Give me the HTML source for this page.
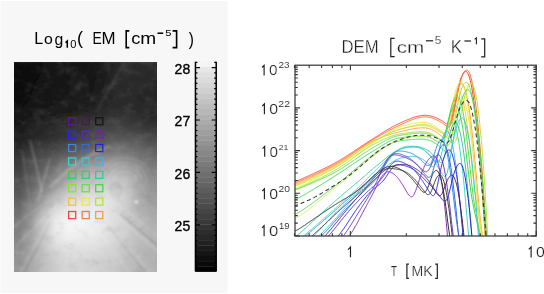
<!DOCTYPE html>
<html><head><meta charset="utf-8"><style>
html,body{margin:0;padding:0;background:#fff;}
body{width:544px;height:294px;overflow:hidden;position:relative;}
svg{position:absolute;left:0;top:0;will-change:transform;}
text{font-family:"Liberation Sans",sans-serif;}
</style></head><body>
<svg width="544" height="294" viewBox="0 0 544 294">
<defs>
<linearGradient id="r0"><stop offset="0.0417" stop-color="rgb(12,12,12)"/><stop offset="0.1250" stop-color="rgb(14,14,14)"/><stop offset="0.2083" stop-color="rgb(18,18,18)"/><stop offset="0.2917" stop-color="rgb(24,24,24)"/><stop offset="0.3750" stop-color="rgb(26,26,26)"/><stop offset="0.4583" stop-color="rgb(24,24,24)"/><stop offset="0.5417" stop-color="rgb(22,22,22)"/><stop offset="0.6250" stop-color="rgb(28,28,28)"/><stop offset="0.7083" stop-color="rgb(38,38,38)"/><stop offset="0.7917" stop-color="rgb(44,44,44)"/><stop offset="0.8750" stop-color="rgb(44,44,44)"/><stop offset="0.9583" stop-color="rgb(42,42,42)"/></linearGradient><linearGradient id="r1"><stop offset="0.0417" stop-color="rgb(12,12,12)"/><stop offset="0.1250" stop-color="rgb(14,14,14)"/><stop offset="0.2083" stop-color="rgb(18,18,18)"/><stop offset="0.2917" stop-color="rgb(24,24,24)"/><stop offset="0.3750" stop-color="rgb(26,26,26)"/><stop offset="0.4583" stop-color="rgb(24,24,24)"/><stop offset="0.5417" stop-color="rgb(22,22,22)"/><stop offset="0.6250" stop-color="rgb(28,28,28)"/><stop offset="0.7083" stop-color="rgb(38,38,38)"/><stop offset="0.7917" stop-color="rgb(44,44,44)"/><stop offset="0.8750" stop-color="rgb(44,44,44)"/><stop offset="0.9583" stop-color="rgb(42,42,42)"/></linearGradient><linearGradient id="r2"><stop offset="0.0417" stop-color="rgb(12,12,12)"/><stop offset="0.1250" stop-color="rgb(14,14,14)"/><stop offset="0.2083" stop-color="rgb(18,18,18)"/><stop offset="0.2917" stop-color="rgb(24,24,24)"/><stop offset="0.3750" stop-color="rgb(26,26,26)"/><stop offset="0.4583" stop-color="rgb(24,24,24)"/><stop offset="0.5417" stop-color="rgb(22,22,22)"/><stop offset="0.6250" stop-color="rgb(28,28,28)"/><stop offset="0.7083" stop-color="rgb(38,38,38)"/><stop offset="0.7917" stop-color="rgb(44,44,44)"/><stop offset="0.8750" stop-color="rgb(44,44,44)"/><stop offset="0.9583" stop-color="rgb(42,42,42)"/></linearGradient><linearGradient id="r3"><stop offset="0.0417" stop-color="rgb(12,12,12)"/><stop offset="0.1250" stop-color="rgb(14,14,14)"/><stop offset="0.2083" stop-color="rgb(18,18,18)"/><stop offset="0.2917" stop-color="rgb(24,24,24)"/><stop offset="0.3750" stop-color="rgb(26,26,26)"/><stop offset="0.4583" stop-color="rgb(24,24,24)"/><stop offset="0.5417" stop-color="rgb(22,22,22)"/><stop offset="0.6250" stop-color="rgb(28,28,28)"/><stop offset="0.7083" stop-color="rgb(38,38,38)"/><stop offset="0.7917" stop-color="rgb(44,44,44)"/><stop offset="0.8750" stop-color="rgb(44,44,44)"/><stop offset="0.9583" stop-color="rgb(42,42,42)"/></linearGradient><linearGradient id="r4"><stop offset="0.0417" stop-color="rgb(12,12,12)"/><stop offset="0.1250" stop-color="rgb(14,14,14)"/><stop offset="0.2083" stop-color="rgb(18,18,18)"/><stop offset="0.2917" stop-color="rgb(24,24,24)"/><stop offset="0.3750" stop-color="rgb(26,26,26)"/><stop offset="0.4583" stop-color="rgb(26,26,26)"/><stop offset="0.5417" stop-color="rgb(22,22,22)"/><stop offset="0.6250" stop-color="rgb(28,28,28)"/><stop offset="0.7083" stop-color="rgb(39,39,39)"/><stop offset="0.7917" stop-color="rgb(44,44,44)"/><stop offset="0.8750" stop-color="rgb(44,44,44)"/><stop offset="0.9583" stop-color="rgb(42,42,42)"/></linearGradient><linearGradient id="r5"><stop offset="0.0417" stop-color="rgb(12,12,12)"/><stop offset="0.1250" stop-color="rgb(15,15,15)"/><stop offset="0.2083" stop-color="rgb(19,19,19)"/><stop offset="0.2917" stop-color="rgb(24,24,24)"/><stop offset="0.3750" stop-color="rgb(25,25,25)"/><stop offset="0.4583" stop-color="rgb(29,29,29)"/><stop offset="0.5417" stop-color="rgb(23,23,23)"/><stop offset="0.6250" stop-color="rgb(29,29,29)"/><stop offset="0.7083" stop-color="rgb(41,41,41)"/><stop offset="0.7917" stop-color="rgb(44,44,44)"/><stop offset="0.8750" stop-color="rgb(43,43,43)"/><stop offset="0.9583" stop-color="rgb(41,41,41)"/></linearGradient><linearGradient id="r6"><stop offset="0.0417" stop-color="rgb(12,12,12)"/><stop offset="0.1250" stop-color="rgb(15,15,15)"/><stop offset="0.2083" stop-color="rgb(19,19,19)"/><stop offset="0.2917" stop-color="rgb(24,24,24)"/><stop offset="0.3750" stop-color="rgb(24,24,24)"/><stop offset="0.4583" stop-color="rgb(31,31,31)"/><stop offset="0.5417" stop-color="rgb(23,23,23)"/><stop offset="0.6250" stop-color="rgb(29,29,29)"/><stop offset="0.7083" stop-color="rgb(42,42,42)"/><stop offset="0.7917" stop-color="rgb(44,44,44)"/><stop offset="0.8750" stop-color="rgb(43,43,43)"/><stop offset="0.9583" stop-color="rgb(41,41,41)"/></linearGradient><linearGradient id="r7"><stop offset="0.0417" stop-color="rgb(12,12,12)"/><stop offset="0.1250" stop-color="rgb(16,16,16)"/><stop offset="0.2083" stop-color="rgb(20,20,20)"/><stop offset="0.2917" stop-color="rgb(24,24,24)"/><stop offset="0.3750" stop-color="rgb(24,24,24)"/><stop offset="0.4583" stop-color="rgb(33,33,33)"/><stop offset="0.5417" stop-color="rgb(24,24,24)"/><stop offset="0.6250" stop-color="rgb(30,30,30)"/><stop offset="0.7083" stop-color="rgb(44,44,44)"/><stop offset="0.7917" stop-color="rgb(44,44,44)"/><stop offset="0.8750" stop-color="rgb(42,42,42)"/><stop offset="0.9583" stop-color="rgb(40,40,40)"/></linearGradient><linearGradient id="r8"><stop offset="0.0417" stop-color="rgb(12,12,12)"/><stop offset="0.1250" stop-color="rgb(16,16,16)"/><stop offset="0.2083" stop-color="rgb(20,20,20)"/><stop offset="0.2917" stop-color="rgb(24,24,24)"/><stop offset="0.3750" stop-color="rgb(24,24,24)"/><stop offset="0.4583" stop-color="rgb(34,34,34)"/><stop offset="0.5417" stop-color="rgb(24,24,24)"/><stop offset="0.6250" stop-color="rgb(30,30,30)"/><stop offset="0.7083" stop-color="rgb(44,44,44)"/><stop offset="0.7917" stop-color="rgb(44,44,44)"/><stop offset="0.8750" stop-color="rgb(42,42,42)"/><stop offset="0.9583" stop-color="rgb(40,40,40)"/></linearGradient><linearGradient id="r9"><stop offset="0.0417" stop-color="rgb(12,12,12)"/><stop offset="0.1250" stop-color="rgb(17,17,17)"/><stop offset="0.2083" stop-color="rgb(21,21,21)"/><stop offset="0.2917" stop-color="rgb(24,24,24)"/><stop offset="0.3750" stop-color="rgb(24,24,24)"/><stop offset="0.4583" stop-color="rgb(33,33,33)"/><stop offset="0.5417" stop-color="rgb(24,24,24)"/><stop offset="0.6250" stop-color="rgb(31,31,31)"/><stop offset="0.7083" stop-color="rgb(44,44,44)"/><stop offset="0.7917" stop-color="rgb(43,43,43)"/><stop offset="0.8750" stop-color="rgb(41,41,41)"/><stop offset="0.9583" stop-color="rgb(40,40,40)"/></linearGradient><linearGradient id="r10"><stop offset="0.0417" stop-color="rgb(13,13,13)"/><stop offset="0.1250" stop-color="rgb(17,17,17)"/><stop offset="0.2083" stop-color="rgb(21,21,21)"/><stop offset="0.2917" stop-color="rgb(24,24,24)"/><stop offset="0.3750" stop-color="rgb(25,25,25)"/><stop offset="0.4583" stop-color="rgb(32,32,32)"/><stop offset="0.5417" stop-color="rgb(25,25,25)"/><stop offset="0.6250" stop-color="rgb(32,32,32)"/><stop offset="0.7083" stop-color="rgb(43,43,43)"/><stop offset="0.7917" stop-color="rgb(43,43,43)"/><stop offset="0.8750" stop-color="rgb(41,41,41)"/><stop offset="0.9583" stop-color="rgb(40,40,40)"/></linearGradient><linearGradient id="r11"><stop offset="0.0417" stop-color="rgb(13,13,13)"/><stop offset="0.1250" stop-color="rgb(17,17,17)"/><stop offset="0.2083" stop-color="rgb(21,21,21)"/><stop offset="0.2917" stop-color="rgb(24,24,24)"/><stop offset="0.3750" stop-color="rgb(25,25,25)"/><stop offset="0.4583" stop-color="rgb(31,31,31)"/><stop offset="0.5417" stop-color="rgb(25,25,25)"/><stop offset="0.6250" stop-color="rgb(33,33,33)"/><stop offset="0.7083" stop-color="rgb(42,42,42)"/><stop offset="0.7917" stop-color="rgb(42,42,42)"/><stop offset="0.8750" stop-color="rgb(40,40,40)"/><stop offset="0.9583" stop-color="rgb(40,40,40)"/></linearGradient><linearGradient id="r12"><stop offset="0.0417" stop-color="rgb(14,14,14)"/><stop offset="0.1250" stop-color="rgb(18,18,18)"/><stop offset="0.2083" stop-color="rgb(22,22,22)"/><stop offset="0.2917" stop-color="rgb(24,24,24)"/><stop offset="0.3750" stop-color="rgb(26,26,26)"/><stop offset="0.4583" stop-color="rgb(30,30,30)"/><stop offset="0.5417" stop-color="rgb(26,26,26)"/><stop offset="0.6250" stop-color="rgb(34,34,34)"/><stop offset="0.7083" stop-color="rgb(42,42,42)"/><stop offset="0.7917" stop-color="rgb(42,42,42)"/><stop offset="0.8750" stop-color="rgb(40,40,40)"/><stop offset="0.9583" stop-color="rgb(40,40,40)"/></linearGradient><linearGradient id="r13"><stop offset="0.0417" stop-color="rgb(15,15,15)"/><stop offset="0.1250" stop-color="rgb(18,18,18)"/><stop offset="0.2083" stop-color="rgb(22,22,22)"/><stop offset="0.2917" stop-color="rgb(24,24,24)"/><stop offset="0.3750" stop-color="rgb(26,26,26)"/><stop offset="0.4583" stop-color="rgb(30,30,30)"/><stop offset="0.5417" stop-color="rgb(27,27,27)"/><stop offset="0.6250" stop-color="rgb(35,35,35)"/><stop offset="0.7083" stop-color="rgb(42,42,42)"/><stop offset="0.7917" stop-color="rgb(42,42,42)"/><stop offset="0.8750" stop-color="rgb(40,40,40)"/><stop offset="0.9583" stop-color="rgb(40,40,40)"/></linearGradient><linearGradient id="r14"><stop offset="0.0417" stop-color="rgb(15,15,15)"/><stop offset="0.1250" stop-color="rgb(19,19,19)"/><stop offset="0.2083" stop-color="rgb(23,23,23)"/><stop offset="0.2917" stop-color="rgb(25,25,25)"/><stop offset="0.3750" stop-color="rgb(27,27,27)"/><stop offset="0.4583" stop-color="rgb(30,30,30)"/><stop offset="0.5417" stop-color="rgb(29,29,29)"/><stop offset="0.6250" stop-color="rgb(36,36,36)"/><stop offset="0.7083" stop-color="rgb(42,42,42)"/><stop offset="0.7917" stop-color="rgb(43,43,43)"/><stop offset="0.8750" stop-color="rgb(41,41,41)"/><stop offset="0.9583" stop-color="rgb(40,40,40)"/></linearGradient><linearGradient id="r15"><stop offset="0.0417" stop-color="rgb(16,16,16)"/><stop offset="0.1250" stop-color="rgb(20,20,20)"/><stop offset="0.2083" stop-color="rgb(24,24,24)"/><stop offset="0.2917" stop-color="rgb(26,26,26)"/><stop offset="0.3750" stop-color="rgb(27,27,27)"/><stop offset="0.4583" stop-color="rgb(31,31,31)"/><stop offset="0.5417" stop-color="rgb(31,31,31)"/><stop offset="0.6250" stop-color="rgb(38,38,38)"/><stop offset="0.7083" stop-color="rgb(43,43,43)"/><stop offset="0.7917" stop-color="rgb(43,43,43)"/><stop offset="0.8750" stop-color="rgb(42,42,42)"/><stop offset="0.9583" stop-color="rgb(41,41,41)"/></linearGradient><linearGradient id="r16"><stop offset="0.0417" stop-color="rgb(17,17,17)"/><stop offset="0.1250" stop-color="rgb(21,21,21)"/><stop offset="0.2083" stop-color="rgb(25,25,25)"/><stop offset="0.2917" stop-color="rgb(27,27,27)"/><stop offset="0.3750" stop-color="rgb(28,28,28)"/><stop offset="0.4583" stop-color="rgb(32,32,32)"/><stop offset="0.5417" stop-color="rgb(33,33,33)"/><stop offset="0.6250" stop-color="rgb(40,40,40)"/><stop offset="0.7083" stop-color="rgb(44,44,44)"/><stop offset="0.7917" stop-color="rgb(44,44,44)"/><stop offset="0.8750" stop-color="rgb(43,43,43)"/><stop offset="0.9583" stop-color="rgb(41,41,41)"/></linearGradient><linearGradient id="r17"><stop offset="0.0417" stop-color="rgb(18,18,18)"/><stop offset="0.1250" stop-color="rgb(22,22,22)"/><stop offset="0.2083" stop-color="rgb(26,26,26)"/><stop offset="0.2917" stop-color="rgb(28,28,28)"/><stop offset="0.3750" stop-color="rgb(30,30,30)"/><stop offset="0.4583" stop-color="rgb(34,34,34)"/><stop offset="0.5417" stop-color="rgb(37,37,37)"/><stop offset="0.6250" stop-color="rgb(43,43,43)"/><stop offset="0.7083" stop-color="rgb(46,46,46)"/><stop offset="0.7917" stop-color="rgb(46,46,46)"/><stop offset="0.8750" stop-color="rgb(44,44,44)"/><stop offset="0.9583" stop-color="rgb(42,42,42)"/></linearGradient><linearGradient id="r18"><stop offset="0.0417" stop-color="rgb(20,20,20)"/><stop offset="0.1250" stop-color="rgb(25,25,25)"/><stop offset="0.2083" stop-color="rgb(29,29,29)"/><stop offset="0.2917" stop-color="rgb(31,31,31)"/><stop offset="0.3750" stop-color="rgb(34,34,34)"/><stop offset="0.4583" stop-color="rgb(38,38,38)"/><stop offset="0.5417" stop-color="rgb(41,41,41)"/><stop offset="0.6250" stop-color="rgb(47,47,47)"/><stop offset="0.7083" stop-color="rgb(50,50,50)"/><stop offset="0.7917" stop-color="rgb(49,49,49)"/><stop offset="0.8750" stop-color="rgb(46,46,46)"/><stop offset="0.9583" stop-color="rgb(43,43,43)"/></linearGradient><linearGradient id="r19"><stop offset="0.0417" stop-color="rgb(22,22,22)"/><stop offset="0.1250" stop-color="rgb(27,27,27)"/><stop offset="0.2083" stop-color="rgb(31,31,31)"/><stop offset="0.2917" stop-color="rgb(34,34,34)"/><stop offset="0.3750" stop-color="rgb(38,38,38)"/><stop offset="0.4583" stop-color="rgb(43,43,43)"/><stop offset="0.5417" stop-color="rgb(47,47,47)"/><stop offset="0.6250" stop-color="rgb(51,51,51)"/><stop offset="0.7083" stop-color="rgb(54,54,54)"/><stop offset="0.7917" stop-color="rgb(52,52,52)"/><stop offset="0.8750" stop-color="rgb(48,48,48)"/><stop offset="0.9583" stop-color="rgb(44,44,44)"/></linearGradient><linearGradient id="r20"><stop offset="0.0417" stop-color="rgb(23,23,23)"/><stop offset="0.1250" stop-color="rgb(30,30,30)"/><stop offset="0.2083" stop-color="rgb(34,34,34)"/><stop offset="0.2917" stop-color="rgb(37,37,37)"/><stop offset="0.3750" stop-color="rgb(42,42,42)"/><stop offset="0.4583" stop-color="rgb(47,47,47)"/><stop offset="0.5417" stop-color="rgb(52,52,52)"/><stop offset="0.6250" stop-color="rgb(57,57,57)"/><stop offset="0.7083" stop-color="rgb(59,59,59)"/><stop offset="0.7917" stop-color="rgb(56,56,56)"/><stop offset="0.8750" stop-color="rgb(51,51,51)"/><stop offset="0.9583" stop-color="rgb(46,46,46)"/></linearGradient><linearGradient id="r21"><stop offset="0.0417" stop-color="rgb(25,25,25)"/><stop offset="0.1250" stop-color="rgb(33,33,33)"/><stop offset="0.2083" stop-color="rgb(37,37,37)"/><stop offset="0.2917" stop-color="rgb(41,41,41)"/><stop offset="0.3750" stop-color="rgb(46,46,46)"/><stop offset="0.4583" stop-color="rgb(52,52,52)"/><stop offset="0.5417" stop-color="rgb(58,58,58)"/><stop offset="0.6250" stop-color="rgb(62,62,62)"/><stop offset="0.7083" stop-color="rgb(64,64,64)"/><stop offset="0.7917" stop-color="rgb(60,60,60)"/><stop offset="0.8750" stop-color="rgb(54,54,54)"/><stop offset="0.9583" stop-color="rgb(48,48,48)"/></linearGradient><linearGradient id="r22"><stop offset="0.0417" stop-color="rgb(27,27,27)"/><stop offset="0.1250" stop-color="rgb(35,35,35)"/><stop offset="0.2083" stop-color="rgb(39,39,39)"/><stop offset="0.2917" stop-color="rgb(43,43,43)"/><stop offset="0.3750" stop-color="rgb(49,49,49)"/><stop offset="0.4583" stop-color="rgb(56,56,56)"/><stop offset="0.5417" stop-color="rgb(62,62,62)"/><stop offset="0.6250" stop-color="rgb(66,66,66)"/><stop offset="0.7083" stop-color="rgb(68,68,68)"/><stop offset="0.7917" stop-color="rgb(64,64,64)"/><stop offset="0.8750" stop-color="rgb(58,58,58)"/><stop offset="0.9583" stop-color="rgb(52,52,52)"/></linearGradient><linearGradient id="r23"><stop offset="0.0417" stop-color="rgb(28,28,28)"/><stop offset="0.1250" stop-color="rgb(36,36,36)"/><stop offset="0.2083" stop-color="rgb(40,40,40)"/><stop offset="0.2917" stop-color="rgb(45,45,45)"/><stop offset="0.3750" stop-color="rgb(52,52,52)"/><stop offset="0.4583" stop-color="rgb(58,58,58)"/><stop offset="0.5417" stop-color="rgb(65,65,65)"/><stop offset="0.6250" stop-color="rgb(70,70,70)"/><stop offset="0.7083" stop-color="rgb(73,73,73)"/><stop offset="0.7917" stop-color="rgb(69,69,69)"/><stop offset="0.8750" stop-color="rgb(64,64,64)"/><stop offset="0.9583" stop-color="rgb(57,57,57)"/></linearGradient><linearGradient id="r24"><stop offset="0.0417" stop-color="rgb(29,29,29)"/><stop offset="0.1250" stop-color="rgb(36,36,36)"/><stop offset="0.2083" stop-color="rgb(41,41,41)"/><stop offset="0.2917" stop-color="rgb(46,46,46)"/><stop offset="0.3750" stop-color="rgb(53,53,53)"/><stop offset="0.4583" stop-color="rgb(61,61,61)"/><stop offset="0.5417" stop-color="rgb(68,68,68)"/><stop offset="0.6250" stop-color="rgb(74,74,74)"/><stop offset="0.7083" stop-color="rgb(78,78,78)"/><stop offset="0.7917" stop-color="rgb(75,75,75)"/><stop offset="0.8750" stop-color="rgb(70,70,70)"/><stop offset="0.9583" stop-color="rgb(63,63,63)"/></linearGradient><linearGradient id="r25"><stop offset="0.0417" stop-color="rgb(30,30,30)"/><stop offset="0.1250" stop-color="rgb(37,37,37)"/><stop offset="0.2083" stop-color="rgb(43,43,43)"/><stop offset="0.2917" stop-color="rgb(48,48,48)"/><stop offset="0.3750" stop-color="rgb(56,56,56)"/><stop offset="0.4583" stop-color="rgb(63,63,63)"/><stop offset="0.5417" stop-color="rgb(71,71,71)"/><stop offset="0.6250" stop-color="rgb(78,78,78)"/><stop offset="0.7083" stop-color="rgb(83,83,83)"/><stop offset="0.7917" stop-color="rgb(81,81,81)"/><stop offset="0.8750" stop-color="rgb(77,77,77)"/><stop offset="0.9583" stop-color="rgb(69,69,69)"/></linearGradient><linearGradient id="r26"><stop offset="0.0417" stop-color="rgb(32,32,32)"/><stop offset="0.1250" stop-color="rgb(39,39,39)"/><stop offset="0.2083" stop-color="rgb(45,45,45)"/><stop offset="0.2917" stop-color="rgb(51,51,51)"/><stop offset="0.3750" stop-color="rgb(59,59,59)"/><stop offset="0.4583" stop-color="rgb(67,67,67)"/><stop offset="0.5417" stop-color="rgb(75,75,75)"/><stop offset="0.6250" stop-color="rgb(83,83,83)"/><stop offset="0.7083" stop-color="rgb(89,89,89)"/><stop offset="0.7917" stop-color="rgb(87,87,87)"/><stop offset="0.8750" stop-color="rgb(83,83,83)"/><stop offset="0.9583" stop-color="rgb(75,75,75)"/></linearGradient><linearGradient id="r27"><stop offset="0.0417" stop-color="rgb(35,35,35)"/><stop offset="0.1250" stop-color="rgb(43,43,43)"/><stop offset="0.2083" stop-color="rgb(50,50,50)"/><stop offset="0.2917" stop-color="rgb(56,56,56)"/><stop offset="0.3750" stop-color="rgb(64,64,64)"/><stop offset="0.4583" stop-color="rgb(72,72,72)"/><stop offset="0.5417" stop-color="rgb(81,81,81)"/><stop offset="0.6250" stop-color="rgb(90,90,90)"/><stop offset="0.7083" stop-color="rgb(96,96,96)"/><stop offset="0.7917" stop-color="rgb(94,94,94)"/><stop offset="0.8750" stop-color="rgb(89,89,89)"/><stop offset="0.9583" stop-color="rgb(80,80,80)"/></linearGradient><linearGradient id="r28"><stop offset="0.0417" stop-color="rgb(38,38,38)"/><stop offset="0.1250" stop-color="rgb(48,48,48)"/><stop offset="0.2083" stop-color="rgb(55,55,55)"/><stop offset="0.2917" stop-color="rgb(61,61,61)"/><stop offset="0.3750" stop-color="rgb(71,71,71)"/><stop offset="0.4583" stop-color="rgb(78,78,78)"/><stop offset="0.5417" stop-color="rgb(88,88,88)"/><stop offset="0.6250" stop-color="rgb(97,97,97)"/><stop offset="0.7083" stop-color="rgb(104,104,104)"/><stop offset="0.7917" stop-color="rgb(102,102,102)"/><stop offset="0.8750" stop-color="rgb(95,95,95)"/><stop offset="0.9583" stop-color="rgb(86,86,86)"/></linearGradient><linearGradient id="r29"><stop offset="0.0417" stop-color="rgb(43,43,43)"/><stop offset="0.1250" stop-color="rgb(54,54,54)"/><stop offset="0.2083" stop-color="rgb(61,61,61)"/><stop offset="0.2917" stop-color="rgb(68,68,68)"/><stop offset="0.3750" stop-color="rgb(78,78,78)"/><stop offset="0.4583" stop-color="rgb(85,85,85)"/><stop offset="0.5417" stop-color="rgb(96,96,96)"/><stop offset="0.6250" stop-color="rgb(106,106,106)"/><stop offset="0.7083" stop-color="rgb(112,112,112)"/><stop offset="0.7917" stop-color="rgb(110,110,110)"/><stop offset="0.8750" stop-color="rgb(101,101,101)"/><stop offset="0.9583" stop-color="rgb(91,91,91)"/></linearGradient><linearGradient id="r30"><stop offset="0.0417" stop-color="rgb(47,47,47)"/><stop offset="0.1250" stop-color="rgb(60,60,60)"/><stop offset="0.2083" stop-color="rgb(67,67,67)"/><stop offset="0.2917" stop-color="rgb(74,74,74)"/><stop offset="0.3750" stop-color="rgb(85,85,85)"/><stop offset="0.4583" stop-color="rgb(93,93,93)"/><stop offset="0.5417" stop-color="rgb(104,104,104)"/><stop offset="0.6250" stop-color="rgb(115,115,115)"/><stop offset="0.7083" stop-color="rgb(121,121,121)"/><stop offset="0.7917" stop-color="rgb(118,118,118)"/><stop offset="0.8750" stop-color="rgb(107,107,107)"/><stop offset="0.9583" stop-color="rgb(96,96,96)"/></linearGradient><linearGradient id="r31"><stop offset="0.0417" stop-color="rgb(51,51,51)"/><stop offset="0.1250" stop-color="rgb(65,65,65)"/><stop offset="0.2083" stop-color="rgb(73,73,73)"/><stop offset="0.2917" stop-color="rgb(81,81,81)"/><stop offset="0.3750" stop-color="rgb(93,93,93)"/><stop offset="0.4583" stop-color="rgb(101,101,101)"/><stop offset="0.5417" stop-color="rgb(114,114,114)"/><stop offset="0.6250" stop-color="rgb(123,123,123)"/><stop offset="0.7083" stop-color="rgb(129,129,129)"/><stop offset="0.7917" stop-color="rgb(125,125,125)"/><stop offset="0.8750" stop-color="rgb(113,113,113)"/><stop offset="0.9583" stop-color="rgb(101,101,101)"/></linearGradient><linearGradient id="r32"><stop offset="0.0417" stop-color="rgb(54,54,54)"/><stop offset="0.1250" stop-color="rgb(69,69,69)"/><stop offset="0.2083" stop-color="rgb(79,79,79)"/><stop offset="0.2917" stop-color="rgb(88,88,88)"/><stop offset="0.3750" stop-color="rgb(102,102,102)"/><stop offset="0.4583" stop-color="rgb(112,112,112)"/><stop offset="0.5417" stop-color="rgb(124,124,124)"/><stop offset="0.6250" stop-color="rgb(133,133,133)"/><stop offset="0.7083" stop-color="rgb(138,138,138)"/><stop offset="0.7917" stop-color="rgb(133,133,133)"/><stop offset="0.8750" stop-color="rgb(119,119,119)"/><stop offset="0.9583" stop-color="rgb(106,106,106)"/></linearGradient><linearGradient id="r33"><stop offset="0.0417" stop-color="rgb(57,57,57)"/><stop offset="0.1250" stop-color="rgb(74,74,74)"/><stop offset="0.2083" stop-color="rgb(84,84,84)"/><stop offset="0.2917" stop-color="rgb(96,96,96)"/><stop offset="0.3750" stop-color="rgb(111,111,111)"/><stop offset="0.4583" stop-color="rgb(123,123,123)"/><stop offset="0.5417" stop-color="rgb(135,135,135)"/><stop offset="0.6250" stop-color="rgb(143,143,143)"/><stop offset="0.7083" stop-color="rgb(147,147,147)"/><stop offset="0.7917" stop-color="rgb(140,140,140)"/><stop offset="0.8750" stop-color="rgb(125,125,125)"/><stop offset="0.9583" stop-color="rgb(111,111,111)"/></linearGradient><linearGradient id="r34"><stop offset="0.0417" stop-color="rgb(60,60,60)"/><stop offset="0.1250" stop-color="rgb(78,78,78)"/><stop offset="0.2083" stop-color="rgb(90,90,90)"/><stop offset="0.2917" stop-color="rgb(103,103,103)"/><stop offset="0.3750" stop-color="rgb(121,121,121)"/><stop offset="0.4583" stop-color="rgb(134,134,134)"/><stop offset="0.5417" stop-color="rgb(147,147,147)"/><stop offset="0.6250" stop-color="rgb(153,153,153)"/><stop offset="0.7083" stop-color="rgb(156,156,156)"/><stop offset="0.7917" stop-color="rgb(147,147,147)"/><stop offset="0.8750" stop-color="rgb(131,131,131)"/><stop offset="0.9583" stop-color="rgb(117,117,117)"/></linearGradient><linearGradient id="r35"><stop offset="0.0417" stop-color="rgb(63,63,63)"/><stop offset="0.1250" stop-color="rgb(82,82,82)"/><stop offset="0.2083" stop-color="rgb(95,95,95)"/><stop offset="0.2917" stop-color="rgb(110,110,110)"/><stop offset="0.3750" stop-color="rgb(130,130,130)"/><stop offset="0.4583" stop-color="rgb(145,145,145)"/><stop offset="0.5417" stop-color="rgb(157,157,157)"/><stop offset="0.6250" stop-color="rgb(162,162,162)"/><stop offset="0.7083" stop-color="rgb(164,164,164)"/><stop offset="0.7917" stop-color="rgb(154,154,154)"/><stop offset="0.8750" stop-color="rgb(137,137,137)"/><stop offset="0.9583" stop-color="rgb(122,122,122)"/></linearGradient><linearGradient id="r36"><stop offset="0.0417" stop-color="rgb(66,66,66)"/><stop offset="0.1250" stop-color="rgb(86,86,86)"/><stop offset="0.2083" stop-color="rgb(100,100,100)"/><stop offset="0.2917" stop-color="rgb(117,117,117)"/><stop offset="0.3750" stop-color="rgb(138,138,138)"/><stop offset="0.4583" stop-color="rgb(154,154,154)"/><stop offset="0.5417" stop-color="rgb(166,166,166)"/><stop offset="0.6250" stop-color="rgb(170,170,170)"/><stop offset="0.7083" stop-color="rgb(172,172,172)"/><stop offset="0.7917" stop-color="rgb(162,162,162)"/><stop offset="0.8750" stop-color="rgb(143,143,143)"/><stop offset="0.9583" stop-color="rgb(126,126,126)"/></linearGradient><linearGradient id="r37"><stop offset="0.0417" stop-color="rgb(68,68,68)"/><stop offset="0.1250" stop-color="rgb(89,89,89)"/><stop offset="0.2083" stop-color="rgb(105,105,105)"/><stop offset="0.2917" stop-color="rgb(124,124,124)"/><stop offset="0.3750" stop-color="rgb(146,146,146)"/><stop offset="0.4583" stop-color="rgb(163,163,163)"/><stop offset="0.5417" stop-color="rgb(173,173,173)"/><stop offset="0.6250" stop-color="rgb(177,177,177)"/><stop offset="0.7083" stop-color="rgb(179,179,179)"/><stop offset="0.7917" stop-color="rgb(169,169,169)"/><stop offset="0.8750" stop-color="rgb(148,148,148)"/><stop offset="0.9583" stop-color="rgb(130,130,130)"/></linearGradient><linearGradient id="r38"><stop offset="0.0417" stop-color="rgb(72,72,72)"/><stop offset="0.1250" stop-color="rgb(93,93,93)"/><stop offset="0.2083" stop-color="rgb(109,109,109)"/><stop offset="0.2917" stop-color="rgb(130,130,130)"/><stop offset="0.3750" stop-color="rgb(154,154,154)"/><stop offset="0.4583" stop-color="rgb(170,170,170)"/><stop offset="0.5417" stop-color="rgb(179,179,179)"/><stop offset="0.6250" stop-color="rgb(183,183,183)"/><stop offset="0.7083" stop-color="rgb(186,186,186)"/><stop offset="0.7917" stop-color="rgb(177,177,177)"/><stop offset="0.8750" stop-color="rgb(153,153,153)"/><stop offset="0.9583" stop-color="rgb(134,134,134)"/></linearGradient><linearGradient id="r39"><stop offset="0.0417" stop-color="rgb(74,74,74)"/><stop offset="0.1250" stop-color="rgb(96,96,96)"/><stop offset="0.2083" stop-color="rgb(113,113,113)"/><stop offset="0.2917" stop-color="rgb(136,136,136)"/><stop offset="0.3750" stop-color="rgb(161,161,161)"/><stop offset="0.4583" stop-color="rgb(177,177,177)"/><stop offset="0.5417" stop-color="rgb(185,185,185)"/><stop offset="0.6250" stop-color="rgb(188,188,188)"/><stop offset="0.7083" stop-color="rgb(193,193,193)"/><stop offset="0.7917" stop-color="rgb(184,184,184)"/><stop offset="0.8750" stop-color="rgb(157,157,157)"/><stop offset="0.9583" stop-color="rgb(138,138,138)"/></linearGradient><linearGradient id="r40"><stop offset="0.0417" stop-color="rgb(77,77,77)"/><stop offset="0.1250" stop-color="rgb(99,99,99)"/><stop offset="0.2083" stop-color="rgb(117,117,117)"/><stop offset="0.2917" stop-color="rgb(143,143,143)"/><stop offset="0.3750" stop-color="rgb(169,169,169)"/><stop offset="0.4583" stop-color="rgb(184,184,184)"/><stop offset="0.5417" stop-color="rgb(191,191,191)"/><stop offset="0.6250" stop-color="rgb(194,194,194)"/><stop offset="0.7083" stop-color="rgb(199,199,199)"/><stop offset="0.7917" stop-color="rgb(189,189,189)"/><stop offset="0.8750" stop-color="rgb(161,161,161)"/><stop offset="0.9583" stop-color="rgb(141,141,141)"/></linearGradient><linearGradient id="r41"><stop offset="0.0417" stop-color="rgb(80,80,80)"/><stop offset="0.1250" stop-color="rgb(103,103,103)"/><stop offset="0.2083" stop-color="rgb(122,122,122)"/><stop offset="0.2917" stop-color="rgb(150,150,150)"/><stop offset="0.3750" stop-color="rgb(176,176,176)"/><stop offset="0.4583" stop-color="rgb(191,191,191)"/><stop offset="0.5417" stop-color="rgb(197,197,197)"/><stop offset="0.6250" stop-color="rgb(200,200,200)"/><stop offset="0.7083" stop-color="rgb(205,205,205)"/><stop offset="0.7917" stop-color="rgb(193,193,193)"/><stop offset="0.8750" stop-color="rgb(165,165,165)"/><stop offset="0.9583" stop-color="rgb(145,145,145)"/></linearGradient><linearGradient id="r42"><stop offset="0.0417" stop-color="rgb(83,83,83)"/><stop offset="0.1250" stop-color="rgb(107,107,107)"/><stop offset="0.2083" stop-color="rgb(128,128,128)"/><stop offset="0.2917" stop-color="rgb(157,157,157)"/><stop offset="0.3750" stop-color="rgb(184,184,184)"/><stop offset="0.4583" stop-color="rgb(198,198,198)"/><stop offset="0.5417" stop-color="rgb(204,204,204)"/><stop offset="0.6250" stop-color="rgb(207,207,207)"/><stop offset="0.7083" stop-color="rgb(210,210,210)"/><stop offset="0.7917" stop-color="rgb(196,196,196)"/><stop offset="0.8750" stop-color="rgb(167,167,167)"/><stop offset="0.9583" stop-color="rgb(148,148,148)"/></linearGradient><linearGradient id="r43"><stop offset="0.0417" stop-color="rgb(86,86,86)"/><stop offset="0.1250" stop-color="rgb(111,111,111)"/><stop offset="0.2083" stop-color="rgb(134,134,134)"/><stop offset="0.2917" stop-color="rgb(164,164,164)"/><stop offset="0.3750" stop-color="rgb(192,192,192)"/><stop offset="0.4583" stop-color="rgb(204,204,204)"/><stop offset="0.5417" stop-color="rgb(210,210,210)"/><stop offset="0.6250" stop-color="rgb(213,213,213)"/><stop offset="0.7083" stop-color="rgb(216,216,216)"/><stop offset="0.7917" stop-color="rgb(198,198,198)"/><stop offset="0.8750" stop-color="rgb(169,169,169)"/><stop offset="0.9583" stop-color="rgb(150,150,150)"/></linearGradient><linearGradient id="r44"><stop offset="0.0417" stop-color="rgb(89,89,89)"/><stop offset="0.1250" stop-color="rgb(115,115,115)"/><stop offset="0.2083" stop-color="rgb(140,140,140)"/><stop offset="0.2917" stop-color="rgb(172,172,172)"/><stop offset="0.3750" stop-color="rgb(199,199,199)"/><stop offset="0.4583" stop-color="rgb(210,210,210)"/><stop offset="0.5417" stop-color="rgb(216,216,216)"/><stop offset="0.6250" stop-color="rgb(218,218,218)"/><stop offset="0.7083" stop-color="rgb(220,220,220)"/><stop offset="0.7917" stop-color="rgb(199,199,199)"/><stop offset="0.8750" stop-color="rgb(171,171,171)"/><stop offset="0.9583" stop-color="rgb(153,153,153)"/></linearGradient><linearGradient id="r45"><stop offset="0.0417" stop-color="rgb(93,93,93)"/><stop offset="0.1250" stop-color="rgb(119,119,119)"/><stop offset="0.2083" stop-color="rgb(147,147,147)"/><stop offset="0.2917" stop-color="rgb(179,179,179)"/><stop offset="0.3750" stop-color="rgb(206,206,206)"/><stop offset="0.4583" stop-color="rgb(216,216,216)"/><stop offset="0.5417" stop-color="rgb(221,221,221)"/><stop offset="0.6250" stop-color="rgb(223,223,223)"/><stop offset="0.7083" stop-color="rgb(222,222,222)"/><stop offset="0.7917" stop-color="rgb(200,200,200)"/><stop offset="0.8750" stop-color="rgb(172,172,172)"/><stop offset="0.9583" stop-color="rgb(155,155,155)"/></linearGradient><linearGradient id="r46"><stop offset="0.0417" stop-color="rgb(96,96,96)"/><stop offset="0.1250" stop-color="rgb(123,123,123)"/><stop offset="0.2083" stop-color="rgb(155,155,155)"/><stop offset="0.2917" stop-color="rgb(188,188,188)"/><stop offset="0.3750" stop-color="rgb(212,212,212)"/><stop offset="0.4583" stop-color="rgb(221,221,221)"/><stop offset="0.5417" stop-color="rgb(225,225,225)"/><stop offset="0.6250" stop-color="rgb(225,225,225)"/><stop offset="0.7083" stop-color="rgb(223,223,223)"/><stop offset="0.7917" stop-color="rgb(201,201,201)"/><stop offset="0.8750" stop-color="rgb(174,174,174)"/><stop offset="0.9583" stop-color="rgb(158,158,158)"/></linearGradient><linearGradient id="r47"><stop offset="0.0417" stop-color="rgb(100,100,100)"/><stop offset="0.1250" stop-color="rgb(128,128,128)"/><stop offset="0.2083" stop-color="rgb(163,163,163)"/><stop offset="0.2917" stop-color="rgb(197,197,197)"/><stop offset="0.3750" stop-color="rgb(218,218,218)"/><stop offset="0.4583" stop-color="rgb(226,226,226)"/><stop offset="0.5417" stop-color="rgb(228,228,228)"/><stop offset="0.6250" stop-color="rgb(227,227,227)"/><stop offset="0.7083" stop-color="rgb(223,223,223)"/><stop offset="0.7917" stop-color="rgb(200,200,200)"/><stop offset="0.8750" stop-color="rgb(175,175,175)"/><stop offset="0.9583" stop-color="rgb(160,160,160)"/></linearGradient><linearGradient id="r48"><stop offset="0.0417" stop-color="rgb(104,104,104)"/><stop offset="0.1250" stop-color="rgb(133,133,133)"/><stop offset="0.2083" stop-color="rgb(171,171,171)"/><stop offset="0.2917" stop-color="rgb(205,205,205)"/><stop offset="0.3750" stop-color="rgb(223,223,223)"/><stop offset="0.4583" stop-color="rgb(230,230,230)"/><stop offset="0.5417" stop-color="rgb(231,231,231)"/><stop offset="0.6250" stop-color="rgb(229,229,229)"/><stop offset="0.7083" stop-color="rgb(221,221,221)"/><stop offset="0.7917" stop-color="rgb(200,200,200)"/><stop offset="0.8750" stop-color="rgb(176,176,176)"/><stop offset="0.9583" stop-color="rgb(162,162,162)"/></linearGradient><linearGradient id="r49"><stop offset="0.0417" stop-color="rgb(108,108,108)"/><stop offset="0.1250" stop-color="rgb(138,138,138)"/><stop offset="0.2083" stop-color="rgb(179,179,179)"/><stop offset="0.2917" stop-color="rgb(213,213,213)"/><stop offset="0.3750" stop-color="rgb(228,228,228)"/><stop offset="0.4583" stop-color="rgb(233,233,233)"/><stop offset="0.5417" stop-color="rgb(234,234,234)"/><stop offset="0.6250" stop-color="rgb(229,229,229)"/><stop offset="0.7083" stop-color="rgb(220,220,220)"/><stop offset="0.7917" stop-color="rgb(200,200,200)"/><stop offset="0.8750" stop-color="rgb(177,177,177)"/><stop offset="0.9583" stop-color="rgb(164,164,164)"/></linearGradient><linearGradient id="r50"><stop offset="0.0417" stop-color="rgb(112,112,112)"/><stop offset="0.1250" stop-color="rgb(142,142,142)"/><stop offset="0.2083" stop-color="rgb(185,185,185)"/><stop offset="0.2917" stop-color="rgb(219,219,219)"/><stop offset="0.3750" stop-color="rgb(232,232,232)"/><stop offset="0.4583" stop-color="rgb(237,237,237)"/><stop offset="0.5417" stop-color="rgb(236,236,236)"/><stop offset="0.6250" stop-color="rgb(231,231,231)"/><stop offset="0.7083" stop-color="rgb(220,220,220)"/><stop offset="0.7917" stop-color="rgb(200,200,200)"/><stop offset="0.8750" stop-color="rgb(179,179,179)"/><stop offset="0.9583" stop-color="rgb(166,166,166)"/></linearGradient><linearGradient id="r51"><stop offset="0.0417" stop-color="rgb(115,115,115)"/><stop offset="0.1250" stop-color="rgb(146,146,146)"/><stop offset="0.2083" stop-color="rgb(190,190,190)"/><stop offset="0.2917" stop-color="rgb(224,224,224)"/><stop offset="0.3750" stop-color="rgb(236,236,236)"/><stop offset="0.4583" stop-color="rgb(240,240,240)"/><stop offset="0.5417" stop-color="rgb(238,238,238)"/><stop offset="0.6250" stop-color="rgb(231,231,231)"/><stop offset="0.7083" stop-color="rgb(220,220,220)"/><stop offset="0.7917" stop-color="rgb(201,201,201)"/><stop offset="0.8750" stop-color="rgb(181,181,181)"/><stop offset="0.9583" stop-color="rgb(168,168,168)"/></linearGradient><linearGradient id="r52"><stop offset="0.0417" stop-color="rgb(118,118,118)"/><stop offset="0.1250" stop-color="rgb(149,149,149)"/><stop offset="0.2083" stop-color="rgb(195,195,195)"/><stop offset="0.2917" stop-color="rgb(228,228,228)"/><stop offset="0.3750" stop-color="rgb(240,240,240)"/><stop offset="0.4583" stop-color="rgb(242,242,242)"/><stop offset="0.5417" stop-color="rgb(239,239,239)"/><stop offset="0.6250" stop-color="rgb(232,232,232)"/><stop offset="0.7083" stop-color="rgb(220,220,220)"/><stop offset="0.7917" stop-color="rgb(203,203,203)"/><stop offset="0.8750" stop-color="rgb(184,184,184)"/><stop offset="0.9583" stop-color="rgb(171,171,171)"/></linearGradient><linearGradient id="r53"><stop offset="0.0417" stop-color="rgb(121,121,121)"/><stop offset="0.1250" stop-color="rgb(153,153,153)"/><stop offset="0.2083" stop-color="rgb(199,199,199)"/><stop offset="0.2917" stop-color="rgb(232,232,232)"/><stop offset="0.3750" stop-color="rgb(243,243,243)"/><stop offset="0.4583" stop-color="rgb(244,244,244)"/><stop offset="0.5417" stop-color="rgb(240,240,240)"/><stop offset="0.6250" stop-color="rgb(232,232,232)"/><stop offset="0.7083" stop-color="rgb(220,220,220)"/><stop offset="0.7917" stop-color="rgb(204,204,204)"/><stop offset="0.8750" stop-color="rgb(186,186,186)"/><stop offset="0.9583" stop-color="rgb(173,173,173)"/></linearGradient><linearGradient id="r54"><stop offset="0.0417" stop-color="rgb(124,124,124)"/><stop offset="0.1250" stop-color="rgb(156,156,156)"/><stop offset="0.2083" stop-color="rgb(202,202,202)"/><stop offset="0.2917" stop-color="rgb(234,234,234)"/><stop offset="0.3750" stop-color="rgb(245,245,245)"/><stop offset="0.4583" stop-color="rgb(245,245,245)"/><stop offset="0.5417" stop-color="rgb(240,240,240)"/><stop offset="0.6250" stop-color="rgb(232,232,232)"/><stop offset="0.7083" stop-color="rgb(220,220,220)"/><stop offset="0.7917" stop-color="rgb(205,205,205)"/><stop offset="0.8750" stop-color="rgb(188,188,188)"/><stop offset="0.9583" stop-color="rgb(175,175,175)"/></linearGradient><linearGradient id="r55"><stop offset="0.0417" stop-color="rgb(126,126,126)"/><stop offset="0.1250" stop-color="rgb(158,158,158)"/><stop offset="0.2083" stop-color="rgb(203,203,203)"/><stop offset="0.2917" stop-color="rgb(234,234,234)"/><stop offset="0.3750" stop-color="rgb(245,245,245)"/><stop offset="0.4583" stop-color="rgb(244,244,244)"/><stop offset="0.5417" stop-color="rgb(239,239,239)"/><stop offset="0.6250" stop-color="rgb(231,231,231)"/><stop offset="0.7083" stop-color="rgb(220,220,220)"/><stop offset="0.7917" stop-color="rgb(205,205,205)"/><stop offset="0.8750" stop-color="rgb(189,189,189)"/><stop offset="0.9583" stop-color="rgb(176,176,176)"/></linearGradient><linearGradient id="r56"><stop offset="0.0417" stop-color="rgb(129,129,129)"/><stop offset="0.1250" stop-color="rgb(160,160,160)"/><stop offset="0.2083" stop-color="rgb(203,203,203)"/><stop offset="0.2917" stop-color="rgb(234,234,234)"/><stop offset="0.3750" stop-color="rgb(244,244,244)"/><stop offset="0.4583" stop-color="rgb(243,243,243)"/><stop offset="0.5417" stop-color="rgb(238,238,238)"/><stop offset="0.6250" stop-color="rgb(231,231,231)"/><stop offset="0.7083" stop-color="rgb(219,219,219)"/><stop offset="0.7917" stop-color="rgb(205,205,205)"/><stop offset="0.8750" stop-color="rgb(190,190,190)"/><stop offset="0.9583" stop-color="rgb(178,178,178)"/></linearGradient><linearGradient id="r57"><stop offset="0.0417" stop-color="rgb(132,132,132)"/><stop offset="0.1250" stop-color="rgb(162,162,162)"/><stop offset="0.2083" stop-color="rgb(202,202,202)"/><stop offset="0.2917" stop-color="rgb(232,232,232)"/><stop offset="0.3750" stop-color="rgb(242,242,242)"/><stop offset="0.4583" stop-color="rgb(240,240,240)"/><stop offset="0.5417" stop-color="rgb(236,236,236)"/><stop offset="0.6250" stop-color="rgb(229,229,229)"/><stop offset="0.7083" stop-color="rgb(218,218,218)"/><stop offset="0.7917" stop-color="rgb(204,204,204)"/><stop offset="0.8750" stop-color="rgb(190,190,190)"/><stop offset="0.9583" stop-color="rgb(179,179,179)"/></linearGradient><linearGradient id="r58"><stop offset="0.0417" stop-color="rgb(134,134,134)"/><stop offset="0.1250" stop-color="rgb(163,163,163)"/><stop offset="0.2083" stop-color="rgb(201,201,201)"/><stop offset="0.2917" stop-color="rgb(230,230,230)"/><stop offset="0.3750" stop-color="rgb(240,240,240)"/><stop offset="0.4583" stop-color="rgb(237,237,237)"/><stop offset="0.5417" stop-color="rgb(234,234,234)"/><stop offset="0.6250" stop-color="rgb(228,228,228)"/><stop offset="0.7083" stop-color="rgb(217,217,217)"/><stop offset="0.7917" stop-color="rgb(204,204,204)"/><stop offset="0.8750" stop-color="rgb(190,190,190)"/><stop offset="0.9583" stop-color="rgb(180,180,180)"/></linearGradient><linearGradient id="r59"><stop offset="0.0417" stop-color="rgb(136,136,136)"/><stop offset="0.1250" stop-color="rgb(164,164,164)"/><stop offset="0.2083" stop-color="rgb(200,200,200)"/><stop offset="0.2917" stop-color="rgb(228,228,228)"/><stop offset="0.3750" stop-color="rgb(238,238,238)"/><stop offset="0.4583" stop-color="rgb(235,235,235)"/><stop offset="0.5417" stop-color="rgb(232,232,232)"/><stop offset="0.6250" stop-color="rgb(226,226,226)"/><stop offset="0.7083" stop-color="rgb(216,216,216)"/><stop offset="0.7917" stop-color="rgb(203,203,203)"/><stop offset="0.8750" stop-color="rgb(190,190,190)"/><stop offset="0.9583" stop-color="rgb(180,180,180)"/></linearGradient><linearGradient id="r60"><stop offset="0.0417" stop-color="rgb(138,138,138)"/><stop offset="0.1250" stop-color="rgb(165,165,165)"/><stop offset="0.2083" stop-color="rgb(199,199,199)"/><stop offset="0.2917" stop-color="rgb(225,225,225)"/><stop offset="0.3750" stop-color="rgb(234,234,234)"/><stop offset="0.4583" stop-color="rgb(232,232,232)"/><stop offset="0.5417" stop-color="rgb(229,229,229)"/><stop offset="0.6250" stop-color="rgb(223,223,223)"/><stop offset="0.7083" stop-color="rgb(214,214,214)"/><stop offset="0.7917" stop-color="rgb(202,202,202)"/><stop offset="0.8750" stop-color="rgb(189,189,189)"/><stop offset="0.9583" stop-color="rgb(180,180,180)"/></linearGradient><linearGradient id="r61"><stop offset="0.0417" stop-color="rgb(140,140,140)"/><stop offset="0.1250" stop-color="rgb(166,166,166)"/><stop offset="0.2083" stop-color="rgb(197,197,197)"/><stop offset="0.2917" stop-color="rgb(222,222,222)"/><stop offset="0.3750" stop-color="rgb(231,231,231)"/><stop offset="0.4583" stop-color="rgb(229,229,229)"/><stop offset="0.5417" stop-color="rgb(227,227,227)"/><stop offset="0.6250" stop-color="rgb(221,221,221)"/><stop offset="0.7083" stop-color="rgb(212,212,212)"/><stop offset="0.7917" stop-color="rgb(200,200,200)"/><stop offset="0.8750" stop-color="rgb(188,188,188)"/><stop offset="0.9583" stop-color="rgb(180,180,180)"/></linearGradient><linearGradient id="r62"><stop offset="0.0417" stop-color="rgb(142,142,142)"/><stop offset="0.1250" stop-color="rgb(167,167,167)"/><stop offset="0.2083" stop-color="rgb(196,196,196)"/><stop offset="0.2917" stop-color="rgb(218,218,218)"/><stop offset="0.3750" stop-color="rgb(227,227,227)"/><stop offset="0.4583" stop-color="rgb(226,226,226)"/><stop offset="0.5417" stop-color="rgb(224,224,224)"/><stop offset="0.6250" stop-color="rgb(218,218,218)"/><stop offset="0.7083" stop-color="rgb(209,209,209)"/><stop offset="0.7917" stop-color="rgb(198,198,198)"/><stop offset="0.8750" stop-color="rgb(187,187,187)"/><stop offset="0.9583" stop-color="rgb(179,179,179)"/></linearGradient><linearGradient id="r63"><stop offset="0.0417" stop-color="rgb(143,143,143)"/><stop offset="0.1250" stop-color="rgb(168,168,168)"/><stop offset="0.2083" stop-color="rgb(195,195,195)"/><stop offset="0.2917" stop-color="rgb(215,215,215)"/><stop offset="0.3750" stop-color="rgb(224,224,224)"/><stop offset="0.4583" stop-color="rgb(223,223,223)"/><stop offset="0.5417" stop-color="rgb(221,221,221)"/><stop offset="0.6250" stop-color="rgb(215,215,215)"/><stop offset="0.7083" stop-color="rgb(207,207,207)"/><stop offset="0.7917" stop-color="rgb(197,197,197)"/><stop offset="0.8750" stop-color="rgb(186,186,186)"/><stop offset="0.9583" stop-color="rgb(178,178,178)"/></linearGradient><linearGradient id="r64"><stop offset="0.0417" stop-color="rgb(145,145,145)"/><stop offset="0.1250" stop-color="rgb(168,168,168)"/><stop offset="0.2083" stop-color="rgb(193,193,193)"/><stop offset="0.2917" stop-color="rgb(213,213,213)"/><stop offset="0.3750" stop-color="rgb(221,221,221)"/><stop offset="0.4583" stop-color="rgb(221,221,221)"/><stop offset="0.5417" stop-color="rgb(219,219,219)"/><stop offset="0.6250" stop-color="rgb(213,213,213)"/><stop offset="0.7083" stop-color="rgb(205,205,205)"/><stop offset="0.7917" stop-color="rgb(195,195,195)"/><stop offset="0.8750" stop-color="rgb(186,186,186)"/><stop offset="0.9583" stop-color="rgb(178,178,178)"/></linearGradient><linearGradient id="r65"><stop offset="0.0417" stop-color="rgb(146,146,146)"/><stop offset="0.1250" stop-color="rgb(169,169,169)"/><stop offset="0.2083" stop-color="rgb(192,192,192)"/><stop offset="0.2917" stop-color="rgb(210,210,210)"/><stop offset="0.3750" stop-color="rgb(218,218,218)"/><stop offset="0.4583" stop-color="rgb(218,218,218)"/><stop offset="0.5417" stop-color="rgb(216,216,216)"/><stop offset="0.6250" stop-color="rgb(211,211,211)"/><stop offset="0.7083" stop-color="rgb(203,203,203)"/><stop offset="0.7917" stop-color="rgb(194,194,194)"/><stop offset="0.8750" stop-color="rgb(185,185,185)"/><stop offset="0.9583" stop-color="rgb(177,177,177)"/></linearGradient><linearGradient id="r66"><stop offset="0.0417" stop-color="rgb(148,148,148)"/><stop offset="0.1250" stop-color="rgb(169,169,169)"/><stop offset="0.2083" stop-color="rgb(191,191,191)"/><stop offset="0.2917" stop-color="rgb(208,208,208)"/><stop offset="0.3750" stop-color="rgb(216,216,216)"/><stop offset="0.4583" stop-color="rgb(216,216,216)"/><stop offset="0.5417" stop-color="rgb(214,214,214)"/><stop offset="0.6250" stop-color="rgb(208,208,208)"/><stop offset="0.7083" stop-color="rgb(201,201,201)"/><stop offset="0.7917" stop-color="rgb(192,192,192)"/><stop offset="0.8750" stop-color="rgb(184,184,184)"/><stop offset="0.9583" stop-color="rgb(177,177,177)"/></linearGradient><linearGradient id="r67"><stop offset="0.0417" stop-color="rgb(149,149,149)"/><stop offset="0.1250" stop-color="rgb(170,170,170)"/><stop offset="0.2083" stop-color="rgb(191,191,191)"/><stop offset="0.2917" stop-color="rgb(206,206,206)"/><stop offset="0.3750" stop-color="rgb(214,214,214)"/><stop offset="0.4583" stop-color="rgb(214,214,214)"/><stop offset="0.5417" stop-color="rgb(212,212,212)"/><stop offset="0.6250" stop-color="rgb(207,207,207)"/><stop offset="0.7083" stop-color="rgb(199,199,199)"/><stop offset="0.7917" stop-color="rgb(191,191,191)"/><stop offset="0.8750" stop-color="rgb(184,184,184)"/><stop offset="0.9583" stop-color="rgb(176,176,176)"/></linearGradient><linearGradient id="r68"><stop offset="0.0417" stop-color="rgb(150,150,150)"/><stop offset="0.1250" stop-color="rgb(170,170,170)"/><stop offset="0.2083" stop-color="rgb(190,190,190)"/><stop offset="0.2917" stop-color="rgb(204,204,204)"/><stop offset="0.3750" stop-color="rgb(212,212,212)"/><stop offset="0.4583" stop-color="rgb(212,212,212)"/><stop offset="0.5417" stop-color="rgb(210,210,210)"/><stop offset="0.6250" stop-color="rgb(205,205,205)"/><stop offset="0.7083" stop-color="rgb(198,198,198)"/><stop offset="0.7917" stop-color="rgb(190,190,190)"/><stop offset="0.8750" stop-color="rgb(183,183,183)"/><stop offset="0.9583" stop-color="rgb(176,176,176)"/></linearGradient><linearGradient id="r69"><stop offset="0.0417" stop-color="rgb(150,150,150)"/><stop offset="0.1250" stop-color="rgb(170,170,170)"/><stop offset="0.2083" stop-color="rgb(190,190,190)"/><stop offset="0.2917" stop-color="rgb(204,204,204)"/><stop offset="0.3750" stop-color="rgb(212,212,212)"/><stop offset="0.4583" stop-color="rgb(212,212,212)"/><stop offset="0.5417" stop-color="rgb(210,210,210)"/><stop offset="0.6250" stop-color="rgb(205,205,205)"/><stop offset="0.7083" stop-color="rgb(198,198,198)"/><stop offset="0.7917" stop-color="rgb(190,190,190)"/><stop offset="0.8750" stop-color="rgb(183,183,183)"/><stop offset="0.9583" stop-color="rgb(176,176,176)"/></linearGradient><linearGradient id="r70"><stop offset="0.0417" stop-color="rgb(150,150,150)"/><stop offset="0.1250" stop-color="rgb(170,170,170)"/><stop offset="0.2083" stop-color="rgb(190,190,190)"/><stop offset="0.2917" stop-color="rgb(204,204,204)"/><stop offset="0.3750" stop-color="rgb(212,212,212)"/><stop offset="0.4583" stop-color="rgb(212,212,212)"/><stop offset="0.5417" stop-color="rgb(210,210,210)"/><stop offset="0.6250" stop-color="rgb(205,205,205)"/><stop offset="0.7083" stop-color="rgb(198,198,198)"/><stop offset="0.7917" stop-color="rgb(190,190,190)"/><stop offset="0.8750" stop-color="rgb(183,183,183)"/><stop offset="0.9583" stop-color="rgb(176,176,176)"/></linearGradient><linearGradient id="r71"><stop offset="0.0417" stop-color="rgb(150,150,150)"/><stop offset="0.1250" stop-color="rgb(170,170,170)"/><stop offset="0.2083" stop-color="rgb(190,190,190)"/><stop offset="0.2917" stop-color="rgb(204,204,204)"/><stop offset="0.3750" stop-color="rgb(212,212,212)"/><stop offset="0.4583" stop-color="rgb(212,212,212)"/><stop offset="0.5417" stop-color="rgb(210,210,210)"/><stop offset="0.6250" stop-color="rgb(205,205,205)"/><stop offset="0.7083" stop-color="rgb(198,198,198)"/><stop offset="0.7917" stop-color="rgb(190,190,190)"/><stop offset="0.8750" stop-color="rgb(183,183,183)"/><stop offset="0.9583" stop-color="rgb(176,176,176)"/></linearGradient><linearGradient id="r72"><stop offset="0.0417" stop-color="rgb(150,150,150)"/><stop offset="0.1250" stop-color="rgb(170,170,170)"/><stop offset="0.2083" stop-color="rgb(190,190,190)"/><stop offset="0.2917" stop-color="rgb(204,204,204)"/><stop offset="0.3750" stop-color="rgb(212,212,212)"/><stop offset="0.4583" stop-color="rgb(212,212,212)"/><stop offset="0.5417" stop-color="rgb(210,210,210)"/><stop offset="0.6250" stop-color="rgb(205,205,205)"/><stop offset="0.7083" stop-color="rgb(198,198,198)"/><stop offset="0.7917" stop-color="rgb(190,190,190)"/><stop offset="0.8750" stop-color="rgb(183,183,183)"/><stop offset="0.9583" stop-color="rgb(176,176,176)"/></linearGradient>
<clipPath id="imgclip"><rect x="14" y="62" width="143" height="210"/></clipPath>
<clipPath id="plotclip"><rect x="295.0" y="65.2" width="241.20000000000005" height="170.8"/></clipPath>
<filter id="blur" x="-10%" y="-10%" width="120%" height="120%"><feGaussianBlur stdDeviation="0 2.0"/></filter>
<filter id="noise" x="0" y="0" width="100%" height="100%"><feTurbulence type="fractalNoise" baseFrequency="0.09 0.12" numOctaves="3" seed="7"/><feColorMatrix type="matrix" values="0 0 0 0 1  0 0 0 0 1  0 0 0 0 1  2.0 0 0 0 -1.0"/></filter>
<filter id="noise2" x="0" y="0" width="100%" height="100%"><feTurbulence type="fractalNoise" baseFrequency="0.09 0.12" numOctaves="3" seed="7"/><feColorMatrix type="matrix" values="0 0 0 0 0  0 0 0 0 0  0 0 0 0 0  -2.0 0 0 0 0.9"/></filter>
<filter id="blur2" x="-10%" y="-10%" width="120%" height="120%"><feGaussianBlur stdDeviation="1.1"/></filter>
</defs>
<rect x="0.5" y="1" width="227.1" height="291.9" fill="#f7f7f7"/>
<g clip-path="url(#imgclip)">
<g filter="url(#blur)"><rect x="14" y="59.00" width="143" height="3.60" fill="url(#r0)"/><rect x="14" y="62.00" width="143" height="3.60" fill="url(#r1)"/><rect x="14" y="65.00" width="143" height="3.60" fill="url(#r2)"/><rect x="14" y="68.00" width="143" height="3.60" fill="url(#r3)"/><rect x="14" y="71.00" width="143" height="3.60" fill="url(#r4)"/><rect x="14" y="74.00" width="143" height="3.60" fill="url(#r5)"/><rect x="14" y="77.00" width="143" height="3.60" fill="url(#r6)"/><rect x="14" y="80.00" width="143" height="3.60" fill="url(#r7)"/><rect x="14" y="83.00" width="143" height="3.60" fill="url(#r8)"/><rect x="14" y="86.00" width="143" height="3.60" fill="url(#r9)"/><rect x="14" y="89.00" width="143" height="3.60" fill="url(#r10)"/><rect x="14" y="92.00" width="143" height="3.60" fill="url(#r11)"/><rect x="14" y="95.00" width="143" height="3.60" fill="url(#r12)"/><rect x="14" y="98.00" width="143" height="3.60" fill="url(#r13)"/><rect x="14" y="101.00" width="143" height="3.60" fill="url(#r14)"/><rect x="14" y="104.00" width="143" height="3.60" fill="url(#r15)"/><rect x="14" y="107.00" width="143" height="3.60" fill="url(#r16)"/><rect x="14" y="110.00" width="143" height="3.60" fill="url(#r17)"/><rect x="14" y="113.00" width="143" height="3.60" fill="url(#r18)"/><rect x="14" y="116.00" width="143" height="3.60" fill="url(#r19)"/><rect x="14" y="119.00" width="143" height="3.60" fill="url(#r20)"/><rect x="14" y="122.00" width="143" height="3.60" fill="url(#r21)"/><rect x="14" y="125.00" width="143" height="3.60" fill="url(#r22)"/><rect x="14" y="128.00" width="143" height="3.60" fill="url(#r23)"/><rect x="14" y="131.00" width="143" height="3.60" fill="url(#r24)"/><rect x="14" y="134.00" width="143" height="3.60" fill="url(#r25)"/><rect x="14" y="137.00" width="143" height="3.60" fill="url(#r26)"/><rect x="14" y="140.00" width="143" height="3.60" fill="url(#r27)"/><rect x="14" y="143.00" width="143" height="3.60" fill="url(#r28)"/><rect x="14" y="146.00" width="143" height="3.60" fill="url(#r29)"/><rect x="14" y="149.00" width="143" height="3.60" fill="url(#r30)"/><rect x="14" y="152.00" width="143" height="3.60" fill="url(#r31)"/><rect x="14" y="155.00" width="143" height="3.60" fill="url(#r32)"/><rect x="14" y="158.00" width="143" height="3.60" fill="url(#r33)"/><rect x="14" y="161.00" width="143" height="3.60" fill="url(#r34)"/><rect x="14" y="164.00" width="143" height="3.60" fill="url(#r35)"/><rect x="14" y="167.00" width="143" height="3.60" fill="url(#r36)"/><rect x="14" y="170.00" width="143" height="3.60" fill="url(#r37)"/><rect x="14" y="173.00" width="143" height="3.60" fill="url(#r38)"/><rect x="14" y="176.00" width="143" height="3.60" fill="url(#r39)"/><rect x="14" y="179.00" width="143" height="3.60" fill="url(#r40)"/><rect x="14" y="182.00" width="143" height="3.60" fill="url(#r41)"/><rect x="14" y="185.00" width="143" height="3.60" fill="url(#r42)"/><rect x="14" y="188.00" width="143" height="3.60" fill="url(#r43)"/><rect x="14" y="191.00" width="143" height="3.60" fill="url(#r44)"/><rect x="14" y="194.00" width="143" height="3.60" fill="url(#r45)"/><rect x="14" y="197.00" width="143" height="3.60" fill="url(#r46)"/><rect x="14" y="200.00" width="143" height="3.60" fill="url(#r47)"/><rect x="14" y="203.00" width="143" height="3.60" fill="url(#r48)"/><rect x="14" y="206.00" width="143" height="3.60" fill="url(#r49)"/><rect x="14" y="209.00" width="143" height="3.60" fill="url(#r50)"/><rect x="14" y="212.00" width="143" height="3.60" fill="url(#r51)"/><rect x="14" y="215.00" width="143" height="3.60" fill="url(#r52)"/><rect x="14" y="218.00" width="143" height="3.60" fill="url(#r53)"/><rect x="14" y="221.00" width="143" height="3.60" fill="url(#r54)"/><rect x="14" y="224.00" width="143" height="3.60" fill="url(#r55)"/><rect x="14" y="227.00" width="143" height="3.60" fill="url(#r56)"/><rect x="14" y="230.00" width="143" height="3.60" fill="url(#r57)"/><rect x="14" y="233.00" width="143" height="3.60" fill="url(#r58)"/><rect x="14" y="236.00" width="143" height="3.60" fill="url(#r59)"/><rect x="14" y="239.00" width="143" height="3.60" fill="url(#r60)"/><rect x="14" y="242.00" width="143" height="3.60" fill="url(#r61)"/><rect x="14" y="245.00" width="143" height="3.60" fill="url(#r62)"/><rect x="14" y="248.00" width="143" height="3.60" fill="url(#r63)"/><rect x="14" y="251.00" width="143" height="3.60" fill="url(#r64)"/><rect x="14" y="254.00" width="143" height="3.60" fill="url(#r65)"/><rect x="14" y="257.00" width="143" height="3.60" fill="url(#r66)"/><rect x="14" y="260.00" width="143" height="3.60" fill="url(#r67)"/><rect x="14" y="263.00" width="143" height="3.60" fill="url(#r68)"/><rect x="14" y="266.00" width="143" height="3.60" fill="url(#r69)"/><rect x="14" y="269.00" width="143" height="3.60" fill="url(#r70)"/><rect x="14" y="272.00" width="143" height="3.60" fill="url(#r71)"/><rect x="14" y="275.00" width="143" height="3.60" fill="url(#r72)"/></g>
<g filter="url(#blur2)"><path d="M113,182 A12,10.8 0 0 1 137,182" stroke="#fff" stroke-opacity="0.12" stroke-width="1.6" fill="none"/><path d="M108,182 A17,15.3 0 0 1 142,182" stroke="#fff" stroke-opacity="0.16" stroke-width="1.6" fill="none"/><path d="M103,182 A22,19.8 0 0 1 147,182" stroke="#fff" stroke-opacity="0.13" stroke-width="1.6" fill="none"/><path d="M98,182 A27,24.3 0 0 1 152,182" stroke="#fff" stroke-opacity="0.1" stroke-width="1.6" fill="none"/><path d="M50,188 Q75,160 110,146" stroke="#fff" stroke-opacity="0.18" stroke-width="3" fill="none"/><path d="M30,140 Q36,165 42,192" stroke="#fff" stroke-opacity="0.2" stroke-width="2" fill="none"/><path d="M50,158 Q44,178 38,202" stroke="#fff" stroke-opacity="0.16" stroke-width="2" fill="none"/><path d="M22,150 Q26,175 30,205" stroke="#fff" stroke-opacity="0.12" stroke-width="1.6" fill="none"/><path d="M80,266 A10,10 0 0 1 100,266" stroke="#fff" stroke-opacity="0.1" stroke-width="1.4" fill="none"/><path d="M73,266 A17,17 0 0 1 107,266" stroke="#fff" stroke-opacity="0.12" stroke-width="1.4" fill="none"/><path d="M66,266 A24,24 0 0 1 114,266" stroke="#fff" stroke-opacity="0.1" stroke-width="1.4" fill="none"/><path d="M59,266 A31,31 0 0 1 121,266" stroke="#fff" stroke-opacity="0.08" stroke-width="1.4" fill="none"/><path d="M112,212 L158,252" stroke="#fff" stroke-opacity="0.14" stroke-width="2" fill="none"/><path d="M118,204 L158,236" stroke="#fff" stroke-opacity="0.12" stroke-width="2" fill="none"/><path d="M104,222 L150,272" stroke="#fff" stroke-opacity="0.12" stroke-width="2" fill="none"/><path d="M96,230 L130,272" stroke="#fff" stroke-opacity="0.1" stroke-width="2" fill="none"/><path d="M56,206 L16,246" stroke="#fff" stroke-opacity="0.14" stroke-width="2" fill="none"/><path d="M52,216 L20,272" stroke="#fff" stroke-opacity="0.12" stroke-width="2" fill="none"/><path d="M48,200 L14,226" stroke="#fff" stroke-opacity="0.1" stroke-width="2" fill="none"/><path d="M120,214 L158,246" stroke="#000" stroke-opacity="0.1" stroke-width="2.5" fill="none"/><path d="M108,226 L146,272" stroke="#000" stroke-opacity="0.08" stroke-width="2.5" fill="none"/><path d="M50,222 L24,272" stroke="#000" stroke-opacity="0.08" stroke-width="2.5" fill="none"/><ellipse cx="116" cy="190" rx="7" ry="9" fill="#000" fill-opacity="0.06"/><circle cx="136.5" cy="202" r="1.6" fill="#fff" fill-opacity="0.8"/><path d="M124,62 Q112,85 96,112" stroke="#fff" stroke-opacity="0.07" stroke-width="3" fill="none"/><ellipse cx="77" cy="88" rx="3" ry="2.5" fill="#fff" fill-opacity="0.08"/><circle cx="92" cy="99" r="1" fill="#fff" fill-opacity="0.3"/></g>
<rect x="14" y="62" width="143" height="210" filter="url(#noise)" opacity="0.11"/><rect x="14" y="62" width="143" height="210" filter="url(#noise2)" opacity="0.07"/>
</g>
<g><rect x="68.60" y="117.70" width="7.1" height="7.1" fill="none" stroke="#6214a0" stroke-width="1.25"/><rect x="82.15" y="117.70" width="7.1" height="7.1" fill="none" stroke="#4c1a50" stroke-width="1.25"/><rect x="95.70" y="117.70" width="7.1" height="7.1" fill="none" stroke="#141414" stroke-width="1.25"/><rect x="68.60" y="131.10" width="7.1" height="7.1" fill="none" stroke="#2828e8" stroke-width="1.25"/><rect x="82.15" y="131.10" width="7.1" height="7.1" fill="none" stroke="#5a28d0" stroke-width="1.25"/><rect x="95.70" y="131.10" width="7.1" height="7.1" fill="none" stroke="#7a20b0" stroke-width="1.25"/><rect x="68.60" y="144.50" width="7.1" height="7.1" fill="none" stroke="#3a88e8" stroke-width="1.25"/><rect x="82.15" y="144.50" width="7.1" height="7.1" fill="none" stroke="#3468e4" stroke-width="1.25"/><rect x="95.70" y="144.50" width="7.1" height="7.1" fill="none" stroke="#2424dc" stroke-width="1.25"/><rect x="68.60" y="157.90" width="7.1" height="7.1" fill="none" stroke="#34d8cc" stroke-width="1.25"/><rect x="82.15" y="157.90" width="7.1" height="7.1" fill="none" stroke="#34c8dc" stroke-width="1.25"/><rect x="95.70" y="157.90" width="7.1" height="7.1" fill="none" stroke="#44b0e8" stroke-width="1.25"/><rect x="68.60" y="171.30" width="7.1" height="7.1" fill="none" stroke="#34d044" stroke-width="1.25"/><rect x="82.15" y="171.30" width="7.1" height="7.1" fill="none" stroke="#34cc70" stroke-width="1.25"/><rect x="95.70" y="171.30" width="7.1" height="7.1" fill="none" stroke="#34c89c" stroke-width="1.25"/><rect x="68.60" y="184.70" width="7.1" height="7.1" fill="none" stroke="#8ce034" stroke-width="1.25"/><rect x="82.15" y="184.70" width="7.1" height="7.1" fill="none" stroke="#68e040" stroke-width="1.25"/><rect x="95.70" y="184.70" width="7.1" height="7.1" fill="none" stroke="#40d840" stroke-width="1.25"/><rect x="68.60" y="198.10" width="7.1" height="7.1" fill="none" stroke="#f0c040" stroke-width="1.25"/><rect x="82.15" y="198.10" width="7.1" height="7.1" fill="none" stroke="#f0e840" stroke-width="1.25"/><rect x="95.70" y="198.10" width="7.1" height="7.1" fill="none" stroke="#b4e040" stroke-width="1.25"/><rect x="68.60" y="211.50" width="7.1" height="7.1" fill="none" stroke="#f04444" stroke-width="1.25"/><rect x="82.15" y="211.50" width="7.1" height="7.1" fill="none" stroke="#f08040" stroke-width="1.25"/><rect x="95.70" y="211.50" width="7.1" height="7.1" fill="none" stroke="#f0a040" stroke-width="1.25"/></g>
<!-- colorbar -->
<g><rect x="195.45" y="61.80" width="20.75" height="5.55" fill="rgb(244,244,244)"/><rect x="195.45" y="67.05" width="20.75" height="5.54" fill="rgb(231,231,231)"/><rect x="195.45" y="72.29" width="20.75" height="5.55" fill="rgb(225,225,225)"/><rect x="195.45" y="77.53" width="20.75" height="5.55" fill="rgb(219,219,219)"/><rect x="195.45" y="82.78" width="20.75" height="5.55" fill="rgb(213,213,213)"/><rect x="195.45" y="88.03" width="20.75" height="5.55" fill="rgb(207,207,207)"/><rect x="195.45" y="93.27" width="20.75" height="5.54" fill="rgb(201,201,201)"/><rect x="195.45" y="98.52" width="20.75" height="5.54" fill="rgb(195,195,195)"/><rect x="195.45" y="103.76" width="20.75" height="5.55" fill="rgb(189,189,189)"/><rect x="195.45" y="109.00" width="20.75" height="5.55" fill="rgb(183,183,183)"/><rect x="195.45" y="114.25" width="20.75" height="5.55" fill="rgb(177,177,177)"/><rect x="195.45" y="119.50" width="20.75" height="5.55" fill="rgb(171,171,171)"/><rect x="195.45" y="124.74" width="20.75" height="5.55" fill="rgb(165,165,165)"/><rect x="195.45" y="129.99" width="20.75" height="5.55" fill="rgb(159,159,159)"/><rect x="195.45" y="135.23" width="20.75" height="5.54" fill="rgb(153,153,153)"/><rect x="195.45" y="140.47" width="20.75" height="5.55" fill="rgb(147,147,147)"/><rect x="195.45" y="145.72" width="20.75" height="5.55" fill="rgb(141,141,141)"/><rect x="195.45" y="150.97" width="20.75" height="5.54" fill="rgb(135,135,135)"/><rect x="195.45" y="156.21" width="20.75" height="5.55" fill="rgb(129,129,129)"/><rect x="195.45" y="161.45" width="20.75" height="5.55" fill="rgb(123,123,123)"/><rect x="195.45" y="166.70" width="20.75" height="5.55" fill="rgb(117,117,117)"/><rect x="195.45" y="171.94" width="20.75" height="5.55" fill="rgb(111,111,111)"/><rect x="195.45" y="177.19" width="20.75" height="5.55" fill="rgb(105,105,105)"/><rect x="195.45" y="182.44" width="20.75" height="5.55" fill="rgb(99,99,99)"/><rect x="195.45" y="187.68" width="20.75" height="5.55" fill="rgb(93,93,93)"/><rect x="195.45" y="192.93" width="20.75" height="5.55" fill="rgb(87,87,87)"/><rect x="195.45" y="198.17" width="20.75" height="5.55" fill="rgb(81,81,81)"/><rect x="195.45" y="203.42" width="20.75" height="5.55" fill="rgb(75,75,75)"/><rect x="195.45" y="208.66" width="20.75" height="5.55" fill="rgb(69,69,69)"/><rect x="195.45" y="213.91" width="20.75" height="5.54" fill="rgb(63,63,63)"/><rect x="195.45" y="219.15" width="20.75" height="5.55" fill="rgb(57,57,57)"/><rect x="195.45" y="224.39" width="20.75" height="5.55" fill="rgb(51,51,51)"/><rect x="195.45" y="229.64" width="20.75" height="5.55" fill="rgb(45,45,45)"/><rect x="195.45" y="234.88" width="20.75" height="5.55" fill="rgb(39,39,39)"/><rect x="195.45" y="240.13" width="20.75" height="5.55" fill="rgb(33,33,33)"/><rect x="195.45" y="245.38" width="20.75" height="5.55" fill="rgb(27,27,27)"/><rect x="195.45" y="250.62" width="20.75" height="5.55" fill="rgb(21,21,21)"/><rect x="195.45" y="255.87" width="20.75" height="5.55" fill="rgb(15,15,15)"/><rect x="195.45" y="261.11" width="20.75" height="5.55" fill="rgb(9,9,9)"/><rect x="195.45" y="266.36" width="20.75" height="5.55" fill="rgb(3,3,3)"/></g>
<path d="M195.45,62.36h2.0M216.2,62.36h-2.0M195.45,67.60h4.5M216.2,67.60h-4.5M195.45,72.84h2.0M216.2,72.84h-2.0M195.45,78.08h2.0M216.2,78.08h-2.0M195.45,83.32h2.0M216.2,83.32h-2.0M195.45,88.56h2.0M216.2,88.56h-2.0M195.45,93.80h2.0M216.2,93.80h-2.0M195.45,99.04h2.0M216.2,99.04h-2.0M195.45,104.28h2.0M216.2,104.28h-2.0M195.45,109.52h2.0M216.2,109.52h-2.0M195.45,114.76h2.0M216.2,114.76h-2.0M195.45,120.00h4.5M216.2,120.00h-4.5M195.45,125.24h2.0M216.2,125.24h-2.0M195.45,130.48h2.0M216.2,130.48h-2.0M195.45,135.72h2.0M216.2,135.72h-2.0M195.45,140.96h2.0M216.2,140.96h-2.0M195.45,146.20h2.0M216.2,146.20h-2.0M195.45,151.44h2.0M216.2,151.44h-2.0M195.45,156.68h2.0M216.2,156.68h-2.0M195.45,161.92h2.0M216.2,161.92h-2.0M195.45,167.16h2.0M216.2,167.16h-2.0M195.45,172.40h4.5M216.2,172.40h-4.5M195.45,177.64h2.0M216.2,177.64h-2.0M195.45,182.88h2.0M216.2,182.88h-2.0M195.45,188.12h2.0M216.2,188.12h-2.0M195.45,193.36h2.0M216.2,193.36h-2.0M195.45,198.60h2.0M216.2,198.60h-2.0M195.45,203.84h2.0M216.2,203.84h-2.0M195.45,209.08h2.0M216.2,209.08h-2.0M195.45,214.32h2.0M216.2,214.32h-2.0M195.45,219.56h2.0M216.2,219.56h-2.0M195.45,224.80h4.5M216.2,224.80h-4.5M195.45,230.04h2.0M216.2,230.04h-2.0M195.45,235.28h2.0M216.2,235.28h-2.0M195.45,240.52h2.0M216.2,240.52h-2.0M195.45,245.76h2.0M216.2,245.76h-2.0M195.45,251.00h2.0M216.2,251.00h-2.0M195.45,256.24h2.0M216.2,256.24h-2.0M195.45,261.48h2.0M216.2,261.48h-2.0M195.45,266.72h2.0M216.2,266.72h-2.0" stroke="#000" stroke-width="1.2" fill="none"/>
<path d="M195.45,61.8V271.6M216.2,61.8V271.6" stroke="#000" stroke-width="1.5" fill="none"/>
<g font-size="14" fill="#000" stroke="#000" stroke-width="0.35">
<text x="174.6" y="73.6">28</text>
<text x="174.6" y="126.1">27</text>
<text x="174.6" y="178.5">26</text>
<text x="174.6" y="230.9">25</text>
</g>
<g><text transform="translate(34.28,44.10) scale(0.989,1)" font-size="16.28" fill="#000">L</text><text transform="translate(43.93,43.95) scale(1.061,1)" font-size="14.97" fill="#000">o</text><text transform="translate(54.44,45.06) scale(0.925,1)" font-size="17.07" fill="#000">g</text><text transform="translate(70.37,47.70) scale(1.106,1)" font-size="10.03" fill="#000">0</text><text transform="translate(76.88,44.38) scale(0.981,1)" font-size="18.46" fill="#000">(</text><text transform="translate(92.46,44.10) scale(0.821,1)" font-size="16.86" fill="#000">E</text><text transform="translate(101.51,44.10) scale(1.002,1)" font-size="16.86" fill="#000">M</text><text transform="translate(131.32,43.95) scale(1.167,1)" font-size="15.70" fill="#000">c</text><text transform="translate(140.23,44.10) scale(1.197,1)" font-size="15.98" fill="#000">m</text><text transform="translate(165.15,35.71) scale(1.279,1)" font-size="8.74" fill="#000">5</text><text transform="translate(188.81,44.59) scale(0.819,1)" font-size="18.89" fill="#000">)</text><path d="M129.3,30.9H126.2V47.6H129.3" stroke="#000" stroke-width="1.6" fill="none"/><path d="M65.6,42.6L67.3,41.0V47.8" stroke="#000" stroke-width="1.5" fill="none"/><path d="M157.5,33.2H163.2" stroke="#000" stroke-width="1.5" fill="none"/><path d="M172.6,30.9H176.6V47.6H172.6" stroke="#000" stroke-width="1.6" fill="none"/></g>
<!-- plot -->
<g clip-path="url(#plotclip)"><path d="M294.0,181.7L294.5,181.6L295.0,181.5L295.5,181.3L296.0,181.2L296.5,181.0L297.0,180.8L297.6,180.7L298.1,180.5L298.6,180.3L299.1,180.1L299.6,179.8L300.1,179.6L300.6,179.4L301.1,179.2L301.6,179.0L302.1,178.8L302.6,178.5L303.1,178.3L303.6,178.1L304.2,177.8L304.7,177.6L305.2,177.4L305.7,177.2L306.2,176.9L306.7,176.7L307.2,176.5L307.7,176.2L308.2,176.0L308.7,175.8L309.2,175.5L309.7,175.3L310.2,175.1L310.8,174.9L311.3,174.6L311.8,174.4L312.3,174.2L312.8,173.9L313.3,173.7L313.8,173.5L314.3,173.2L314.8,173.0L315.3,172.8L315.8,172.5L316.3,172.3L316.8,172.0L317.4,171.8L317.9,171.6L318.4,171.3L318.9,171.1L319.4,170.9L319.9,170.6L320.4,170.4L320.9,170.1L321.4,169.9L321.9,169.6L322.4,169.4L322.9,169.1L323.4,168.9L324.0,168.6L324.5,168.4L325.0,168.2L325.5,167.9L326.0,167.6L326.5,167.4L327.0,167.1L327.5,166.9L328.0,166.6L328.5,166.4L329.0,166.1L329.5,165.8L330.0,165.6L330.6,165.3L331.1,165.1L331.6,164.8L332.1,164.5L332.6,164.2L333.1,164.0L333.6,163.7L334.1,163.4L334.6,163.1L335.1,162.9L335.6,162.6L336.1,162.3L336.6,162.0L337.2,161.7L337.7,161.4L338.2,161.2L338.7,160.9L339.2,160.6L339.7,160.3L340.2,160.0L340.7,159.7L341.2,159.4L341.7,159.1L342.2,158.8L342.7,158.4L343.2,158.1L343.8,157.8L344.3,157.5L344.8,157.2L345.3,156.9L345.8,156.6L346.3,156.2L346.8,155.9L347.3,155.6L347.8,155.3L348.3,154.9L348.8,154.6L349.3,154.3L349.8,153.9L350.4,153.6L350.9,153.3L351.4,153.0L351.9,152.6L352.4,152.3L352.9,152.0L353.4,151.6L353.9,151.3L354.4,150.9L354.9,150.6L355.4,150.3L355.9,149.9L356.5,149.6L357.0,149.3L357.5,148.9L358.0,148.6L358.5,148.2L359.0,147.9L359.5,147.6L360.0,147.2L360.5,146.9L361.0,146.5L361.5,146.2L362.0,145.9L362.5,145.5L363.1,145.2L363.6,144.9L364.1,144.5L364.6,144.2L365.1,143.9L365.6,143.5L366.1,143.2L366.6,142.9L367.1,142.5L367.6,142.2L368.1,141.9L368.6,141.5L369.1,141.2L369.7,140.9L370.2,140.6L370.7,140.2L371.2,139.9L371.7,139.6L372.2,139.3L372.7,139.0L373.2,138.6L373.7,138.3L374.2,138.0L374.7,137.7L375.2,137.4L375.7,137.0L376.3,136.7L376.8,136.4L377.3,136.1L377.8,135.8L378.3,135.4L378.8,135.1L379.3,134.8L379.8,134.5L380.3,134.2L380.8,133.8L381.3,133.5L381.8,133.2L382.3,132.9L382.9,132.6L383.4,132.2L383.9,131.9L384.4,131.6L384.9,131.3L385.4,131.0L385.9,130.7L386.4,130.4L386.9,130.0L387.4,129.7L387.9,129.4L388.4,129.1L388.9,128.8L389.5,128.5L390.0,128.2L390.5,128.0L391.0,127.7L391.5,127.4L392.0,127.1L392.5,126.8L393.0,126.6L393.5,126.3L394.0,126.0L394.5,125.8L395.0,125.5L395.5,125.3L396.1,125.0L396.6,124.8L397.1,124.5L397.6,124.3L398.1,124.0L398.6,123.8L399.1,123.5L399.6,123.3L400.1,123.1L400.6,122.8L401.1,122.6L401.6,122.4L402.1,122.2L402.7,121.9L403.2,121.7L403.7,121.5L404.2,121.2L404.7,121.0L405.2,120.8L405.7,120.6L406.2,120.4L406.7,120.1L407.2,119.9L407.7,119.7L408.2,119.5L408.7,119.3L409.3,119.1L409.8,118.9L410.3,118.7L410.8,118.5L411.3,118.3L411.8,118.1L412.3,117.9L412.8,117.7L413.3,117.5L413.8,117.4L414.3,117.2L414.8,117.0L415.3,116.9L415.9,116.7L416.4,116.6L416.9,116.4L417.4,116.3L417.9,116.2L418.4,116.1L418.9,116.0L419.4,115.9L419.9,115.8L420.4,115.7L420.9,115.6L421.4,115.5L421.9,115.5L422.5,115.4L423.0,115.4L423.5,115.4L424.0,115.3L424.5,115.3L425.0,115.3L425.5,115.3L426.0,115.4L426.5,115.4L427.0,115.4L427.5,115.5L428.0,115.6L428.5,115.6L429.1,115.7L429.6,115.8L430.1,115.9L430.6,116.0L431.1,116.2L431.6,116.3L432.1,116.4L432.6,116.6L433.1,116.7L433.6,116.9L434.1,117.1L434.6,117.3L435.1,117.4L435.7,117.6L436.2,117.9L436.7,118.1L437.2,118.3L437.7,118.5L438.2,118.8L438.7,119.0L439.2,119.3L439.7,119.5L440.2,119.8L440.7,120.1L441.2,120.4L441.7,120.7L442.3,121.1L442.8,121.4L443.3,121.8L443.8,122.1L444.3,122.5L444.8,122.8L445.3,123.2L445.8,123.5L446.3,123.8L446.8,124.1L447.3,124.3L447.8,124.4L448.3,124.4L448.9,124.2L449.4,123.8L449.9,123.2L450.4,122.4L450.9,121.2L451.4,119.8L451.9,118.1L452.4,116.1L452.9,114.0L453.4,111.6L453.9,109.1L454.4,106.6L454.9,104.0L455.5,101.3L456.0,98.8L456.5,96.2L457.0,93.7L457.5,91.3L458.0,89.1L458.5,86.9L459.0,84.8L459.5,82.9L460.0,81.2L460.5,79.5L461.0,78.0L461.5,76.7L462.1,75.5L462.6,74.4L463.1,73.5L463.6,72.8L464.1,72.2L464.6,71.8L465.1,71.5L465.6,71.4L466.1,71.4L466.6,71.7L467.1,72.2L467.6,72.9L468.1,73.9L468.7,75.1L469.2,76.6L469.7,78.3L470.2,80.2L470.7,82.3L471.2,84.7L471.7,87.3L472.2,90.2L472.7,93.3L473.2,96.6L473.7,100.2L474.2,104.0L474.7,108.0L475.3,112.2L475.8,116.7L476.3,121.5L476.8,126.4L477.3,131.6L477.8,137.0L478.3,142.6L478.8,148.4L479.3,154.5L479.8,160.7L480.3,167.2L480.8,173.8L481.4,180.6L481.9,187.6L482.4,194.7L482.9,201.9L483.4,209.1L483.9,216.4L484.4,223.6L484.9,230.8L485.4,237.8L485.9,241.0" stroke="#ff3c3c" stroke-width="1.0" fill="none"/><path d="M294.0,183.0L294.5,182.9L295.0,182.8L295.5,182.6L296.0,182.5L296.5,182.3L297.0,182.1L297.6,182.0L298.1,181.8L298.6,181.6L299.1,181.4L299.6,181.2L300.1,181.0L300.6,180.7L301.1,180.5L301.6,180.3L302.1,180.1L302.6,179.9L303.1,179.6L303.6,179.4L304.2,179.2L304.7,179.0L305.2,178.7L305.7,178.5L306.2,178.3L306.7,178.1L307.2,177.8L307.7,177.6L308.2,177.4L308.7,177.2L309.2,176.9L309.7,176.7L310.2,176.5L310.8,176.2L311.3,176.0L311.8,175.8L312.3,175.6L312.8,175.3L313.3,175.1L313.8,174.9L314.3,174.6L314.8,174.4L315.3,174.2L315.8,173.9L316.3,173.7L316.8,173.5L317.4,173.2L317.9,173.0L318.4,172.8L318.9,172.5L319.4,172.3L319.9,172.1L320.4,171.8L320.9,171.6L321.4,171.3L321.9,171.1L322.4,170.9L322.9,170.6L323.4,170.4L324.0,170.1L324.5,169.9L325.0,169.6L325.5,169.4L326.0,169.1L326.5,168.9L327.0,168.6L327.5,168.4L328.0,168.1L328.5,167.9L329.0,167.6L329.5,167.3L330.0,167.1L330.6,166.8L331.1,166.5L331.6,166.3L332.1,166.0L332.6,165.7L333.1,165.5L333.6,165.2L334.1,164.9L334.6,164.6L335.1,164.4L335.6,164.1L336.1,163.8L336.6,163.5L337.2,163.2L337.7,162.9L338.2,162.6L338.7,162.3L339.2,162.0L339.7,161.7L340.2,161.4L340.7,161.1L341.2,160.8L341.7,160.5L342.2,160.2L342.7,159.8L343.2,159.5L343.8,159.2L344.3,158.9L344.8,158.6L345.3,158.2L345.8,157.9L346.3,157.6L346.8,157.2L347.3,156.9L347.8,156.6L348.3,156.2L348.8,155.9L349.3,155.6L349.8,155.2L350.4,154.9L350.9,154.5L351.4,154.2L351.9,153.8L352.4,153.5L352.9,153.1L353.4,152.8L353.9,152.4L354.4,152.1L354.9,151.8L355.4,151.4L355.9,151.1L356.5,150.7L357.0,150.4L357.5,150.0L358.0,149.7L358.5,149.3L359.0,149.0L359.5,148.6L360.0,148.3L360.5,147.9L361.0,147.6L361.5,147.2L362.0,146.9L362.5,146.5L363.1,146.2L363.6,145.8L364.1,145.5L364.6,145.2L365.1,144.8L365.6,144.5L366.1,144.2L366.6,143.8L367.1,143.5L367.6,143.2L368.1,142.8L368.6,142.5L369.1,142.2L369.7,141.9L370.2,141.5L370.7,141.2L371.2,140.9L371.7,140.6L372.2,140.3L372.7,139.9L373.2,139.6L373.7,139.3L374.2,139.0L374.7,138.7L375.2,138.4L375.7,138.1L376.3,137.8L376.8,137.5L377.3,137.2L377.8,136.9L378.3,136.6L378.8,136.3L379.3,136.0L379.8,135.7L380.3,135.4L380.8,135.1L381.3,134.8L381.8,134.5L382.3,134.2L382.9,133.9L383.4,133.6L383.9,133.3L384.4,133.0L384.9,132.8L385.4,132.5L385.9,132.2L386.4,131.9L386.9,131.6L387.4,131.3L387.9,131.1L388.4,130.8L388.9,130.5L389.5,130.2L390.0,130.0L390.5,129.7L391.0,129.4L391.5,129.2L392.0,128.9L392.5,128.7L393.0,128.4L393.5,128.2L394.0,127.9L394.5,127.7L395.0,127.4L395.5,127.2L396.1,126.9L396.6,126.7L397.1,126.5L397.6,126.2L398.1,126.0L398.6,125.7L399.1,125.5L399.6,125.3L400.1,125.0L400.6,124.8L401.1,124.6L401.6,124.3L402.1,124.1L402.7,123.9L403.2,123.6L403.7,123.4L404.2,123.2L404.7,122.9L405.2,122.7L405.7,122.5L406.2,122.2L406.7,122.0L407.2,121.8L407.7,121.5L408.2,121.3L408.7,121.1L409.3,120.9L409.8,120.6L410.3,120.4L410.8,120.2L411.3,120.0L411.8,119.8L412.3,119.6L412.8,119.4L413.3,119.2L413.8,119.0L414.3,118.9L414.8,118.7L415.3,118.5L415.9,118.4L416.4,118.2L416.9,118.1L417.4,117.9L417.9,117.8L418.4,117.7L418.9,117.5L419.4,117.4L419.9,117.3L420.4,117.2L420.9,117.2L421.4,117.1L421.9,117.0L422.5,117.0L423.0,116.9L423.5,116.9L424.0,116.9L424.5,116.9L425.0,116.9L425.5,116.9L426.0,116.9L426.5,116.9L427.0,117.0L427.5,117.0L428.0,117.1L428.5,117.2L429.1,117.3L429.6,117.4L430.1,117.5L430.6,117.6L431.1,117.8L431.6,117.9L432.1,118.1L432.6,118.2L433.1,118.4L433.6,118.6L434.1,118.8L434.6,119.0L435.1,119.2L435.7,119.4L436.2,119.6L436.7,119.9L437.2,120.1L437.7,120.3L438.2,120.6L438.7,120.9L439.2,121.1L439.7,121.4L440.2,121.7L440.7,122.0L441.2,122.3L441.7,122.7L442.3,123.0L442.8,123.4L443.3,123.7L443.8,124.1L444.3,124.5L444.8,124.9L445.3,125.2L445.8,125.6L446.3,126.0L446.8,126.3L447.3,126.5L447.8,126.7L448.3,126.8L448.9,126.7L449.4,126.5L449.9,126.0L450.4,125.3L450.9,124.4L451.4,123.1L451.9,121.6L452.4,119.7L452.9,117.7L453.4,115.4L453.9,112.9L454.4,110.3L454.9,107.6L455.5,104.9L456.0,102.2L456.5,99.5L457.0,96.9L457.5,94.3L458.0,91.9L458.5,89.5L459.0,87.2L459.5,85.1L460.0,83.1L460.5,81.2L461.0,79.5L461.5,77.9L462.1,76.5L462.6,75.1L463.1,74.0L463.6,73.0L464.1,72.1L464.6,71.4L465.1,70.8L465.6,70.4L466.1,70.1L466.6,70.0L467.1,70.1L467.6,70.3L468.1,70.8L468.7,71.5L469.2,72.5L469.7,73.6L470.2,75.0L470.7,76.7L471.2,78.5L471.7,80.6L472.2,82.9L472.7,85.4L473.2,88.1L473.7,91.1L474.2,94.3L474.7,97.7L475.3,101.3L475.8,105.2L476.3,109.3L476.8,113.6L477.3,118.2L477.8,122.9L478.3,127.9L478.8,133.1L479.3,138.5L479.8,144.1L480.3,150.0L480.8,156.1L481.4,162.3L481.9,168.8L482.4,175.5L482.9,182.4L483.4,189.4L483.9,196.6L484.4,204.0L484.9,211.5L485.4,219.1L485.9,226.7L486.4,234.4L486.9,241.0" stroke="#ff6a1e" stroke-width="1.0" fill="none"/><path d="M294.0,184.4L294.5,184.3L295.0,184.2L295.5,184.0L296.0,183.9L296.5,183.7L297.0,183.5L297.6,183.3L298.1,183.2L298.6,183.0L299.1,182.7L299.6,182.5L300.1,182.3L300.6,182.1L301.1,181.9L301.6,181.7L302.1,181.4L302.6,181.2L303.1,181.0L303.6,180.7L304.2,180.5L304.7,180.3L305.2,180.0L305.7,179.8L306.2,179.6L306.7,179.4L307.2,179.1L307.7,178.9L308.2,178.7L308.7,178.4L309.2,178.2L309.7,178.0L310.2,177.7L310.8,177.5L311.3,177.3L311.8,177.0L312.3,176.8L312.8,176.5L313.3,176.3L313.8,176.1L314.3,175.8L314.8,175.6L315.3,175.4L315.8,175.1L316.3,174.9L316.8,174.6L317.4,174.4L317.9,174.2L318.4,173.9L318.9,173.7L319.4,173.4L319.9,173.2L320.4,172.9L320.9,172.7L321.4,172.5L321.9,172.2L322.4,172.0L322.9,171.7L323.4,171.5L324.0,171.2L324.5,171.0L325.0,170.7L325.5,170.4L326.0,170.2L326.5,169.9L327.0,169.7L327.5,169.4L328.0,169.2L328.5,168.9L329.0,168.6L329.5,168.4L330.0,168.1L330.6,167.8L331.1,167.6L331.6,167.3L332.1,167.0L332.6,166.7L333.1,166.5L333.6,166.2L334.1,165.9L334.6,165.6L335.1,165.3L335.6,165.1L336.1,164.8L336.6,164.5L337.2,164.2L337.7,163.9L338.2,163.6L338.7,163.3L339.2,162.9L339.7,162.6L340.2,162.3L340.7,162.0L341.2,161.7L341.7,161.3L342.2,161.0L342.7,160.7L343.2,160.3L343.8,160.0L344.3,159.7L344.8,159.3L345.3,159.0L345.8,158.6L346.3,158.3L346.8,157.9L347.3,157.6L347.8,157.2L348.3,156.9L348.8,156.5L349.3,156.2L349.8,155.8L350.4,155.5L350.9,155.1L351.4,154.7L351.9,154.4L352.4,154.0L352.9,153.7L353.4,153.3L353.9,153.0L354.4,152.6L354.9,152.2L355.4,151.9L355.9,151.5L356.5,151.2L357.0,150.8L357.5,150.5L358.0,150.1L358.5,149.8L359.0,149.4L359.5,149.1L360.0,148.7L360.5,148.4L361.0,148.1L361.5,147.7L362.0,147.4L362.5,147.1L363.1,146.7L363.6,146.4L364.1,146.1L364.6,145.8L365.1,145.4L365.6,145.1L366.1,144.8L366.6,144.5L367.1,144.2L367.6,143.9L368.1,143.6L368.6,143.3L369.1,143.1L369.7,142.8L370.2,142.5L370.7,142.2L371.2,142.0L371.7,141.7L372.2,141.5L372.7,141.2L373.2,141.0L373.7,140.7L374.2,140.5L374.7,140.2L375.2,140.0L375.7,139.8L376.3,139.6L376.8,139.3L377.3,139.1L377.8,138.9L378.3,138.7L378.8,138.5L379.3,138.3L379.8,138.1L380.3,137.9L380.8,137.7L381.3,137.5L381.8,137.3L382.3,137.1L382.9,136.9L383.4,136.7L383.9,136.5L384.4,136.3L384.9,136.2L385.4,136.0L385.9,135.8L386.4,135.6L386.9,135.5L387.4,135.3L387.9,135.1L388.4,135.0L388.9,134.8L389.5,134.6L390.0,134.5L390.5,134.3L391.0,134.2L391.5,134.0L392.0,133.9L392.5,133.7L393.0,133.6L393.5,133.4L394.0,133.3L394.5,133.1L395.0,133.0L395.5,132.9L396.1,132.7L396.6,132.6L397.1,132.5L397.6,132.3L398.1,132.2L398.6,132.1L399.1,132.0L399.6,131.8L400.1,131.7L400.6,131.6L401.1,131.5L401.6,131.3L402.1,131.2L402.7,131.1L403.2,131.0L403.7,130.9L404.2,130.7L404.7,130.6L405.2,130.5L405.7,130.4L406.2,130.3L406.7,130.2L407.2,130.0L407.7,129.9L408.2,129.8L408.7,129.7L409.3,129.6L409.8,129.5L410.3,129.4L410.8,129.3L411.3,129.2L411.8,129.1L412.3,129.0L412.8,128.9L413.3,128.8L413.8,128.7L414.3,128.6L414.8,128.5L415.3,128.5L415.9,128.4L416.4,128.3L416.9,128.2L417.4,128.2L417.9,128.1L418.4,128.1L418.9,128.0L419.4,128.0L419.9,127.9L420.4,127.9L420.9,127.8L421.4,127.8L421.9,127.8L422.5,127.8L423.0,127.8L423.5,127.8L424.0,127.8L424.5,127.9L425.0,127.9L425.5,127.9L426.0,128.0L426.5,128.1L427.0,128.2L427.5,128.3L428.0,128.4L428.5,128.5L429.1,128.7L429.6,128.9L430.1,129.0L430.6,129.2L431.1,129.4L431.6,129.7L432.1,129.9L432.6,130.1L433.1,130.4L433.6,130.7L434.1,130.9L434.6,131.2L435.1,131.5L435.7,131.9L436.2,132.2L436.7,132.5L437.2,132.9L437.7,133.2L438.2,133.6L438.7,133.9L439.2,134.3L439.7,134.7L440.2,135.1L440.7,135.5L441.2,135.9L441.7,136.2L442.3,136.6L442.8,137.0L443.3,137.3L443.8,137.6L444.3,137.8L444.8,137.9L445.3,137.9L445.8,137.7L446.3,137.3L446.8,136.6L447.3,135.6L447.8,134.3L448.3,132.7L448.9,130.7L449.4,128.5L449.9,126.0L450.4,123.3L450.9,120.5L451.4,117.6L451.9,114.7L452.4,111.9L452.9,109.1L453.4,106.3L453.9,103.7L454.4,101.2L454.9,98.8L455.5,96.6L456.0,94.6L456.5,92.7L457.0,91.0L457.5,89.5L458.0,88.1L458.5,86.9L459.0,85.9L459.5,85.1L460.0,84.5L460.5,84.1L461.0,83.8L461.5,83.8L462.1,83.9L462.6,84.3L463.1,84.9L463.6,85.7L464.1,86.7L464.6,88.0L465.1,89.5L465.6,91.2L466.1,93.1L466.6,95.3L467.1,97.7L467.6,100.3L468.1,103.1L468.7,106.1L469.2,109.4L469.7,112.9L470.2,116.6L470.7,120.5L471.2,124.6L471.7,129.0L472.2,133.5L472.7,138.2L473.2,143.2L473.7,148.3L474.2,153.6L474.7,159.0L475.3,164.6L475.8,170.2L476.3,176.0L476.8,181.8L477.3,187.5L477.8,193.2L478.3,198.8L478.8,204.3L479.3,209.5L479.8,214.5L480.3,219.2L480.8,223.7L481.4,227.9L481.9,231.9L482.4,235.8L482.9,239.5L483.4,241.0" stroke="#ffa028" stroke-width="1.0" fill="none"/><path d="M294.0,185.3L294.5,185.2L295.0,185.1L295.5,184.9L296.0,184.8L296.5,184.6L297.0,184.4L297.6,184.3L298.1,184.1L298.6,183.9L299.1,183.7L299.6,183.4L300.1,183.2L300.6,183.0L301.1,182.8L301.6,182.6L302.1,182.3L302.6,182.1L303.1,181.9L303.6,181.7L304.2,181.4L304.7,181.2L305.2,181.0L305.7,180.7L306.2,180.5L306.7,180.3L307.2,180.0L307.7,179.8L308.2,179.6L308.7,179.3L309.2,179.1L309.7,178.9L310.2,178.6L310.8,178.4L311.3,178.1L311.8,177.9L312.3,177.7L312.8,177.4L313.3,177.2L313.8,177.0L314.3,176.7L314.8,176.5L315.3,176.2L315.8,176.0L316.3,175.8L316.8,175.5L317.4,175.3L317.9,175.0L318.4,174.8L318.9,174.5L319.4,174.3L319.9,174.0L320.4,173.8L320.9,173.5L321.4,173.3L321.9,173.0L322.4,172.8L322.9,172.5L323.4,172.3L324.0,172.0L324.5,171.8L325.0,171.5L325.5,171.3L326.0,171.0L326.5,170.8L327.0,170.5L327.5,170.2L328.0,170.0L328.5,169.7L329.0,169.4L329.5,169.2L330.0,168.9L330.6,168.6L331.1,168.4L331.6,168.1L332.1,167.8L332.6,167.6L333.1,167.3L333.6,167.0L334.1,166.7L334.6,166.4L335.1,166.2L335.6,165.9L336.1,165.6L336.6,165.3L337.2,165.0L337.7,164.7L338.2,164.4L338.7,164.1L339.2,163.8L339.7,163.5L340.2,163.2L340.7,162.9L341.2,162.6L341.7,162.3L342.2,162.0L342.7,161.7L343.2,161.4L343.8,161.0L344.3,160.7L344.8,160.4L345.3,160.1L345.8,159.8L346.3,159.4L346.8,159.1L347.3,158.8L347.8,158.4L348.3,158.1L348.8,157.8L349.3,157.4L349.8,157.1L350.4,156.8L350.9,156.4L351.4,156.1L351.9,155.8L352.4,155.4L352.9,155.1L353.4,154.7L353.9,154.4L354.4,154.1L354.9,153.7L355.4,153.4L355.9,153.0L356.5,152.7L357.0,152.4L357.5,152.0L358.0,151.7L358.5,151.4L359.0,151.0L359.5,150.7L360.0,150.3L360.5,150.0L361.0,149.7L361.5,149.3L362.0,149.0L362.5,148.7L363.1,148.3L363.6,148.0L364.1,147.7L364.6,147.4L365.1,147.0L365.6,146.7L366.1,146.4L366.6,146.1L367.1,145.7L367.6,145.4L368.1,145.1L368.6,144.8L369.1,144.5L369.7,144.2L370.2,143.9L370.7,143.6L371.2,143.3L371.7,143.0L372.2,142.7L372.7,142.4L373.2,142.1L373.7,141.8L374.2,141.5L374.7,141.2L375.2,140.9L375.7,140.6L376.3,140.3L376.8,140.0L377.3,139.7L377.8,139.4L378.3,139.1L378.8,138.8L379.3,138.5L379.8,138.2L380.3,137.9L380.8,137.6L381.3,137.3L381.8,137.1L382.3,136.8L382.9,136.5L383.4,136.2L383.9,135.9L384.4,135.6L384.9,135.3L385.4,135.1L385.9,134.8L386.4,134.5L386.9,134.2L387.4,134.0L387.9,133.7L388.4,133.4L388.9,133.2L389.5,132.9L390.0,132.7L390.5,132.5L391.0,132.2L391.5,132.0L392.0,131.8L392.5,131.6L393.0,131.4L393.5,131.2L394.0,131.0L394.5,130.8L395.0,130.6L395.5,130.4L396.1,130.3L396.6,130.1L397.1,129.9L397.6,129.8L398.1,129.6L398.6,129.5L399.1,129.3L399.6,129.2L400.1,129.1L400.6,129.0L401.1,128.8L401.6,128.7L402.1,128.6L402.7,128.5L403.2,128.4L403.7,128.2L404.2,128.1L404.7,128.0L405.2,127.9L405.7,127.8L406.2,127.7L406.7,127.6L407.2,127.5L407.7,127.4L408.2,127.3L408.7,127.2L409.3,127.1L409.8,127.0L410.3,126.9L410.8,126.8L411.3,126.8L411.8,126.7L412.3,126.6L412.8,126.5L413.3,126.4L413.8,126.4L414.3,126.3L414.8,126.2L415.3,126.2L415.9,126.1L416.4,126.0L416.9,126.0L417.4,125.9L417.9,125.9L418.4,125.8L418.9,125.8L419.4,125.8L419.9,125.7L420.4,125.7L420.9,125.7L421.4,125.7L421.9,125.6L422.5,125.6L423.0,125.6L423.5,125.7L424.0,125.7L424.5,125.7L425.0,125.8L425.5,125.8L426.0,125.9L426.5,125.9L427.0,126.0L427.5,126.1L428.0,126.2L428.5,126.4L429.1,126.5L429.6,126.7L430.1,126.8L430.6,127.0L431.1,127.2L431.6,127.4L432.1,127.6L432.6,127.9L433.1,128.1L433.6,128.4L434.1,128.6L434.6,128.9L435.1,129.2L435.7,129.5L436.2,129.8L436.7,130.1L437.2,130.4L437.7,130.7L438.2,131.0L438.7,131.4L439.2,131.7L439.7,132.0L440.2,132.3L440.7,132.6L441.2,132.9L441.7,133.1L442.3,133.3L442.8,133.4L443.3,133.4L443.8,133.2L444.3,132.9L444.8,132.4L445.3,131.7L445.8,130.7L446.3,129.5L446.8,128.0L447.3,126.3L447.8,124.4L448.3,122.4L448.9,120.2L449.4,117.9L449.9,115.6L450.4,113.3L450.9,111.0L451.4,108.8L451.9,106.6L452.4,104.6L452.9,102.7L453.4,101.0L453.9,99.3L454.4,97.9L454.9,96.6L455.5,95.5L456.0,94.5L456.5,93.7L457.0,93.1L457.5,92.7L458.0,92.4L458.5,92.4L459.0,92.5L459.5,92.9L460.0,93.5L460.5,94.3L461.0,95.3L461.5,96.5L462.1,98.0L462.6,99.7L463.1,101.6L463.6,103.7L464.1,106.0L464.6,108.6L465.1,111.3L465.6,114.3L466.1,117.5L466.6,120.9L467.1,124.5L467.6,128.2L468.1,132.2L468.7,136.3L469.2,140.7L469.7,145.1L470.2,149.7L470.7,154.4L471.2,159.1L471.7,163.9L472.2,168.7L472.7,173.4L473.2,178.1L473.7,182.5L474.2,186.8L474.7,190.9L475.3,194.7L475.8,198.3L476.3,201.7L476.8,204.9L477.3,207.9L477.8,210.8L478.3,213.6L478.8,216.4L479.3,219.2L479.8,221.9L480.3,224.8L480.8,227.6L481.4,230.6L481.9,233.6L482.4,236.6L482.9,239.8L483.4,241.0" stroke="#f8c832" stroke-width="1.0" fill="none"/><path d="M294.0,188.5L294.5,188.4L295.0,188.3L295.5,188.1L296.0,188.0L296.5,187.8L297.0,187.6L297.6,187.4L298.1,187.2L298.6,187.0L299.1,186.8L299.6,186.6L300.1,186.4L300.6,186.1L301.1,185.9L301.6,185.7L302.1,185.4L302.6,185.2L303.1,184.9L303.6,184.7L304.2,184.5L304.7,184.2L305.2,184.0L305.7,183.7L306.2,183.5L306.7,183.2L307.2,183.0L307.7,182.7L308.2,182.5L308.7,182.2L309.2,181.9L309.7,181.7L310.2,181.4L310.8,181.2L311.3,180.9L311.8,180.7L312.3,180.4L312.8,180.1L313.3,179.9L313.8,179.6L314.3,179.3L314.8,179.1L315.3,178.8L315.8,178.6L316.3,178.3L316.8,178.0L317.4,177.8L317.9,177.5L318.4,177.2L318.9,176.9L319.4,176.7L319.9,176.4L320.4,176.1L320.9,175.9L321.4,175.6L321.9,175.3L322.4,175.0L322.9,174.8L323.4,174.5L324.0,174.2L324.5,173.9L325.0,173.6L325.5,173.4L326.0,173.1L326.5,172.8L327.0,172.5L327.5,172.2L328.0,171.9L328.5,171.7L329.0,171.4L329.5,171.1L330.0,170.8L330.6,170.5L331.1,170.2L331.6,169.9L332.1,169.7L332.6,169.4L333.1,169.1L333.6,168.8L334.1,168.5L334.6,168.2L335.1,167.9L335.6,167.6L336.1,167.3L336.6,167.0L337.2,166.7L337.7,166.4L338.2,166.1L338.7,165.8L339.2,165.5L339.7,165.2L340.2,164.8L340.7,164.5L341.2,164.2L341.7,163.9L342.2,163.6L342.7,163.3L343.2,163.0L343.8,162.6L344.3,162.3L344.8,162.0L345.3,161.7L345.8,161.3L346.3,161.0L346.8,160.7L347.3,160.4L347.8,160.0L348.3,159.7L348.8,159.4L349.3,159.0L349.8,158.7L350.4,158.4L350.9,158.0L351.4,157.7L351.9,157.4L352.4,157.0L352.9,156.7L353.4,156.4L353.9,156.0L354.4,155.7L354.9,155.3L355.4,155.0L355.9,154.7L356.5,154.3L357.0,154.0L357.5,153.6L358.0,153.3L358.5,153.0L359.0,152.6L359.5,152.3L360.0,151.9L360.5,151.6L361.0,151.3L361.5,150.9L362.0,150.6L362.5,150.2L363.1,149.9L363.6,149.6L364.1,149.2L364.6,148.9L365.1,148.5L365.6,148.2L366.1,147.9L366.6,147.5L367.1,147.2L367.6,146.8L368.1,146.5L368.6,146.2L369.1,145.8L369.7,145.5L370.2,145.2L370.7,144.8L371.2,144.5L371.7,144.2L372.2,143.8L372.7,143.5L373.2,143.1L373.7,142.8L374.2,142.5L374.7,142.1L375.2,141.8L375.7,141.4L376.3,141.1L376.8,140.7L377.3,140.4L377.8,140.0L378.3,139.7L378.8,139.3L379.3,139.0L379.8,138.6L380.3,138.3L380.8,137.9L381.3,137.6L381.8,137.2L382.3,136.8L382.9,136.5L383.4,136.1L383.9,135.8L384.4,135.4L384.9,135.0L385.4,134.7L385.9,134.3L386.4,134.0L386.9,133.6L387.4,133.3L387.9,133.0L388.4,132.6L388.9,132.3L389.5,132.0L390.0,131.7L390.5,131.4L391.0,131.1L391.5,130.8L392.0,130.5L392.5,130.2L393.0,129.9L393.5,129.7L394.0,129.4L394.5,129.2L395.0,128.9L395.5,128.7L396.1,128.5L396.6,128.3L397.1,128.1L397.6,127.9L398.1,127.7L398.6,127.5L399.1,127.3L399.6,127.1L400.1,126.9L400.6,126.8L401.1,126.6L401.6,126.4L402.1,126.3L402.7,126.1L403.2,126.0L403.7,125.8L404.2,125.7L404.7,125.5L405.2,125.4L405.7,125.2L406.2,125.1L406.7,125.0L407.2,124.8L407.7,124.7L408.2,124.6L408.7,124.4L409.3,124.3L409.8,124.2L410.3,124.1L410.8,124.0L411.3,123.8L411.8,123.7L412.3,123.6L412.8,123.5L413.3,123.4L413.8,123.3L414.3,123.2L414.8,123.1L415.3,123.0L415.9,122.9L416.4,122.9L416.9,122.8L417.4,122.7L417.9,122.7L418.4,122.6L418.9,122.5L419.4,122.5L419.9,122.4L420.4,122.4L420.9,122.4L421.4,122.3L421.9,122.3L422.5,122.3L423.0,122.3L423.5,122.3L424.0,122.4L424.5,122.4L425.0,122.4L425.5,122.5L426.0,122.6L426.5,122.7L427.0,122.8L427.5,122.9L428.0,123.0L428.5,123.1L429.1,123.3L429.6,123.5L430.1,123.7L430.6,123.9L431.1,124.1L431.6,124.4L432.1,124.6L432.6,124.9L433.1,125.2L433.6,125.5L434.1,125.8L434.6,126.1L435.1,126.4L435.7,126.7L436.2,127.1L436.7,127.4L437.2,127.8L437.7,128.2L438.2,128.5L438.7,128.9L439.2,129.3L439.7,129.7L440.2,130.1L440.7,130.5L441.2,130.9L441.7,131.3L442.3,131.6L442.8,131.9L443.3,132.2L443.8,132.4L444.3,132.5L444.8,132.5L445.3,132.3L445.8,131.9L446.3,131.3L446.8,130.4L447.3,129.1L447.8,127.6L448.3,125.8L448.9,123.7L449.4,121.4L449.9,118.9L450.4,116.2L450.9,113.5L451.4,110.8L451.9,108.1L452.4,105.4L452.9,102.8L453.4,100.3L453.9,97.9L454.4,95.7L454.9,93.6L455.5,91.7L456.0,89.9L456.5,88.4L457.0,86.9L457.5,85.7L458.0,84.6L458.5,83.8L459.0,83.1L459.5,82.6L460.0,82.2L460.5,82.1L461.0,82.2L461.5,82.4L462.1,83.0L462.6,83.7L463.1,84.7L463.6,85.9L464.1,87.4L464.6,89.1L465.1,91.0L465.6,93.1L466.1,95.5L466.6,98.2L467.1,101.0L467.6,104.1L468.1,107.4L468.7,110.9L469.2,114.7L469.7,118.6L470.2,122.8L470.7,127.3L471.2,131.9L471.7,136.7L472.2,141.7L472.7,146.9L473.2,152.2L473.7,157.7L474.2,163.3L474.7,169.0L475.3,174.7L475.8,180.4L476.3,186.0L476.8,191.5L477.3,196.9L477.8,202.0L478.3,206.8L478.8,211.4L479.3,215.7L479.8,219.7L480.3,223.5L480.8,227.1L481.4,230.6L481.9,234.0L482.4,237.4L482.9,240.7L483.4,241.0" stroke="#f0e830" stroke-width="1.0" fill="none"/><path d="M294.0,186.4L294.5,186.3L295.0,186.2L295.5,186.0L296.0,185.9L296.5,185.7L297.0,185.6L297.6,185.4L298.1,185.2L298.6,185.0L299.1,184.8L299.6,184.6L300.1,184.4L300.6,184.2L301.1,184.0L301.6,183.7L302.1,183.5L302.6,183.3L303.1,183.1L303.6,182.9L304.2,182.6L304.7,182.4L305.2,182.2L305.7,182.0L306.2,181.7L306.7,181.5L307.2,181.3L307.7,181.1L308.2,180.8L308.7,180.6L309.2,180.4L309.7,180.1L310.2,179.9L310.8,179.7L311.3,179.5L311.8,179.2L312.3,179.0L312.8,178.8L313.3,178.5L313.8,178.3L314.3,178.1L314.8,177.8L315.3,177.6L315.8,177.4L316.3,177.1L316.8,176.9L317.4,176.6L317.9,176.4L318.4,176.2L318.9,175.9L319.4,175.7L319.9,175.4L320.4,175.2L320.9,175.0L321.4,174.7L321.9,174.5L322.4,174.2L322.9,174.0L323.4,173.7L324.0,173.5L324.5,173.2L325.0,173.0L325.5,172.7L326.0,172.4L326.5,172.2L327.0,171.9L327.5,171.7L328.0,171.4L328.5,171.1L329.0,170.9L329.5,170.6L330.0,170.3L330.6,170.1L331.1,169.8L331.6,169.5L332.1,169.2L332.6,169.0L333.1,168.7L333.6,168.4L334.1,168.1L334.6,167.8L335.1,167.5L335.6,167.2L336.1,166.9L336.6,166.6L337.2,166.3L337.7,166.0L338.2,165.7L338.7,165.4L339.2,165.1L339.7,164.8L340.2,164.4L340.7,164.1L341.2,163.8L341.7,163.4L342.2,163.1L342.7,162.8L343.2,162.4L343.8,162.1L344.3,161.7L344.8,161.4L345.3,161.0L345.8,160.7L346.3,160.3L346.8,159.9L347.3,159.6L347.8,159.2L348.3,158.8L348.8,158.5L349.3,158.1L349.8,157.7L350.4,157.4L350.9,157.0L351.4,156.6L351.9,156.2L352.4,155.9L352.9,155.5L353.4,155.1L353.9,154.7L354.4,154.4L354.9,154.0L355.4,153.6L355.9,153.2L356.5,152.9L357.0,152.5L357.5,152.1L358.0,151.7L358.5,151.4L359.0,151.0L359.5,150.6L360.0,150.2L360.5,149.9L361.0,149.5L361.5,149.1L362.0,148.8L362.5,148.4L363.1,148.1L363.6,147.7L364.1,147.4L364.6,147.0L365.1,146.7L365.6,146.3L366.1,146.0L366.6,145.6L367.1,145.3L367.6,145.0L368.1,144.6L368.6,144.3L369.1,144.0L369.7,143.6L370.2,143.3L370.7,143.0L371.2,142.7L371.7,142.4L372.2,142.1L372.7,141.8L373.2,141.5L373.7,141.2L374.2,140.9L374.7,140.6L375.2,140.4L375.7,140.1L376.3,139.8L376.8,139.5L377.3,139.2L377.8,139.0L378.3,138.7L378.8,138.4L379.3,138.2L379.8,137.9L380.3,137.6L380.8,137.4L381.3,137.1L381.8,136.9L382.3,136.6L382.9,136.4L383.4,136.1L383.9,135.9L384.4,135.6L384.9,135.4L385.4,135.1L385.9,134.9L386.4,134.7L386.9,134.4L387.4,134.2L387.9,134.0L388.4,133.7L388.9,133.5L389.5,133.3L390.0,133.1L390.5,132.9L391.0,132.6L391.5,132.4L392.0,132.2L392.5,132.0L393.0,131.8L393.5,131.6L394.0,131.5L394.5,131.3L395.0,131.1L395.5,130.9L396.1,130.7L396.6,130.5L397.1,130.4L397.6,130.2L398.1,130.0L398.6,129.9L399.1,129.7L399.6,129.5L400.1,129.4L400.6,129.2L401.1,129.1L401.6,128.9L402.1,128.7L402.7,128.6L403.2,128.4L403.7,128.3L404.2,128.1L404.7,128.0L405.2,127.8L405.7,127.7L406.2,127.5L406.7,127.4L407.2,127.2L407.7,127.1L408.2,126.9L408.7,126.8L409.3,126.7L409.8,126.5L410.3,126.4L410.8,126.3L411.3,126.1L411.8,126.0L412.3,125.9L412.8,125.8L413.3,125.6L413.8,125.5L414.3,125.4L414.8,125.3L415.3,125.2L415.9,125.1L416.4,125.0L416.9,124.9L417.4,124.8L417.9,124.8L418.4,124.7L418.9,124.6L419.4,124.6L419.9,124.5L420.4,124.5L420.9,124.4L421.4,124.4L421.9,124.4L422.5,124.3L423.0,124.3L423.5,124.3L424.0,124.3L424.5,124.4L425.0,124.4L425.5,124.4L426.0,124.5L426.5,124.6L427.0,124.7L427.5,124.7L428.0,124.9L428.5,125.0L429.1,125.1L429.6,125.3L430.1,125.4L430.6,125.6L431.1,125.8L431.6,126.0L432.1,126.2L432.6,126.5L433.1,126.7L433.6,127.0L434.1,127.2L434.6,127.5L435.1,127.8L435.7,128.1L436.2,128.4L436.7,128.7L437.2,129.1L437.7,129.4L438.2,129.7L438.7,130.1L439.2,130.5L439.7,130.8L440.2,131.2L440.7,131.6L441.2,132.0L441.7,132.4L442.3,132.9L442.8,133.3L443.3,133.8L443.8,134.2L444.3,134.7L444.8,135.2L445.3,135.8L445.8,136.3L446.3,136.9L446.8,137.4L447.3,138.0L447.8,138.6L448.3,139.2L448.9,139.8L449.4,140.4L449.9,141.0L450.4,141.6L450.9,142.1L451.4,142.6L451.9,143.1L452.4,143.5L452.9,143.7L453.4,143.8L453.9,143.6L454.4,143.2L454.9,142.5L455.5,141.5L456.0,140.2L456.5,138.5L457.0,136.5L457.5,134.2L458.0,131.6L458.5,128.9L459.0,126.1L459.5,123.2L460.0,120.2L460.5,117.3L461.0,114.4L461.5,111.6L462.1,108.9L462.6,106.3L463.1,103.7L463.6,101.4L464.1,99.1L464.6,97.0L465.1,95.0L465.6,93.2L466.1,91.5L466.6,90.0L467.1,88.6L467.6,87.4L468.1,86.3L468.7,85.4L469.2,84.6L469.7,84.0L470.2,83.6L470.7,83.3L471.2,83.1L471.7,83.2L472.2,83.5L472.7,84.2L473.2,85.1L473.7,86.3L474.2,87.8L474.7,89.7L475.3,91.8L475.8,94.2L476.3,96.9L476.8,99.9L477.3,103.2L477.8,106.8L478.3,110.8L478.8,115.0L479.3,119.5L479.8,124.3L480.3,129.4L480.8,134.8L481.4,140.4L481.9,146.4L482.4,152.7L482.9,159.3L483.4,166.1L483.9,173.2L484.4,180.7L484.9,188.3L485.4,196.3L485.9,204.5L486.4,212.9L486.9,221.5L487.4,230.2L488.0,239.1L488.5,241.0" stroke="#b4e63c" stroke-width="1.0" fill="none"/><path d="M294.0,189.4L294.5,189.3L295.0,189.2L295.5,189.0L296.0,188.9L296.5,188.7L297.0,188.6L297.6,188.4L298.1,188.2L298.6,188.0L299.1,187.8L299.6,187.6L300.1,187.4L300.6,187.1L301.1,186.9L301.6,186.7L302.1,186.5L302.6,186.3L303.1,186.0L303.6,185.8L304.2,185.6L304.7,185.4L305.2,185.1L305.7,184.9L306.2,184.7L306.7,184.4L307.2,184.2L307.7,184.0L308.2,183.7L308.7,183.5L309.2,183.3L309.7,183.0L310.2,182.8L310.8,182.6L311.3,182.3L311.8,182.1L312.3,181.9L312.8,181.6L313.3,181.4L313.8,181.2L314.3,180.9L314.8,180.7L315.3,180.4L315.8,180.2L316.3,180.0L316.8,179.7L317.4,179.5L317.9,179.2L318.4,179.0L318.9,178.7L319.4,178.5L319.9,178.2L320.4,178.0L320.9,177.7L321.4,177.5L321.9,177.2L322.4,177.0L322.9,176.7L323.4,176.5L324.0,176.2L324.5,176.0L325.0,175.7L325.5,175.5L326.0,175.2L326.5,174.9L327.0,174.7L327.5,174.4L328.0,174.1L328.5,173.9L329.0,173.6L329.5,173.3L330.0,173.1L330.6,172.8L331.1,172.5L331.6,172.2L332.1,172.0L332.6,171.7L333.1,171.4L333.6,171.1L334.1,170.8L334.6,170.5L335.1,170.2L335.6,169.9L336.1,169.6L336.6,169.3L337.2,169.0L337.7,168.7L338.2,168.4L338.7,168.1L339.2,167.8L339.7,167.4L340.2,167.1L340.7,166.8L341.2,166.5L341.7,166.1L342.2,165.8L342.7,165.4L343.2,165.1L343.8,164.7L344.3,164.4L344.8,164.0L345.3,163.7L345.8,163.3L346.3,163.0L346.8,162.6L347.3,162.2L347.8,161.9L348.3,161.5L348.8,161.1L349.3,160.8L349.8,160.4L350.4,160.0L350.9,159.7L351.4,159.3L351.9,158.9L352.4,158.5L352.9,158.2L353.4,157.8L353.9,157.4L354.4,157.0L354.9,156.7L355.4,156.3L355.9,155.9L356.5,155.5L357.0,155.2L357.5,154.8L358.0,154.4L358.5,154.1L359.0,153.7L359.5,153.3L360.0,153.0L360.5,152.6L361.0,152.2L361.5,151.9L362.0,151.5L362.5,151.2L363.1,150.8L363.6,150.5L364.1,150.1L364.6,149.8L365.1,149.5L365.6,149.1L366.1,148.8L366.6,148.5L367.1,148.1L367.6,147.8L368.1,147.5L368.6,147.2L369.1,146.9L369.7,146.6L370.2,146.3L370.7,146.0L371.2,145.7L371.7,145.4L372.2,145.1L372.7,144.8L373.2,144.5L373.7,144.3L374.2,144.0L374.7,143.7L375.2,143.5L375.7,143.2L376.3,142.9L376.8,142.7L377.3,142.4L377.8,142.2L378.3,141.9L378.8,141.7L379.3,141.4L379.8,141.2L380.3,140.9L380.8,140.7L381.3,140.4L381.8,140.2L382.3,139.9L382.9,139.7L383.4,139.5L383.9,139.2L384.4,139.0L384.9,138.8L385.4,138.6L385.9,138.3L386.4,138.1L386.9,137.9L387.4,137.7L387.9,137.5L388.4,137.3L388.9,137.1L389.5,136.9L390.0,136.7L390.5,136.5L391.0,136.4L391.5,136.2L392.0,136.0L392.5,135.9L393.0,135.7L393.5,135.5L394.0,135.4L394.5,135.3L395.0,135.1L395.5,135.0L396.1,134.9L396.6,134.7L397.1,134.6L397.6,134.5L398.1,134.4L398.6,134.3L399.1,134.2L399.6,134.1L400.1,134.0L400.6,133.9L401.1,133.8L401.6,133.8L402.1,133.7L402.7,133.6L403.2,133.5L403.7,133.4L404.2,133.3L404.7,133.3L405.2,133.2L405.7,133.1L406.2,133.1L406.7,133.0L407.2,132.9L407.7,132.8L408.2,132.8L408.7,132.7L409.3,132.6L409.8,132.6L410.3,132.5L410.8,132.5L411.3,132.4L411.8,132.4L412.3,132.3L412.8,132.2L413.3,132.2L413.8,132.1L414.3,132.1L414.8,132.1L415.3,132.0L415.9,132.0L416.4,131.9L416.9,131.9L417.4,131.9L417.9,131.8L418.4,131.8L418.9,131.8L419.4,131.7L419.9,131.7L420.4,131.7L420.9,131.7L421.4,131.7L421.9,131.7L422.5,131.7L423.0,131.7L423.5,131.8L424.0,131.8L424.5,131.8L425.0,131.9L425.5,132.0L426.0,132.0L426.5,132.1L427.0,132.2L427.5,132.4L428.0,132.5L428.5,132.6L429.1,132.8L429.6,133.0L430.1,133.2L430.6,133.4L431.1,133.6L431.6,133.9L432.1,134.1L432.6,134.4L433.1,134.7L433.6,135.0L434.1,135.3L434.6,135.6L435.1,135.9L435.7,136.3L436.2,136.6L436.7,137.0L437.2,137.3L437.7,137.7L438.2,138.1L438.7,138.5L439.2,138.9L439.7,139.3L440.2,139.7L440.7,140.2L441.2,140.6L441.7,141.1L442.3,141.5L442.8,142.0L443.3,142.4L443.8,142.9L444.3,143.4L444.8,143.8L445.3,144.2L445.8,144.6L446.3,145.0L446.8,145.2L447.3,145.4L447.8,145.4L448.3,145.2L448.9,144.9L449.4,144.2L449.9,143.2L450.4,142.0L450.9,140.3L451.4,138.4L451.9,136.2L452.4,133.7L452.9,131.0L453.4,128.2L453.9,125.3L454.4,122.3L454.9,119.3L455.5,116.4L456.0,113.5L456.5,110.6L457.0,107.9L457.5,105.3L458.0,102.8L458.5,100.4L459.0,98.1L459.5,96.0L460.0,94.1L460.5,92.3L461.0,90.6L461.5,89.1L462.1,87.7L462.6,86.5L463.1,85.4L463.6,84.5L464.1,83.8L464.6,83.2L465.1,82.7L465.6,82.4L466.1,82.3L466.6,82.4L467.1,82.6L467.6,83.1L468.1,83.8L468.7,84.8L469.2,85.9L469.7,87.3L470.2,88.9L470.7,90.8L471.2,92.8L471.7,95.1L472.2,97.6L472.7,100.4L473.2,103.3L473.7,106.5L474.2,109.9L474.7,113.6L475.3,117.4L475.8,121.5L476.3,125.8L476.8,130.3L477.3,135.1L477.8,140.1L478.3,145.3L478.8,150.7L479.3,156.3L479.8,162.1L480.3,168.1L480.8,174.3L481.4,180.8L481.9,187.3L482.4,194.1L482.9,201.0L483.4,208.0L483.9,215.1L484.4,222.3L484.9,229.4L485.4,236.5L485.9,241.0" stroke="#8ce632" stroke-width="1.0" fill="none"/><path d="M294.0,190.2L294.5,190.1L295.0,190.0L295.5,189.9L296.0,189.7L296.5,189.5L297.0,189.4L297.6,189.2L298.1,189.0L298.6,188.8L299.1,188.6L299.6,188.4L300.1,188.2L300.6,188.0L301.1,187.8L301.6,187.6L302.1,187.4L302.6,187.2L303.1,186.9L303.6,186.7L304.2,186.5L304.7,186.3L305.2,186.1L305.7,185.8L306.2,185.6L306.7,185.4L307.2,185.2L307.7,185.0L308.2,184.8L308.7,184.5L309.2,184.3L309.7,184.1L310.2,183.9L310.8,183.7L311.3,183.5L311.8,183.2L312.3,183.0L312.8,182.8L313.3,182.6L313.8,182.4L314.3,182.1L314.8,181.9L315.3,181.7L315.8,181.5L316.3,181.3L316.8,181.0L317.4,180.8L317.9,180.6L318.4,180.4L318.9,180.1L319.4,179.9L319.9,179.7L320.4,179.5L320.9,179.2L321.4,179.0L321.9,178.8L322.4,178.5L322.9,178.3L323.4,178.1L324.0,177.8L324.5,177.6L325.0,177.4L325.5,177.1L326.0,176.9L326.5,176.6L327.0,176.4L327.5,176.1L328.0,175.9L328.5,175.6L329.0,175.4L329.5,175.1L330.0,174.9L330.6,174.6L331.1,174.4L331.6,174.1L332.1,173.9L332.6,173.6L333.1,173.3L333.6,173.1L334.1,172.8L334.6,172.5L335.1,172.2L335.6,172.0L336.1,171.7L336.6,171.4L337.2,171.1L337.7,170.8L338.2,170.5L338.7,170.2L339.2,169.9L339.7,169.6L340.2,169.3L340.7,169.0L341.2,168.7L341.7,168.4L342.2,168.1L342.7,167.8L343.2,167.4L343.8,167.1L344.3,166.8L344.8,166.4L345.3,166.1L345.8,165.8L346.3,165.4L346.8,165.1L347.3,164.8L347.8,164.4L348.3,164.1L348.8,163.7L349.3,163.4L349.8,163.0L350.4,162.7L350.9,162.4L351.4,162.0L351.9,161.7L352.4,161.3L352.9,160.9L353.4,160.6L353.9,160.2L354.4,159.9L354.9,159.5L355.4,159.2L355.9,158.8L356.5,158.5L357.0,158.1L357.5,157.8L358.0,157.4L358.5,157.1L359.0,156.7L359.5,156.4L360.0,156.0L360.5,155.7L361.0,155.3L361.5,155.0L362.0,154.6L362.5,154.3L363.1,153.9L363.6,153.6L364.1,153.3L364.6,152.9L365.1,152.6L365.6,152.3L366.1,151.9L366.6,151.6L367.1,151.3L367.6,151.0L368.1,150.6L368.6,150.3L369.1,150.0L369.7,149.7L370.2,149.4L370.7,149.1L371.2,148.8L371.7,148.5L372.2,148.2L372.7,147.9L373.2,147.6L373.7,147.3L374.2,147.0L374.7,146.7L375.2,146.4L375.7,146.1L376.3,145.8L376.8,145.5L377.3,145.2L377.8,144.9L378.3,144.6L378.8,144.4L379.3,144.1L379.8,143.8L380.3,143.5L380.8,143.2L381.3,142.9L381.8,142.6L382.3,142.3L382.9,142.1L383.4,141.8L383.9,141.5L384.4,141.2L384.9,140.9L385.4,140.7L385.9,140.4L386.4,140.1L386.9,139.9L387.4,139.6L387.9,139.4L388.4,139.1L388.9,138.9L389.5,138.7L390.0,138.4L390.5,138.2L391.0,138.0L391.5,137.8L392.0,137.6L392.5,137.4L393.0,137.2L393.5,137.0L394.0,136.9L394.5,136.7L395.0,136.6L395.5,136.4L396.1,136.3L396.6,136.1L397.1,136.0L397.6,135.9L398.1,135.8L398.6,135.7L399.1,135.5L399.6,135.4L400.1,135.4L400.6,135.3L401.1,135.2L401.6,135.1L402.1,135.0L402.7,134.9L403.2,134.8L403.7,134.8L404.2,134.7L404.7,134.6L405.2,134.6L405.7,134.5L406.2,134.4L406.7,134.4L407.2,134.3L407.7,134.2L408.2,134.2L408.7,134.1L409.3,134.0L409.8,134.0L410.3,133.9L410.8,133.9L411.3,133.8L411.8,133.8L412.3,133.7L412.8,133.7L413.3,133.6L413.8,133.6L414.3,133.5L414.8,133.5L415.3,133.5L415.9,133.4L416.4,133.4L416.9,133.3L417.4,133.3L417.9,133.3L418.4,133.3L418.9,133.2L419.4,133.2L419.9,133.2L420.4,133.2L420.9,133.2L421.4,133.2L421.9,133.2L422.5,133.2L423.0,133.2L423.5,133.2L424.0,133.2L424.5,133.3L425.0,133.3L425.5,133.4L426.0,133.5L426.5,133.5L427.0,133.6L427.5,133.7L428.0,133.8L428.5,134.0L429.1,134.1L429.6,134.3L430.1,134.4L430.6,134.6L431.1,134.8L431.6,135.0L432.1,135.2L432.6,135.5L433.1,135.7L433.6,136.0L434.1,136.2L434.6,136.5L435.1,136.8L435.7,137.1L436.2,137.4L436.7,137.7L437.2,138.0L437.7,138.3L438.2,138.6L438.7,138.9L439.2,139.1L439.7,139.4L440.2,139.6L440.7,139.7L441.2,139.7L441.7,139.7L442.3,139.5L442.8,139.1L443.3,138.5L443.8,137.7L444.3,136.6L444.8,135.2L445.3,133.7L445.8,131.8L446.3,129.8L446.8,127.6L447.3,125.3L447.8,122.9L448.3,120.5L448.9,118.1L449.4,115.7L449.9,113.4L450.4,111.2L450.9,109.1L451.4,107.2L451.9,105.3L452.4,103.7L452.9,102.1L453.4,100.8L453.9,99.6L454.4,98.6L454.9,97.8L455.5,97.1L456.0,96.6L456.5,96.3L457.0,96.2L457.5,96.3L458.0,96.6L458.5,97.2L459.0,98.0L459.5,99.0L460.0,100.2L460.5,101.7L461.0,103.4L461.5,105.3L462.1,107.4L462.6,109.8L463.1,112.4L463.6,115.3L464.1,118.3L464.6,121.6L465.1,125.1L465.6,128.8L466.1,132.7L466.6,136.7L467.1,141.0L467.6,145.4L468.1,150.0L468.7,154.7L469.2,159.5L469.7,164.4L470.2,169.3L470.7,174.1L471.2,178.8L471.7,183.4L472.2,187.8L472.7,192.0L473.2,195.9L473.7,199.5L474.2,202.9L474.7,206.0L475.3,208.9L475.8,211.6L476.3,214.2L476.8,216.8L477.3,219.3L477.8,221.8L478.3,224.3L478.8,226.9L479.3,229.5L479.8,232.2L480.3,234.9L480.8,237.8L481.4,240.7L481.9,241.0" stroke="#5adc3c" stroke-width="1.0" fill="none"/><path d="M294.0,199.7L294.5,199.5L295.0,199.4L295.5,199.2L296.0,199.0L296.5,198.8L297.0,198.6L297.6,198.4L298.1,198.1L298.6,197.9L299.1,197.6L299.6,197.4L300.1,197.1L300.6,196.8L301.1,196.6L301.6,196.3L302.1,196.0L302.6,195.7L303.1,195.4L303.6,195.2L304.2,194.9L304.7,194.6L305.2,194.3L305.7,194.0L306.2,193.7L306.7,193.4L307.2,193.1L307.7,192.8L308.2,192.5L308.7,192.2L309.2,191.9L309.7,191.6L310.2,191.3L310.8,191.0L311.3,190.7L311.8,190.4L312.3,190.1L312.8,189.8L313.3,189.5L313.8,189.2L314.3,188.8L314.8,188.5L315.3,188.2L315.8,187.9L316.3,187.6L316.8,187.3L317.4,187.0L317.9,186.7L318.4,186.4L318.9,186.0L319.4,185.7L319.9,185.4L320.4,185.1L320.9,184.8L321.4,184.5L321.9,184.2L322.4,183.8L322.9,183.5L323.4,183.2L324.0,182.9L324.5,182.6L325.0,182.3L325.5,182.0L326.0,181.6L326.5,181.3L327.0,181.0L327.5,180.7L328.0,180.4L328.5,180.0L329.0,179.7L329.5,179.4L330.0,179.1L330.6,178.8L331.1,178.5L331.6,178.1L332.1,177.8L332.6,177.5L333.1,177.2L333.6,176.9L334.1,176.5L334.6,176.2L335.1,175.9L335.6,175.6L336.1,175.3L336.6,174.9L337.2,174.6L337.7,174.3L338.2,174.0L338.7,173.6L339.2,173.3L339.7,173.0L340.2,172.6L340.7,172.3L341.2,172.0L341.7,171.6L342.2,171.3L342.7,171.0L343.2,170.6L343.8,170.3L344.3,170.0L344.8,169.6L345.3,169.3L345.8,169.0L346.3,168.6L346.8,168.3L347.3,167.9L347.8,167.6L348.3,167.3L348.8,166.9L349.3,166.6L349.8,166.2L350.4,165.9L350.9,165.5L351.4,165.2L351.9,164.9L352.4,164.5L352.9,164.2L353.4,163.8L353.9,163.5L354.4,163.1L354.9,162.8L355.4,162.5L355.9,162.1L356.5,161.8L357.0,161.4L357.5,161.1L358.0,160.8L358.5,160.4L359.0,160.1L359.5,159.8L360.0,159.4L360.5,159.1L361.0,158.7L361.5,158.4L362.0,158.1L362.5,157.7L363.1,157.4L363.6,157.1L364.1,156.8L364.6,156.4L365.1,156.1L365.6,155.8L366.1,155.5L366.6,155.1L367.1,154.8L367.6,154.5L368.1,154.2L368.6,153.9L369.1,153.5L369.7,153.2L370.2,152.9L370.7,152.6L371.2,152.3L371.7,152.0L372.2,151.7L372.7,151.4L373.2,151.1L373.7,150.7L374.2,150.4L374.7,150.1L375.2,149.8L375.7,149.5L376.3,149.2L376.8,148.9L377.3,148.6L377.8,148.3L378.3,147.9L378.8,147.6L379.3,147.3L379.8,147.0L380.3,146.7L380.8,146.4L381.3,146.0L381.8,145.7L382.3,145.4L382.9,145.1L383.4,144.8L383.9,144.5L384.4,144.1L384.9,143.8L385.4,143.5L385.9,143.2L386.4,142.9L386.9,142.6L387.4,142.4L387.9,142.1L388.4,141.8L388.9,141.5L389.5,141.3L390.0,141.0L390.5,140.8L391.0,140.6L391.5,140.3L392.0,140.1L392.5,139.9L393.0,139.7L393.5,139.5L394.0,139.3L394.5,139.2L395.0,139.0L395.5,138.8L396.1,138.7L396.6,138.6L397.1,138.4L397.6,138.3L398.1,138.2L398.6,138.1L399.1,138.0L399.6,137.9L400.1,137.8L400.6,137.8L401.1,137.7L401.6,137.6L402.1,137.5L402.7,137.5L403.2,137.4L403.7,137.3L404.2,137.3L404.7,137.2L405.2,137.2L405.7,137.1L406.2,137.1L406.7,137.0L407.2,137.0L407.7,136.9L408.2,136.9L408.7,136.8L409.3,136.8L409.8,136.7L410.3,136.7L410.8,136.6L411.3,136.6L411.8,136.6L412.3,136.5L412.8,136.5L413.3,136.5L413.8,136.4L414.3,136.4L414.8,136.4L415.3,136.3L415.9,136.3L416.4,136.3L416.9,136.3L417.4,136.2L417.9,136.2L418.4,136.2L418.9,136.2L419.4,136.2L419.9,136.2L420.4,136.2L420.9,136.1L421.4,136.2L421.9,136.2L422.5,136.2L423.0,136.2L423.5,136.2L424.0,136.3L424.5,136.3L425.0,136.4L425.5,136.4L426.0,136.5L426.5,136.6L427.0,136.7L427.5,136.8L428.0,137.0L428.5,137.1L429.1,137.3L429.6,137.4L430.1,137.6L430.6,137.8L431.1,138.1L431.6,138.3L432.1,138.5L432.6,138.8L433.1,139.1L433.6,139.4L434.1,139.6L434.6,139.9L435.1,140.3L435.7,140.6L436.2,140.9L436.7,141.2L437.2,141.5L437.7,141.8L438.2,142.1L438.7,142.3L439.2,142.5L439.7,142.6L440.2,142.6L440.7,142.6L441.2,142.3L441.7,142.0L442.3,141.4L442.8,140.6L443.3,139.6L443.8,138.3L444.3,136.9L444.8,135.2L445.3,133.4L445.8,131.4L446.3,129.3L446.8,127.2L447.3,125.1L447.8,123.0L448.3,120.9L448.9,118.9L449.4,116.9L449.9,115.1L450.4,113.4L450.9,111.9L451.4,110.5L451.9,109.3L452.4,108.2L452.9,107.3L453.4,106.5L453.9,106.0L454.4,105.6L454.9,105.4L455.5,105.3L456.0,105.5L456.5,105.9L457.0,106.5L457.5,107.3L458.0,108.3L458.5,109.6L459.0,111.1L459.5,112.8L460.0,114.7L460.5,116.8L461.0,119.1L461.5,121.6L462.1,124.4L462.6,127.3L463.1,130.5L463.6,133.8L464.1,137.3L464.6,141.0L465.1,144.8L465.6,148.8L466.1,152.9L466.6,157.1L467.1,161.4L467.6,165.7L468.1,170.0L468.7,174.3L469.2,178.4L469.7,182.5L470.2,186.3L470.7,190.0L471.2,193.4L471.7,196.6L472.2,199.6L472.7,202.4L473.2,205.1L473.7,207.6L474.2,210.0L474.7,212.4L475.3,214.7L475.8,217.0L476.3,219.3L476.8,221.6L477.3,223.9L477.8,226.3L478.3,228.8L478.8,231.2L479.3,233.8L479.8,236.4L480.3,239.1L480.8,241.0" stroke="#3cd250" stroke-width="1.0" fill="none"/><path d="M294.0,214.4L294.5,214.3L295.0,214.1L295.5,213.9L296.0,213.7L296.5,213.5L297.0,213.2L297.6,213.0L298.1,212.7L298.6,212.4L299.1,212.1L299.6,211.8L300.1,211.5L300.6,211.2L301.1,210.9L301.6,210.6L302.1,210.3L302.6,209.9L303.1,209.6L303.6,209.3L304.2,208.9L304.7,208.6L305.2,208.3L305.7,207.9L306.2,207.6L306.7,207.2L307.2,206.9L307.7,206.5L308.2,206.2L308.7,205.8L309.2,205.4L309.7,205.1L310.2,204.7L310.8,204.3L311.3,204.0L311.8,203.6L312.3,203.2L312.8,202.9L313.3,202.5L313.8,202.1L314.3,201.8L314.8,201.4L315.3,201.0L315.8,200.6L316.3,200.2L316.8,199.9L317.4,199.5L317.9,199.1L318.4,198.7L318.9,198.3L319.4,198.0L319.9,197.6L320.4,197.2L320.9,196.8L321.4,196.4L321.9,196.0L322.4,195.6L322.9,195.3L323.4,194.9L324.0,194.5L324.5,194.1L325.0,193.7L325.5,193.3L326.0,192.9L326.5,192.5L327.0,192.1L327.5,191.7L328.0,191.4L328.5,191.0L329.0,190.6L329.5,190.2L330.0,189.8L330.6,189.4L331.1,189.0L331.6,188.6L332.1,188.2L332.6,187.8L333.1,187.4L333.6,187.1L334.1,186.7L334.6,186.3L335.1,185.9L335.6,185.5L336.1,185.1L336.6,184.7L337.2,184.3L337.7,183.9L338.2,183.5L338.7,183.1L339.2,182.6L339.7,182.2L340.2,181.8L340.7,181.4L341.2,181.0L341.7,180.6L342.2,180.2L342.7,179.7L343.2,179.3L343.8,178.9L344.3,178.5L344.8,178.0L345.3,177.6L345.8,177.2L346.3,176.7L346.8,176.3L347.3,175.9L347.8,175.4L348.3,175.0L348.8,174.6L349.3,174.1L349.8,173.7L350.4,173.3L350.9,172.8L351.4,172.4L351.9,172.0L352.4,171.5L352.9,171.1L353.4,170.7L353.9,170.2L354.4,169.8L354.9,169.4L355.4,168.9L355.9,168.5L356.5,168.1L357.0,167.6L357.5,167.2L358.0,166.8L358.5,166.3L359.0,165.9L359.5,165.5L360.0,165.1L360.5,164.7L361.0,164.2L361.5,163.8L362.0,163.4L362.5,163.0L363.1,162.6L363.6,162.2L364.1,161.8L364.6,161.4L365.1,161.0L365.6,160.6L366.1,160.2L366.6,159.8L367.1,159.4L367.6,159.0L368.1,158.6L368.6,158.3L369.1,157.9L369.7,157.5L370.2,157.1L370.7,156.8L371.2,156.4L371.7,156.0L372.2,155.7L372.7,155.3L373.2,155.0L373.7,154.6L374.2,154.3L374.7,153.9L375.2,153.6L375.7,153.2L376.3,152.9L376.8,152.5L377.3,152.2L377.8,151.8L378.3,151.5L378.8,151.1L379.3,150.8L379.8,150.4L380.3,150.1L380.8,149.7L381.3,149.4L381.8,149.1L382.3,148.7L382.9,148.4L383.4,148.0L383.9,147.7L384.4,147.4L384.9,147.1L385.4,146.7L385.9,146.4L386.4,146.1L386.9,145.8L387.4,145.5L387.9,145.2L388.4,144.9L388.9,144.7L389.5,144.4L390.0,144.1L390.5,143.9L391.0,143.6L391.5,143.4L392.0,143.2L392.5,142.9L393.0,142.7L393.5,142.5L394.0,142.4L394.5,142.2L395.0,142.0L395.5,141.9L396.1,141.7L396.6,141.6L397.1,141.5L397.6,141.3L398.1,141.2L398.6,141.1L399.1,141.0L399.6,140.9L400.1,140.8L400.6,140.8L401.1,140.7L401.6,140.6L402.1,140.5L402.7,140.5L403.2,140.4L403.7,140.3L404.2,140.3L404.7,140.2L405.2,140.2L405.7,140.1L406.2,140.1L406.7,140.0L407.2,140.0L407.7,139.9L408.2,139.9L408.7,139.8L409.3,139.8L409.8,139.7L410.3,139.7L410.8,139.6L411.3,139.6L411.8,139.6L412.3,139.5L412.8,139.5L413.3,139.5L413.8,139.4L414.3,139.4L414.8,139.4L415.3,139.3L415.9,139.3L416.4,139.3L416.9,139.3L417.4,139.2L417.9,139.2L418.4,139.2L418.9,139.2L419.4,139.2L419.9,139.2L420.4,139.1L420.9,139.1L421.4,139.1L421.9,139.2L422.5,139.2L423.0,139.2L423.5,139.2L424.0,139.3L424.5,139.3L425.0,139.4L425.5,139.4L426.0,139.5L426.5,139.6L427.0,139.7L427.5,139.8L428.0,139.9L428.5,140.1L429.1,140.2L429.6,140.4L430.1,140.6L430.6,140.8L431.1,141.0L431.6,141.2L432.1,141.5L432.6,141.7L433.1,142.0L433.6,142.3L434.1,142.6L434.6,142.9L435.1,143.2L435.7,143.6L436.2,143.9L436.7,144.2L437.2,144.6L437.7,145.0L438.2,145.4L438.7,145.8L439.2,146.2L439.7,146.6L440.2,147.0L440.7,147.4L441.2,147.9L441.7,148.4L442.3,148.8L442.8,149.3L443.3,149.8L443.8,150.3L444.3,150.8L444.8,151.2L445.3,151.7L445.8,152.1L446.3,152.5L446.8,152.9L447.3,153.1L447.8,153.2L448.3,153.2L448.9,152.9L449.4,152.5L449.9,151.8L450.4,150.7L450.9,149.4L451.4,147.9L451.9,146.0L452.4,143.8L452.9,141.5L453.4,139.0L453.9,136.4L454.4,133.6L454.9,130.9L455.5,128.1L456.0,125.3L456.5,122.6L457.0,120.0L457.5,117.4L458.0,114.9L458.5,112.5L459.0,110.2L459.5,108.0L460.0,105.9L460.5,104.0L461.0,102.2L461.5,100.4L462.1,98.9L462.6,97.4L463.1,96.1L463.6,94.9L464.1,93.8L464.6,92.9L465.1,92.1L465.6,91.4L466.1,90.8L466.6,90.4L467.1,90.1L467.6,90.0L468.1,89.9L468.7,90.1L469.2,90.5L469.7,91.2L470.2,92.0L470.7,93.1L471.2,94.4L471.7,96.0L472.2,97.7L472.7,99.7L473.2,101.9L473.7,104.4L474.2,107.0L474.7,109.9L475.3,113.0L475.8,116.4L476.3,119.9L476.8,123.7L477.3,127.7L477.8,132.0L478.3,136.4L478.8,141.1L479.3,146.0L479.8,151.2L480.3,156.5L480.8,162.1L481.4,167.9L481.9,173.9L482.4,180.1L482.9,186.6L483.4,193.2L483.9,200.1L484.4,207.2L484.9,214.4L485.4,221.9L485.9,229.5L486.4,237.3L486.9,241.0" stroke="#46d264" stroke-width="1.0" fill="none"/><path d="M294.0,218.6L294.5,218.4L295.0,218.3L295.5,218.1L296.0,217.8L296.5,217.6L297.0,217.4L297.6,217.1L298.1,216.8L298.6,216.6L299.1,216.3L299.6,215.9L300.1,215.6L300.6,215.3L301.1,215.0L301.6,214.6L302.1,214.3L302.6,214.0L303.1,213.6L303.6,213.2L304.2,212.9L304.7,212.5L305.2,212.2L305.7,211.8L306.2,211.4L306.7,211.0L307.2,210.7L307.7,210.3L308.2,209.9L308.7,209.5L309.2,209.1L309.7,208.7L310.2,208.3L310.8,207.9L311.3,207.5L311.8,207.1L312.3,206.7L312.8,206.3L313.3,205.9L313.8,205.5L314.3,205.1L314.8,204.7L315.3,204.3L315.8,203.9L316.3,203.4L316.8,203.0L317.4,202.6L317.9,202.2L318.4,201.8L318.9,201.4L319.4,200.9L319.9,200.5L320.4,200.1L320.9,199.7L321.4,199.2L321.9,198.8L322.4,198.4L322.9,198.0L323.4,197.5L324.0,197.1L324.5,196.7L325.0,196.3L325.5,195.9L326.0,195.4L326.5,195.0L327.0,194.6L327.5,194.2L328.0,193.7L328.5,193.3L329.0,192.9L329.5,192.5L330.0,192.1L330.6,191.6L331.1,191.2L331.6,190.8L332.1,190.4L332.6,190.0L333.1,189.6L333.6,189.1L334.1,188.7L334.6,188.3L335.1,187.9L335.6,187.5L336.1,187.1L336.6,186.6L337.2,186.2L337.7,185.8L338.2,185.4L338.7,185.0L339.2,184.6L339.7,184.1L340.2,183.7L340.7,183.3L341.2,182.9L341.7,182.4L342.2,182.0L342.7,181.6L343.2,181.2L343.8,180.7L344.3,180.3L344.8,179.9L345.3,179.4L345.8,179.0L346.3,178.6L346.8,178.1L347.3,177.7L347.8,177.3L348.3,176.8L348.8,176.4L349.3,176.0L349.8,175.5L350.4,175.1L350.9,174.7L351.4,174.2L351.9,173.8L352.4,173.4L352.9,172.9L353.4,172.5L353.9,172.1L354.4,171.6L354.9,171.2L355.4,170.8L355.9,170.3L356.5,169.9L357.0,169.5L357.5,169.0L358.0,168.6L358.5,168.2L359.0,167.7L359.5,167.3L360.0,166.9L360.5,166.5L361.0,166.0L361.5,165.6L362.0,165.2L362.5,164.8L363.1,164.4L363.6,163.9L364.1,163.5L364.6,163.1L365.1,162.7L365.6,162.3L366.1,161.9L366.6,161.5L367.1,161.1L367.6,160.7L368.1,160.3L368.6,159.9L369.1,159.5L369.7,159.1L370.2,158.7L370.7,158.3L371.2,157.9L371.7,157.5L372.2,157.1L372.7,156.7L373.2,156.3L373.7,156.0L374.2,155.6L374.7,155.2L375.2,154.8L375.7,154.4L376.3,154.0L376.8,153.6L377.3,153.3L377.8,152.9L378.3,152.5L378.8,152.1L379.3,151.7L379.8,151.3L380.3,150.9L380.8,150.5L381.3,150.1L381.8,149.8L382.3,149.4L382.9,149.0L383.4,148.6L383.9,148.2L384.4,147.8L384.9,147.5L385.4,147.1L385.9,146.7L386.4,146.4L386.9,146.0L387.4,145.7L387.9,145.3L388.4,145.0L388.9,144.6L389.5,144.3L390.0,144.0L390.5,143.7L391.0,143.4L391.5,143.1L392.0,142.8L392.5,142.6L393.0,142.3L393.5,142.0L394.0,141.8L394.5,141.6L395.0,141.4L395.5,141.1L396.1,140.9L396.6,140.7L397.1,140.6L397.6,140.4L398.1,140.2L398.6,140.1L399.1,139.9L399.6,139.8L400.1,139.6L400.6,139.5L401.1,139.3L401.6,139.2L402.1,139.1L402.7,139.0L403.2,138.9L403.7,138.7L404.2,138.6L404.7,138.5L405.2,138.4L405.7,138.3L406.2,138.2L406.7,138.1L407.2,138.0L407.7,137.9L408.2,137.8L408.7,137.7L409.3,137.6L409.8,137.5L410.3,137.4L410.8,137.4L411.3,137.3L411.8,137.2L412.3,137.1L412.8,137.0L413.3,137.0L413.8,136.9L414.3,136.8L414.8,136.8L415.3,136.7L415.9,136.7L416.4,136.6L416.9,136.5L417.4,136.5L417.9,136.4L418.4,136.4L418.9,136.4L419.4,136.3L419.9,136.3L420.4,136.3L420.9,136.3L421.4,136.2L421.9,136.2L422.5,136.2L423.0,136.2L423.5,136.3L424.0,136.3L424.5,136.3L425.0,136.4L425.5,136.4L426.0,136.5L426.5,136.5L427.0,136.6L427.5,136.7L428.0,136.8L428.5,137.0L429.1,137.1L429.6,137.3L430.1,137.4L430.6,137.6L431.1,137.8L431.6,138.0L432.1,138.2L432.6,138.5L433.1,138.7L433.6,139.0L434.1,139.2L434.6,139.5L435.1,139.8L435.7,140.1L436.2,140.4L436.7,140.7L437.2,141.0L437.7,141.4L438.2,141.7L438.7,142.1L439.2,142.4L439.7,142.8L440.2,143.1L440.7,143.5L441.2,143.9L441.7,144.2L442.3,144.5L442.8,144.9L443.3,145.1L443.8,145.3L444.3,145.5L444.8,145.5L445.3,145.5L445.8,145.3L446.3,144.9L446.8,144.3L447.3,143.4L447.8,142.4L448.3,141.1L448.9,139.5L449.4,137.8L449.9,135.8L450.4,133.7L450.9,131.5L451.4,129.2L451.9,126.9L452.4,124.5L452.9,122.2L453.4,120.0L453.9,117.8L454.4,115.7L454.9,113.7L455.5,111.8L456.0,110.0L456.5,108.3L457.0,106.8L457.5,105.4L458.0,104.2L458.5,103.1L459.0,102.2L459.5,101.4L460.0,100.7L460.5,100.2L461.0,99.9L461.5,99.7L462.1,99.6L462.6,99.8L463.1,100.2L463.6,100.8L464.1,101.6L464.6,102.6L465.1,103.9L465.6,105.4L466.1,107.1L466.6,109.1L467.1,111.2L467.6,113.6L468.1,116.2L468.7,119.0L469.2,122.1L469.7,125.3L470.2,128.8L470.7,132.5L471.2,136.4L471.7,140.5L472.2,144.8L472.7,149.4L473.2,154.1L473.7,159.0L474.2,164.1L474.7,169.3L475.3,174.7L475.8,180.3L476.3,185.9L476.8,191.6L477.3,197.4L477.8,203.2L478.3,208.9L478.8,214.5L479.3,219.9L479.8,225.2L480.3,230.2L480.8,235.0L481.4,239.5L481.9,241.0" stroke="#e6e650" stroke-width="1.0" fill="none"/><path d="M294.0,237.3L294.5,237.1L295.0,236.8L295.5,236.5L296.0,236.2L296.5,235.8L297.0,235.5L297.6,235.1L298.1,234.7L298.6,234.3L299.1,233.9L299.6,233.5L300.1,233.0L300.6,232.6L301.1,232.1L301.6,231.7L302.1,231.2L302.6,230.7L303.1,230.3L303.6,229.8L304.2,229.3L304.7,228.9L305.2,228.4L305.7,227.9L306.2,227.5L306.7,227.0L307.2,226.5L307.7,226.0L308.2,225.6L308.7,225.1L309.2,224.6L309.7,224.2L310.2,223.7L310.8,223.2L311.3,222.7L311.8,222.3L312.3,221.8L312.8,221.3L313.3,220.9L313.8,220.4L314.3,219.9L314.8,219.5L315.3,219.0L315.8,218.5L316.3,218.1L316.8,217.6L317.4,217.1L317.9,216.7L318.4,216.2L318.9,215.7L319.4,215.3L319.9,214.8L320.4,214.3L320.9,213.9L321.4,213.4L321.9,213.0L322.4,212.5L322.9,212.0L323.4,211.6L324.0,211.1L324.5,210.6L325.0,210.2L325.5,209.7L326.0,209.3L326.5,208.8L327.0,208.4L327.5,207.9L328.0,207.5L328.5,207.0L329.0,206.5L329.5,206.1L330.0,205.6L330.6,205.2L331.1,204.7L331.6,204.3L332.1,203.8L332.6,203.4L333.1,202.9L333.6,202.5L334.1,202.1L334.6,201.6L335.1,201.2L335.6,200.7L336.1,200.3L336.6,199.8L337.2,199.4L337.7,199.0L338.2,198.5L338.7,198.1L339.2,197.6L339.7,197.2L340.2,196.8L340.7,196.3L341.2,195.9L341.7,195.5L342.2,195.0L342.7,194.6L343.2,194.2L343.8,193.7L344.3,193.3L344.8,192.9L345.3,192.4L345.8,192.0L346.3,191.6L346.8,191.1L347.3,190.7L347.8,190.3L348.3,189.9L348.8,189.4L349.3,189.0L349.8,188.6L350.4,188.1L350.9,187.7L351.4,187.3L351.9,186.9L352.4,186.4L352.9,186.0L353.4,185.6L353.9,185.1L354.4,184.7L354.9,184.3L355.4,183.9L355.9,183.4L356.5,183.0L357.0,182.6L357.5,182.1L358.0,181.7L358.5,181.3L359.0,180.8L359.5,180.4L360.0,180.0L360.5,179.5L361.0,179.1L361.5,178.7L362.0,178.2L362.5,177.8L363.1,177.3L363.6,176.9L364.1,176.5L364.6,176.0L365.1,175.6L365.6,175.1L366.1,174.7L366.6,174.3L367.1,173.8L367.6,173.4L368.1,172.9L368.6,172.5L369.1,172.1L369.7,171.6L370.2,171.2L370.7,170.8L371.2,170.3L371.7,169.9L372.2,169.5L372.7,169.0L373.2,168.6L373.7,168.2L374.2,167.7L374.7,167.3L375.2,166.9L375.7,166.5L376.3,166.1L376.8,165.6L377.3,165.2L377.8,164.8L378.3,164.4L378.8,164.0L379.3,163.6L379.8,163.2L380.3,162.7L380.8,162.3L381.3,161.9L381.8,161.5L382.3,161.1L382.9,160.7L383.4,160.3L383.9,159.9L384.4,159.4L384.9,159.0L385.4,158.6L385.9,158.2L386.4,157.8L386.9,157.4L387.4,157.0L387.9,156.6L388.4,156.2L388.9,155.8L389.5,155.4L390.0,155.1L390.5,154.7L391.0,154.3L391.5,153.9L392.0,153.6L392.5,153.2L393.0,152.9L393.5,152.6L394.0,152.3L394.5,152.0L395.0,151.7L395.5,151.4L396.1,151.1L396.6,150.8L397.1,150.6L397.6,150.3L398.1,150.1L398.6,149.9L399.1,149.6L399.6,149.4L400.1,149.2L400.6,149.0L401.1,148.9L401.6,148.7L402.1,148.5L402.7,148.4L403.2,148.2L403.7,148.0L404.2,147.9L404.7,147.8L405.2,147.6L405.7,147.5L406.2,147.4L406.7,147.3L407.2,147.2L407.7,147.1L408.2,147.0L408.7,146.9L409.3,146.8L409.8,146.7L410.3,146.6L410.8,146.6L411.3,146.5L411.8,146.5L412.3,146.4L412.8,146.4L413.3,146.4L413.8,146.4L414.3,146.4L414.8,146.4L415.3,146.4L415.9,146.4L416.4,146.5L416.9,146.5L417.4,146.6L417.9,146.7L418.4,146.7L418.9,146.8L419.4,147.0L419.9,147.1L420.4,147.2L420.9,147.4L421.4,147.5L421.9,147.7L422.5,147.8L423.0,148.0L423.5,148.2L424.0,148.4L424.5,148.7L425.0,148.9L425.5,149.1L426.0,149.4L426.5,149.7L427.0,150.0L427.5,150.3L428.0,150.6L428.5,150.9L429.1,151.3L429.6,151.6L430.1,152.0L430.6,152.4L431.1,152.9L431.6,153.3L432.1,153.8L432.6,154.3L433.1,154.8L433.6,155.3L434.1,155.8L434.6,156.4L435.1,157.0L435.7,157.6L436.2,158.2L436.7,158.8L437.2,159.4L437.7,160.0L438.2,160.6L438.7,161.1L439.2,161.6L439.7,162.0L440.2,162.3L440.7,162.5L441.2,162.5L441.7,162.3L442.3,161.8L442.8,161.0L443.3,160.0L443.8,158.7L444.3,157.0L444.8,155.2L445.3,153.1L445.8,150.9L446.3,148.6L446.8,146.3L447.3,143.9L447.8,141.6L448.3,139.3L448.9,137.2L449.4,135.1L449.9,133.2L450.4,131.4L450.9,129.8L451.4,128.3L451.9,127.0L452.4,125.9L452.9,124.9L453.4,124.1L453.9,123.6L454.4,123.1L454.9,122.9L455.5,122.9L456.0,123.0L456.5,123.4L457.0,124.0L457.5,124.8L458.0,125.9L458.5,127.2L459.0,128.6L459.5,130.4L460.0,132.3L460.5,134.5L461.0,136.9L461.5,139.5L462.1,142.3L462.6,145.4L463.1,148.6L463.6,152.1L464.1,155.8L464.6,159.8L465.1,163.9L465.6,168.2L466.1,172.8L466.6,177.6L467.1,182.5L467.6,187.7L468.1,193.0L468.7,198.5L469.2,204.1L469.7,209.8L470.2,215.6L470.7,221.5L471.2,227.4L471.7,233.2L472.2,238.9L472.7,241.0" stroke="#34c89c" stroke-width="1.0" fill="none"/><path d="M294.0,241.0L296.5,240.8L297.0,240.5L297.6,240.2L298.1,239.8L298.6,239.5L299.1,239.2L299.6,238.8L300.1,238.4L300.6,238.1L301.1,237.7L301.6,237.3L302.1,236.9L302.6,236.5L303.1,236.1L303.6,235.7L304.2,235.3L304.7,234.9L305.2,234.5L305.7,234.1L306.2,233.7L306.7,233.3L307.2,232.9L307.7,232.5L308.2,232.0L308.7,231.6L309.2,231.2L309.7,230.8L310.2,230.3L310.8,229.9L311.3,229.5L311.8,229.1L312.3,228.6L312.8,228.2L313.3,227.8L313.8,227.3L314.3,226.9L314.8,226.5L315.3,226.0L315.8,225.6L316.3,225.1L316.8,224.7L317.4,224.2L317.9,223.8L318.4,223.4L318.9,222.9L319.4,222.5L319.9,222.0L320.4,221.6L320.9,221.1L321.4,220.7L321.9,220.2L322.4,219.8L322.9,219.3L323.4,218.9L324.0,218.4L324.5,218.0L325.0,217.5L325.5,217.1L326.0,216.6L326.5,216.2L327.0,215.7L327.5,215.3L328.0,214.8L328.5,214.4L329.0,213.9L329.5,213.5L330.0,213.0L330.6,212.6L331.1,212.1L331.6,211.7L332.1,211.2L332.6,210.8L333.1,210.3L333.6,209.9L334.1,209.4L334.6,209.0L335.1,208.5L335.6,208.1L336.1,207.6L336.6,207.2L337.2,206.7L337.7,206.3L338.2,205.8L338.7,205.4L339.2,204.9L339.7,204.5L340.2,204.0L340.7,203.6L341.2,203.1L341.7,202.7L342.2,202.2L342.7,201.8L343.2,201.3L343.8,200.9L344.3,200.4L344.8,200.0L345.3,199.5L345.8,199.0L346.3,198.6L346.8,198.1L347.3,197.7L347.8,197.2L348.3,196.8L348.8,196.3L349.3,195.8L349.8,195.4L350.4,194.9L350.9,194.5L351.4,194.0L351.9,193.5L352.4,193.1L352.9,192.6L353.4,192.1L353.9,191.7L354.4,191.2L354.9,190.7L355.4,190.2L355.9,189.8L356.5,189.3L357.0,188.8L357.5,188.3L358.0,187.9L358.5,187.4L359.0,186.9L359.5,186.4L360.0,185.9L360.5,185.4L361.0,184.9L361.5,184.4L362.0,183.9L362.5,183.4L363.1,182.9L363.6,182.4L364.1,181.9L364.6,181.4L365.1,180.9L365.6,180.4L366.1,179.8L366.6,179.3L367.1,178.8L367.6,178.3L368.1,177.8L368.6,177.2L369.1,176.7L369.7,176.2L370.2,175.7L370.7,175.2L371.2,174.7L371.7,174.1L372.2,173.6L372.7,173.1L373.2,172.6L373.7,172.1L374.2,171.6L374.7,171.1L375.2,170.6L375.7,170.1L376.3,169.6L376.8,169.1L377.3,168.6L377.8,168.1L378.3,167.6L378.8,167.1L379.3,166.7L379.8,166.2L380.3,165.7L380.8,165.2L381.3,164.7L381.8,164.2L382.3,163.7L382.9,163.3L383.4,162.8L383.9,162.3L384.4,161.8L384.9,161.3L385.4,160.8L385.9,160.3L386.4,159.8L386.9,159.3L387.4,158.8L387.9,158.4L388.4,157.9L388.9,157.4L389.5,156.9L390.0,156.4L390.5,156.0L391.0,155.5L391.5,155.1L392.0,154.6L392.5,154.2L393.0,153.8L393.5,153.4L394.0,153.0L394.5,152.6L395.0,152.2L395.5,151.9L396.1,151.5L396.6,151.2L397.1,150.9L397.6,150.6L398.1,150.3L398.6,150.0L399.1,149.8L399.6,149.6L400.1,149.3L400.6,149.1L401.1,149.0L401.6,148.8L402.1,148.6L402.7,148.5L403.2,148.4L403.7,148.2L404.2,148.1L404.7,148.0L405.2,147.9L405.7,147.9L406.2,147.8L406.7,147.7L407.2,147.7L407.7,147.6L408.2,147.5L408.7,147.5L409.3,147.5L409.8,147.4L410.3,147.4L410.8,147.3L411.3,147.3L411.8,147.3L412.3,147.3L412.8,147.3L413.3,147.2L413.8,147.2L414.3,147.2L414.8,147.3L415.3,147.3L415.9,147.3L416.4,147.4L416.9,147.4L417.4,147.5L417.9,147.6L418.4,147.7L418.9,147.8L419.4,148.0L419.9,148.1L420.4,148.3L420.9,148.5L421.4,148.8L421.9,149.0L422.5,149.3L423.0,149.6L423.5,149.9L424.0,150.2L424.5,150.6L425.0,150.9L425.5,151.3L426.0,151.7L426.5,152.1L427.0,152.6L427.5,153.0L428.0,153.5L428.5,154.0L429.1,154.4L429.6,154.9L430.1,155.5L430.6,156.0L431.1,156.5L431.6,157.1L432.1,157.7L432.6,158.2L433.1,158.8L433.6,159.4L434.1,160.0L434.6,160.5L435.1,161.1L435.7,161.5L436.2,161.9L436.7,162.2L437.2,162.4L437.7,162.4L438.2,162.2L438.7,161.7L439.2,161.0L439.7,160.0L440.2,158.6L440.7,157.0L441.2,155.2L441.7,153.1L442.3,150.9L442.8,148.6L443.3,146.2L443.8,143.8L444.3,141.5L444.8,139.2L445.3,137.0L445.8,134.9L446.3,132.9L446.8,131.1L447.3,129.4L447.8,127.9L448.3,126.5L448.9,125.3L449.4,124.3L449.9,123.5L450.4,122.8L450.9,122.4L451.4,122.1L451.9,122.0L452.4,122.1L452.9,122.4L453.4,122.9L453.9,123.7L454.4,124.7L454.9,125.9L455.5,127.3L456.0,128.9L456.5,130.8L457.0,132.9L457.5,135.2L458.0,137.8L458.5,140.5L459.0,143.5L459.5,146.7L460.0,150.2L460.5,153.8L461.0,157.7L461.5,161.8L462.1,166.0L462.6,170.5L463.1,175.3L463.6,180.2L464.1,185.2L464.6,190.5L465.1,196.0L465.6,201.6L466.1,207.3L466.6,213.1L467.1,219.0L467.6,224.8L468.1,230.7L468.7,236.4L469.2,241.0" stroke="#3cd7c8" stroke-width="1.0" fill="none"/><path d="M294.0,241.0L313.8,240.6L314.3,240.1L314.8,239.7L315.3,239.2L315.8,238.7L316.3,238.3L316.8,237.8L317.4,237.3L317.9,236.9L318.4,236.4L318.9,235.9L319.4,235.4L319.9,234.9L320.4,234.4L320.9,234.0L321.4,233.5L321.9,233.0L322.4,232.5L322.9,231.9L323.4,231.4L324.0,230.9L324.5,230.4L325.0,229.9L325.5,229.4L326.0,228.8L326.5,228.3L327.0,227.8L327.5,227.2L328.0,226.7L328.5,226.2L329.0,225.6L329.5,225.1L330.0,224.5L330.6,224.0L331.1,223.5L331.6,222.9L332.1,222.3L332.6,221.8L333.1,221.2L333.6,220.7L334.1,220.1L334.6,219.6L335.1,219.0L335.6,218.4L336.1,217.9L336.6,217.3L337.2,216.8L337.7,216.2L338.2,215.6L338.7,215.1L339.2,214.5L339.7,213.9L340.2,213.4L340.7,212.8L341.2,212.2L341.7,211.6L342.2,211.1L342.7,210.5L343.2,209.9L343.8,209.4L344.3,208.8L344.8,208.2L345.3,207.6L345.8,207.1L346.3,206.5L346.8,205.9L347.3,205.3L347.8,204.7L348.3,204.2L348.8,203.6L349.3,203.0L349.8,202.4L350.4,201.8L350.9,201.2L351.4,200.6L351.9,200.0L352.4,199.5L352.9,198.9L353.4,198.3L353.9,197.7L354.4,197.1L354.9,196.5L355.4,195.9L355.9,195.3L356.5,194.7L357.0,194.1L357.5,193.5L358.0,193.0L358.5,192.4L359.0,191.8L359.5,191.2L360.0,190.6L360.5,190.1L361.0,189.5L361.5,188.9L362.0,188.4L362.5,187.8L363.1,187.2L363.6,186.7L364.1,186.1L364.6,185.6L365.1,185.0L365.6,184.5L366.1,183.9L366.6,183.4L367.1,182.9L367.6,182.3L368.1,181.8L368.6,181.3L369.1,180.8L369.7,180.2L370.2,179.7L370.7,179.2L371.2,178.7L371.7,178.2L372.2,177.7L372.7,177.2L373.2,176.6L373.7,176.1L374.2,175.6L374.7,175.1L375.2,174.6L375.7,174.1L376.3,173.6L376.8,173.1L377.3,172.6L377.8,172.1L378.3,171.6L378.8,171.1L379.3,170.6L379.8,170.1L380.3,169.5L380.8,169.0L381.3,168.5L381.8,167.9L382.3,167.4L382.9,166.9L383.4,166.3L383.9,165.7L384.4,165.2L384.9,164.6L385.4,164.0L385.9,163.4L386.4,162.9L386.9,162.3L387.4,161.7L387.9,161.1L388.4,160.5L388.9,159.8L389.5,159.2L390.0,158.6L390.5,158.0L391.0,157.4L391.5,156.8L392.0,156.2L392.5,155.7L393.0,155.1L393.5,154.5L394.0,154.0L394.5,153.4L395.0,152.9L395.5,152.4L396.1,151.9L396.6,151.4L397.1,150.9L397.6,150.5L398.1,150.1L398.6,149.7L399.1,149.3L399.6,148.9L400.1,148.6L400.6,148.3L401.1,148.0L401.6,147.7L402.1,147.5L402.7,147.3L403.2,147.1L403.7,146.9L404.2,146.8L404.7,146.7L405.2,146.6L405.7,146.5L406.2,146.4L406.7,146.3L407.2,146.3L407.7,146.3L408.2,146.2L408.7,146.2L409.3,146.2L409.8,146.2L410.3,146.2L410.8,146.3L411.3,146.3L411.8,146.3L412.3,146.3L412.8,146.4L413.3,146.4L413.8,146.5L414.3,146.5L414.8,146.6L415.3,146.6L415.9,146.7L416.4,146.8L416.9,146.9L417.4,147.0L417.9,147.1L418.4,147.2L418.9,147.3L419.4,147.5L419.9,147.7L420.4,147.9L420.9,148.1L421.4,148.3L421.9,148.6L422.5,148.9L423.0,149.2L423.5,149.6L424.0,149.9L424.5,150.3L425.0,150.7L425.5,151.2L426.0,151.6L426.5,152.1L427.0,152.6L427.5,153.1L428.0,153.6L428.5,154.2L429.1,154.8L429.6,155.3L430.1,155.9L430.6,156.5L431.1,157.2L431.6,157.8L432.1,158.5L432.6,159.1L433.1,159.8L433.6,160.5L434.1,161.2L434.6,161.9L435.1,162.6L435.7,163.4L436.2,164.2L436.7,164.9L437.2,165.7L437.7,166.6L438.2,167.4L438.7,168.2L439.2,169.1L439.7,169.9L440.2,170.8L440.7,171.7L441.2,172.5L441.7,173.4L442.3,174.2L442.8,174.9L443.3,175.6L443.8,176.1L444.3,176.4L444.8,176.5L445.3,176.4L445.8,175.9L446.3,175.0L446.8,173.7L447.3,172.1L447.8,170.1L448.3,167.8L448.9,165.3L449.4,162.5L449.9,159.7L450.4,156.7L450.9,153.8L451.4,150.9L451.9,148.0L452.4,145.2L452.9,142.5L453.4,139.9L453.9,137.5L454.4,135.1L454.9,132.9L455.5,130.9L456.0,129.0L456.5,127.2L457.0,125.6L457.5,124.1L458.0,122.8L458.5,121.7L459.0,120.7L459.5,119.8L460.0,119.1L460.5,118.6L461.0,118.2L461.5,118.0L462.1,118.0L462.6,118.1L463.1,118.5L463.6,119.1L464.1,119.9L464.6,120.9L465.1,122.2L465.6,123.7L466.1,125.4L466.6,127.4L467.1,129.5L467.6,131.9L468.1,134.5L468.7,137.4L469.2,140.5L469.7,143.8L470.2,147.3L470.7,151.0L471.2,155.0L471.7,159.2L472.2,163.7L472.7,168.3L473.2,173.2L473.7,178.3L474.2,183.6L474.7,189.1L475.3,194.9L475.8,200.9L476.3,207.1L476.8,213.5L477.3,220.2L477.8,227.0L478.3,234.1L478.8,241.0" stroke="#3cc8dc" stroke-width="1.0" fill="none"/><path d="M294.0,241.0L308.2,241.0L308.7,240.5L309.2,240.1L309.7,239.6L310.2,239.1L310.8,238.7L311.3,238.2L311.8,237.7L312.3,237.2L312.8,236.7L313.3,236.3L313.8,235.8L314.3,235.3L314.8,234.8L315.3,234.3L315.8,233.8L316.3,233.2L316.8,232.7L317.4,232.2L317.9,231.7L318.4,231.2L318.9,230.6L319.4,230.1L319.9,229.6L320.4,229.0L320.9,228.5L321.4,227.9L321.9,227.4L322.4,226.8L322.9,226.3L323.4,225.7L324.0,225.2L324.5,224.6L325.0,224.1L325.5,223.5L326.0,223.0L326.5,222.4L327.0,221.9L327.5,221.3L328.0,220.8L328.5,220.3L329.0,219.7L329.5,219.2L330.0,218.7L330.6,218.1L331.1,217.6L331.6,217.1L332.1,216.5L332.6,216.0L333.1,215.5L333.6,215.0L334.1,214.5L334.6,214.0L335.1,213.5L335.6,212.9L336.1,212.4L336.6,211.9L337.2,211.4L337.7,210.9L338.2,210.4L338.7,210.0L339.2,209.5L339.7,209.0L340.2,208.5L340.7,208.0L341.2,207.5L341.7,207.0L342.2,206.5L342.7,206.0L343.2,205.6L343.8,205.1L344.3,204.6L344.8,204.1L345.3,203.6L345.8,203.2L346.3,202.7L346.8,202.2L347.3,201.7L347.8,201.3L348.3,200.8L348.8,200.3L349.3,199.8L349.8,199.4L350.4,198.9L350.9,198.4L351.4,198.0L351.9,197.5L352.4,197.0L352.9,196.5L353.4,196.1L353.9,195.6L354.4,195.1L354.9,194.7L355.4,194.2L355.9,193.7L356.5,193.3L357.0,192.8L357.5,192.3L358.0,191.9L358.5,191.4L359.0,190.9L359.5,190.4L360.0,190.0L360.5,189.5L361.0,189.0L361.5,188.6L362.0,188.1L362.5,187.6L363.1,187.2L363.6,186.7L364.1,186.2L364.6,185.7L365.1,185.3L365.6,184.8L366.1,184.3L366.6,183.8L367.1,183.4L367.6,182.9L368.1,182.4L368.6,182.0L369.1,181.5L369.7,181.0L370.2,180.6L370.7,180.1L371.2,179.7L371.7,179.2L372.2,178.7L372.7,178.3L373.2,177.8L373.7,177.4L374.2,176.9L374.7,176.5L375.2,176.1L375.7,175.6L376.3,175.2L376.8,174.7L377.3,174.3L377.8,173.9L378.3,173.4L378.8,173.0L379.3,172.6L379.8,172.2L380.3,171.7L380.8,171.3L381.3,170.9L381.8,170.5L382.3,170.0L382.9,169.6L383.4,169.2L383.9,168.8L384.4,168.3L384.9,167.9L385.4,167.5L385.9,167.1L386.4,166.6L386.9,166.2L387.4,165.8L387.9,165.4L388.4,165.0L388.9,164.6L389.5,164.2L390.0,163.8L390.5,163.5L391.0,163.1L391.5,162.7L392.0,162.4L392.5,162.0L393.0,161.7L393.5,161.4L394.0,161.1L394.5,160.8L395.0,160.5L395.5,160.2L396.1,159.9L396.6,159.7L397.1,159.5L397.6,159.2L398.1,159.0L398.6,158.8L399.1,158.6L399.6,158.5L400.1,158.3L400.6,158.1L401.1,158.0L401.6,157.9L402.1,157.7L402.7,157.6L403.2,157.5L403.7,157.4L404.2,157.3L404.7,157.2L405.2,157.1L405.7,157.0L406.2,156.9L406.7,156.8L407.2,156.8L407.7,156.7L408.2,156.6L408.7,156.6L409.3,156.5L409.8,156.5L410.3,156.4L410.8,156.4L411.3,156.4L411.8,156.4L412.3,156.3L412.8,156.4L413.3,156.4L413.8,156.4L414.3,156.4L414.8,156.5L415.3,156.6L415.9,156.6L416.4,156.7L416.9,156.9L417.4,157.0L417.9,157.1L418.4,157.3L418.9,157.5L419.4,157.7L419.9,157.9L420.4,158.2L420.9,158.4L421.4,158.7L421.9,159.0L422.5,159.3L423.0,159.6L423.5,159.9L424.0,160.3L424.5,160.6L425.0,161.0L425.5,161.4L426.0,161.8L426.5,162.2L427.0,162.6L427.5,163.1L428.0,163.5L428.5,163.9L429.1,164.4L429.6,164.8L430.1,165.3L430.6,165.7L431.1,166.0L431.6,166.3L432.1,166.6L432.6,166.7L433.1,166.6L433.6,166.4L434.1,166.0L434.6,165.3L435.1,164.4L435.7,163.3L436.2,161.9L436.7,160.2L437.2,158.4L437.7,156.5L438.2,154.4L438.7,152.3L439.2,150.2L439.7,148.1L440.2,146.0L440.7,144.0L441.2,142.2L441.7,140.4L442.3,138.8L442.8,137.3L443.3,136.0L443.8,134.8L444.3,133.8L444.8,133.0L445.3,132.3L445.8,131.9L446.3,131.6L446.8,131.5L447.3,131.5L447.8,131.8L448.3,132.3L448.9,133.1L449.4,134.0L449.9,135.2L450.4,136.6L450.9,138.2L451.4,140.0L451.9,142.1L452.4,144.4L452.9,146.9L453.4,149.6L453.9,152.5L454.4,155.7L454.9,159.1L455.5,162.6L456.0,166.4L456.5,170.4L457.0,174.6L457.5,179.0L458.0,183.6L458.5,188.4L459.0,193.3L459.5,198.4L460.0,203.6L460.5,208.9L461.0,214.3L461.5,219.7L462.1,225.0L462.6,230.3L463.1,235.4L463.6,240.3L464.1,241.0" stroke="#46b4f0" stroke-width="1.0" fill="none"/><path d="M294.0,241.0L298.6,241.0L299.1,240.6L299.6,240.3L300.1,239.9L300.6,239.5L301.1,239.2L301.6,238.8L302.1,238.4L302.6,238.0L303.1,237.6L303.6,237.2L304.2,236.8L304.7,236.4L305.2,236.0L305.7,235.6L306.2,235.2L306.7,234.8L307.2,234.4L307.7,234.0L308.2,233.6L308.7,233.2L309.2,232.8L309.7,232.4L310.2,231.9L310.8,231.5L311.3,231.1L311.8,230.7L312.3,230.3L312.8,229.8L313.3,229.4L313.8,229.0L314.3,228.6L314.8,228.1L315.3,227.7L315.8,227.3L316.3,226.8L316.8,226.4L317.4,226.0L317.9,225.5L318.4,225.1L318.9,224.6L319.4,224.2L319.9,223.8L320.4,223.3L320.9,222.9L321.4,222.4L321.9,222.0L322.4,221.6L322.9,221.1L323.4,220.7L324.0,220.2L324.5,219.8L325.0,219.3L325.5,218.9L326.0,218.5L326.5,218.0L327.0,217.6L327.5,217.1L328.0,216.7L328.5,216.2L329.0,215.8L329.5,215.3L330.0,214.9L330.6,214.4L331.1,214.0L331.6,213.6L332.1,213.1L332.6,212.7L333.1,212.2L333.6,211.8L334.1,211.3L334.6,210.9L335.1,210.4L335.6,210.0L336.1,209.5L336.6,209.1L337.2,208.6L337.7,208.2L338.2,207.7L338.7,207.3L339.2,206.8L339.7,206.3L340.2,205.9L340.7,205.4L341.2,205.0L341.7,204.5L342.2,204.1L342.7,203.6L343.2,203.2L343.8,202.7L344.3,202.2L344.8,201.8L345.3,201.3L345.8,200.9L346.3,200.4L346.8,199.9L347.3,199.5L347.8,199.0L348.3,198.6L348.8,198.1L349.3,197.6L349.8,197.2L350.4,196.7L350.9,196.3L351.4,195.8L351.9,195.3L352.4,194.9L352.9,194.4L353.4,194.0L353.9,193.5L354.4,193.1L354.9,192.6L355.4,192.1L355.9,191.7L356.5,191.2L357.0,190.8L357.5,190.3L358.0,189.9L358.5,189.4L359.0,188.9L359.5,188.5L360.0,188.0L360.5,187.6L361.0,187.1L361.5,186.7L362.0,186.2L362.5,185.8L363.1,185.4L363.6,184.9L364.1,184.5L364.6,184.0L365.1,183.6L365.6,183.1L366.1,182.7L366.6,182.3L367.1,181.8L367.6,181.4L368.1,180.9L368.6,180.5L369.1,180.0L369.7,179.6L370.2,179.2L370.7,178.7L371.2,178.3L371.7,177.8L372.2,177.3L372.7,176.9L373.2,176.4L373.7,175.9L374.2,175.5L374.7,175.0L375.2,174.5L375.7,174.0L376.3,173.5L376.8,173.0L377.3,172.4L377.8,171.9L378.3,171.4L378.8,170.8L379.3,170.2L379.8,169.6L380.3,169.0L380.8,168.4L381.3,167.8L381.8,167.1L382.3,166.5L382.9,165.8L383.4,165.1L383.9,164.4L384.4,163.7L384.9,163.0L385.4,162.3L385.9,161.6L386.4,160.9L386.9,160.2L387.4,159.5L387.9,158.8L388.4,158.1L388.9,157.5L389.5,156.8L390.0,156.2L390.5,155.7L391.0,155.1L391.5,154.6L392.0,154.1L392.5,153.7L393.0,153.3L393.5,152.9L394.0,152.6L394.5,152.3L395.0,152.0L395.5,151.8L396.1,151.6L396.6,151.4L397.1,151.3L397.6,151.2L398.1,151.1L398.6,151.1L399.1,151.0L399.6,151.0L400.1,151.0L400.6,151.0L401.1,151.0L401.6,151.1L402.1,151.1L402.7,151.2L403.2,151.2L403.7,151.3L404.2,151.4L404.7,151.5L405.2,151.6L405.7,151.7L406.2,151.8L406.7,151.9L407.2,152.0L407.7,152.1L408.2,152.2L408.7,152.4L409.3,152.5L409.8,152.7L410.3,152.9L410.8,153.1L411.3,153.3L411.8,153.5L412.3,153.7L412.8,154.0L413.3,154.2L413.8,154.5L414.3,154.8L414.8,155.1L415.3,155.5L415.9,155.8L416.4,156.2L416.9,156.6L417.4,157.0L417.9,157.4L418.4,157.8L418.9,158.2L419.4,158.7L419.9,159.1L420.4,159.6L420.9,160.1L421.4,160.5L421.9,161.0L422.5,161.5L423.0,162.0L423.5,162.4L424.0,162.9L424.5,163.4L425.0,163.8L425.5,164.3L426.0,164.7L426.5,165.0L427.0,165.3L427.5,165.5L428.0,165.6L428.5,165.6L429.1,165.5L429.6,165.2L430.1,164.7L430.6,164.0L431.1,163.1L431.6,162.1L432.1,160.8L432.6,159.5L433.1,158.0L433.6,156.4L434.1,154.7L434.6,153.1L435.1,151.4L435.7,149.8L436.2,148.3L436.7,146.8L437.2,145.5L437.7,144.3L438.2,143.2L438.7,142.2L439.2,141.5L439.7,140.8L440.2,140.3L440.7,140.0L441.2,139.9L441.7,139.9L442.3,140.2L442.8,140.6L443.3,141.3L443.8,142.2L444.3,143.3L444.8,144.6L445.3,146.1L445.8,147.8L446.3,149.8L446.8,151.9L447.3,154.3L447.8,156.8L448.3,159.6L448.9,162.6L449.4,165.7L449.9,169.1L450.4,172.6L450.9,176.3L451.4,180.2L451.9,184.1L452.4,188.2L452.9,192.4L453.4,196.6L453.9,200.9L454.4,205.1L454.9,209.3L455.5,213.4L456.0,217.3L456.5,221.0L457.0,224.4L457.5,227.7L458.0,230.7L458.5,233.4L459.0,236.0L459.5,238.4L460.0,240.6L460.5,241.0" stroke="#3a88e8" stroke-width="1.0" fill="none"/><path d="M294.0,241.0L316.3,240.6L316.8,240.2L317.4,239.7L317.9,239.2L318.4,238.8L318.9,238.3L319.4,237.8L319.9,237.4L320.4,236.9L320.9,236.4L321.4,235.9L321.9,235.4L322.4,234.9L322.9,234.4L323.4,233.9L324.0,233.4L324.5,232.9L325.0,232.3L325.5,231.8L326.0,231.3L326.5,230.7L327.0,230.2L327.5,229.6L328.0,229.1L328.5,228.5L329.0,228.0L329.5,227.4L330.0,226.8L330.6,226.3L331.1,225.7L331.6,225.1L332.1,224.6L332.6,224.0L333.1,223.4L333.6,222.8L334.1,222.2L334.6,221.7L335.1,221.1L335.6,220.5L336.1,219.9L336.6,219.3L337.2,218.8L337.7,218.2L338.2,217.6L338.7,217.0L339.2,216.5L339.7,215.9L340.2,215.3L340.7,214.8L341.2,214.2L341.7,213.6L342.2,213.1L342.7,212.5L343.2,212.0L343.8,211.4L344.3,210.9L344.8,210.3L345.3,209.8L345.8,209.3L346.3,208.7L346.8,208.2L347.3,207.7L347.8,207.1L348.3,206.6L348.8,206.1L349.3,205.6L349.8,205.1L350.4,204.6L350.9,204.0L351.4,203.5L351.9,203.0L352.4,202.5L352.9,202.0L353.4,201.5L353.9,201.0L354.4,200.5L354.9,200.0L355.4,199.5L355.9,199.0L356.5,198.5L357.0,198.0L357.5,197.5L358.0,197.0L358.5,196.5L359.0,196.0L359.5,195.5L360.0,195.0L360.5,194.5L361.0,194.0L361.5,193.5L362.0,193.0L362.5,192.5L363.1,192.0L363.6,191.5L364.1,191.0L364.6,190.5L365.1,190.0L365.6,189.5L366.1,189.0L366.6,188.6L367.1,188.1L367.6,187.6L368.1,187.1L368.6,186.6L369.1,186.2L369.7,185.7L370.2,185.2L370.7,184.7L371.2,184.2L371.7,183.8L372.2,183.3L372.7,182.8L373.2,182.3L373.7,181.8L374.2,181.2L374.7,180.7L375.2,180.2L375.7,179.6L376.3,179.1L376.8,178.5L377.3,177.9L377.8,177.2L378.3,176.6L378.8,175.9L379.3,175.2L379.8,174.5L380.3,173.7L380.8,172.9L381.3,172.1L381.8,171.2L382.3,170.3L382.9,169.4L383.4,168.5L383.9,167.6L384.4,166.6L384.9,165.7L385.4,164.7L385.9,163.8L386.4,162.8L386.9,161.9L387.4,161.0L387.9,160.2L388.4,159.4L388.9,158.6L389.5,157.9L390.0,157.2L390.5,156.6L391.0,156.0L391.5,155.5L392.0,155.1L392.5,154.7L393.0,154.4L393.5,154.1L394.0,153.9L394.5,153.8L395.0,153.6L395.5,153.6L396.1,153.5L396.6,153.5L397.1,153.5L397.6,153.6L398.1,153.6L398.6,153.7L399.1,153.8L399.6,153.9L400.1,154.1L400.6,154.2L401.1,154.4L401.6,154.5L402.1,154.7L402.7,154.9L403.2,155.1L403.7,155.3L404.2,155.5L404.7,155.7L405.2,155.9L405.7,156.1L406.2,156.4L406.7,156.6L407.2,156.9L407.7,157.2L408.2,157.5L408.7,157.8L409.3,158.1L409.8,158.4L410.3,158.7L410.8,159.1L411.3,159.5L411.8,159.8L412.3,160.2L412.8,160.7L413.3,161.1L413.8,161.6L414.3,162.0L414.8,162.5L415.3,163.0L415.9,163.5L416.4,164.1L416.9,164.6L417.4,165.1L417.9,165.7L418.4,166.3L418.9,166.9L419.4,167.5L419.9,168.1L420.4,168.7L420.9,169.3L421.4,169.9L421.9,170.5L422.5,171.2L423.0,171.8L423.5,172.4L424.0,173.1L424.5,173.7L425.0,174.3L425.5,174.9L426.0,175.5L426.5,176.0L427.0,176.4L427.5,176.8L428.0,177.1L428.5,177.3L429.1,177.3L429.6,177.2L430.1,176.8L430.6,176.3L431.1,175.5L431.6,174.5L432.1,173.3L432.6,171.9L433.1,170.4L433.6,168.7L434.1,166.9L434.6,165.1L435.1,163.2L435.7,161.4L436.2,159.5L436.7,157.8L437.2,156.1L437.7,154.4L438.2,152.9L438.7,151.5L439.2,150.2L439.7,149.1L440.2,148.0L440.7,147.1L441.2,146.4L441.7,145.8L442.3,145.3L442.8,145.0L443.3,144.8L443.8,144.8L444.3,145.0L444.8,145.4L445.3,146.0L445.8,146.8L446.3,147.9L446.8,149.2L447.3,150.7L447.8,152.4L448.3,154.4L448.9,156.5L449.4,158.9L449.9,161.5L450.4,164.3L450.9,167.4L451.4,170.7L451.9,174.1L452.4,177.8L452.9,181.7L453.4,185.8L453.9,190.1L454.4,194.6L454.9,199.2L455.5,204.1L456.0,209.0L456.5,214.1L457.0,219.3L457.5,224.6L458.0,229.9L458.5,235.2L459.0,240.3L459.5,241.0" stroke="#3468e4" stroke-width="1.0" fill="none"/><path d="M294.0,241.0L323.4,241.0L324.0,240.5L324.5,240.0L325.0,239.5L325.5,239.0L326.0,238.5L326.5,238.0L327.0,237.5L327.5,236.9L328.0,236.4L328.5,235.8L329.0,235.3L329.5,234.7L330.0,234.2L330.6,233.6L331.1,233.0L331.6,232.4L332.1,231.8L332.6,231.2L333.1,230.6L333.6,230.0L334.1,229.4L334.6,228.8L335.1,228.2L335.6,227.5L336.1,226.9L336.6,226.3L337.2,225.6L337.7,225.0L338.2,224.3L338.7,223.7L339.2,223.0L339.7,222.4L340.2,221.7L340.7,221.1L341.2,220.4L341.7,219.8L342.2,219.2L342.7,218.5L343.2,217.9L343.8,217.3L344.3,216.6L344.8,216.0L345.3,215.4L345.8,214.8L346.3,214.2L346.8,213.6L347.3,213.0L347.8,212.4L348.3,211.8L348.8,211.2L349.3,210.6L349.8,210.0L350.4,209.4L350.9,208.9L351.4,208.3L351.9,207.7L352.4,207.2L352.9,206.6L353.4,206.0L353.9,205.5L354.4,204.9L354.9,204.4L355.4,203.8L355.9,203.3L356.5,202.7L357.0,202.2L357.5,201.7L358.0,201.1L358.5,200.6L359.0,200.1L359.5,199.5L360.0,199.0L360.5,198.5L361.0,198.0L361.5,197.5L362.0,196.9L362.5,196.4L363.1,195.9L363.6,195.4L364.1,194.9L364.6,194.4L365.1,193.9L365.6,193.4L366.1,193.0L366.6,192.5L367.1,192.0L367.6,191.5L368.1,191.1L368.6,190.6L369.1,190.2L369.7,189.7L370.2,189.3L370.7,188.8L371.2,188.4L371.7,188.0L372.2,187.5L372.7,187.1L373.2,186.7L373.7,186.3L374.2,185.8L374.7,185.4L375.2,185.0L375.7,184.5L376.3,184.1L376.8,183.7L377.3,183.2L377.8,182.7L378.3,182.2L378.8,181.7L379.3,181.2L379.8,180.7L380.3,180.1L380.8,179.5L381.3,178.9L381.8,178.3L382.3,177.6L382.9,176.9L383.4,176.2L383.9,175.5L384.4,174.7L384.9,174.0L385.4,173.2L385.9,172.3L386.4,171.5L386.9,170.7L387.4,169.9L387.9,169.1L388.4,168.3L388.9,167.5L389.5,166.8L390.0,166.1L390.5,165.4L391.0,164.8L391.5,164.2L392.0,163.7L392.5,163.2L393.0,162.8L393.5,162.4L394.0,162.1L394.5,161.8L395.0,161.6L395.5,161.4L396.1,161.3L396.6,161.2L397.1,161.2L397.6,161.2L398.1,161.2L398.6,161.2L399.1,161.3L399.6,161.4L400.1,161.5L400.6,161.7L401.1,161.8L401.6,162.0L402.1,162.2L402.7,162.4L403.2,162.6L403.7,162.8L404.2,163.1L404.7,163.3L405.2,163.6L405.7,163.8L406.2,164.1L406.7,164.4L407.2,164.7L407.7,165.0L408.2,165.3L408.7,165.7L409.3,166.0L409.8,166.4L410.3,166.8L410.8,167.2L411.3,167.6L411.8,168.0L412.3,168.5L412.8,168.9L413.3,169.4L413.8,169.9L414.3,170.4L414.8,171.0L415.3,171.5L415.9,172.1L416.4,172.7L416.9,173.3L417.4,174.0L417.9,174.6L418.4,175.3L418.9,175.9L419.4,176.6L419.9,177.3L420.4,178.0L420.9,178.7L421.4,179.4L421.9,180.1L422.5,180.9L423.0,181.6L423.5,182.4L424.0,183.2L424.5,183.9L425.0,184.7L425.5,185.5L426.0,186.3L426.5,187.1L427.0,188.0L427.5,188.8L428.0,189.6L428.5,190.5L429.1,191.3L429.6,192.1L430.1,192.9L430.6,193.6L431.1,194.3L431.6,194.9L432.1,195.3L432.6,195.6L433.1,195.7L433.6,195.6L434.1,195.2L434.6,194.4L435.1,193.4L435.7,192.0L436.2,190.4L436.7,188.5L437.2,186.3L437.7,184.1L438.2,181.7L438.7,179.2L439.2,176.8L439.7,174.3L440.2,171.9L440.7,169.6L441.2,167.4L441.7,165.2L442.3,163.2L442.8,161.3L443.3,159.6L443.8,157.9L444.3,156.5L444.8,155.1L445.3,153.9L445.8,152.9L446.3,152.0L446.8,151.3L447.3,150.7L447.8,150.3L448.3,150.0L448.9,149.9L449.4,150.0L449.9,150.2L450.4,150.8L450.9,151.5L451.4,152.4L451.9,153.6L452.4,155.0L452.9,156.7L453.4,158.5L453.9,160.6L454.4,162.9L454.9,165.4L455.5,168.2L456.0,171.2L456.5,174.4L457.0,177.8L457.5,181.5L458.0,185.4L458.5,189.5L459.0,193.8L459.5,198.3L460.0,203.1L460.5,208.1L461.0,213.3L461.5,218.7L462.1,224.4L462.6,230.2L463.1,236.3L463.6,241.0" stroke="#3434e0" stroke-width="1.0" fill="none"/><path d="M294.0,241.0L333.6,240.9L334.1,240.4L334.6,239.9L335.1,239.3L335.6,238.8L336.1,238.3L336.6,237.7L337.2,237.1L337.7,236.6L338.2,236.0L338.7,235.4L339.2,234.7L339.7,234.1L340.2,233.5L340.7,232.8L341.2,232.1L341.7,231.4L342.2,230.7L342.7,230.0L343.2,229.3L343.8,228.6L344.3,227.9L344.8,227.1L345.3,226.4L345.8,225.6L346.3,224.8L346.8,224.1L347.3,223.3L347.8,222.5L348.3,221.7L348.8,220.9L349.3,220.2L349.8,219.4L350.4,218.6L350.9,217.8L351.4,217.0L351.9,216.3L352.4,215.5L352.9,214.7L353.4,214.0L353.9,213.2L354.4,212.5L354.9,211.7L355.4,211.0L355.9,210.3L356.5,209.5L357.0,208.8L357.5,208.1L358.0,207.4L358.5,206.7L359.0,206.0L359.5,205.3L360.0,204.6L360.5,203.9L361.0,203.3L361.5,202.6L362.0,201.9L362.5,201.3L363.1,200.6L363.6,199.9L364.1,199.3L364.6,198.7L365.1,198.0L365.6,197.4L366.1,196.8L366.6,196.2L367.1,195.6L367.6,195.0L368.1,194.4L368.6,193.9L369.1,193.3L369.7,192.8L370.2,192.3L370.7,191.8L371.2,191.3L371.7,190.8L372.2,190.3L372.7,189.8L373.2,189.4L373.7,189.0L374.2,188.5L374.7,188.1L375.2,187.7L375.7,187.3L376.3,186.9L376.8,186.5L377.3,186.1L377.8,185.7L378.3,185.3L378.8,184.9L379.3,184.5L379.8,184.0L380.3,183.6L380.8,183.1L381.3,182.6L381.8,182.1L382.3,181.6L382.9,181.1L383.4,180.5L383.9,179.9L384.4,179.2L384.9,178.5L385.4,177.8L385.9,177.1L386.4,176.4L386.9,175.6L387.4,174.8L387.9,174.0L388.4,173.2L388.9,172.4L389.5,171.7L390.0,170.9L390.5,170.2L391.0,169.5L391.5,168.9L392.0,168.3L392.5,167.7L393.0,167.2L393.5,166.7L394.0,166.3L394.5,166.0L395.0,165.7L395.5,165.4L396.1,165.2L396.6,165.1L397.1,165.0L397.6,164.9L398.1,164.8L398.6,164.8L399.1,164.8L399.6,164.8L400.1,164.9L400.6,164.9L401.1,165.0L401.6,165.1L402.1,165.2L402.7,165.3L403.2,165.4L403.7,165.5L404.2,165.6L404.7,165.8L405.2,165.9L405.7,166.0L406.2,166.2L406.7,166.4L407.2,166.5L407.7,166.7L408.2,166.9L408.7,167.1L409.3,167.3L409.8,167.5L410.3,167.7L410.8,167.9L411.3,168.2L411.8,168.4L412.3,168.7L412.8,169.0L413.3,169.3L413.8,169.6L414.3,170.0L414.8,170.3L415.3,170.7L415.9,171.1L416.4,171.5L416.9,171.9L417.4,172.3L417.9,172.8L418.4,173.3L418.9,173.7L419.4,174.2L419.9,174.7L420.4,175.2L420.9,175.7L421.4,176.2L421.9,176.7L422.5,177.3L423.0,177.8L423.5,178.3L424.0,178.8L424.5,179.3L425.0,179.8L425.5,180.4L426.0,180.9L426.5,181.4L427.0,181.9L427.5,182.4L428.0,182.9L428.5,183.4L429.1,183.9L429.6,184.4L430.1,184.9L430.6,185.5L431.1,186.0L431.6,186.5L432.1,187.0L432.6,187.6L433.1,188.1L433.6,188.7L434.1,189.2L434.6,189.8L435.1,190.4L435.7,191.0L436.2,191.6L436.7,192.2L437.2,192.8L437.7,193.5L438.2,194.1L438.7,194.8L439.2,195.5L439.7,196.1L440.2,196.8L440.7,197.5L441.2,198.2L441.7,198.9L442.3,199.5L442.8,200.1L443.3,200.6L443.8,200.9L444.3,201.2L444.8,201.3L445.3,201.2L445.8,200.9L446.3,200.3L446.8,199.5L447.3,198.4L447.8,197.1L448.3,195.5L448.9,193.8L449.4,191.8L449.9,189.8L450.4,187.7L450.9,185.6L451.4,183.5L451.9,181.4L452.4,179.4L452.9,177.4L453.4,175.6L453.9,173.8L454.4,172.2L454.9,170.7L455.5,169.3L456.0,168.1L456.5,167.0L457.0,166.1L457.5,165.2L458.0,164.6L458.5,164.1L459.0,163.7L459.5,163.5L460.0,163.5L460.5,163.6L461.0,164.1L461.5,164.8L462.1,165.8L462.6,167.0L463.1,168.5L463.6,170.3L464.1,172.3L464.6,174.6L465.1,177.2L465.6,180.1L466.1,183.2L466.6,186.6L467.1,190.2L467.6,194.2L468.1,198.3L468.7,202.8L469.2,207.5L469.7,212.5L470.2,217.7L470.7,223.1L471.2,228.8L471.7,234.8L472.2,240.9L472.7,241.0" stroke="#2424dc" stroke-width="1.0" fill="none"/><path d="M294.0,241.0L339.7,240.6L340.2,240.0L340.7,239.4L341.2,238.7L341.7,238.1L342.2,237.4L342.7,236.8L343.2,236.1L343.8,235.4L344.3,234.8L344.8,234.1L345.3,233.3L345.8,232.6L346.3,231.9L346.8,231.2L347.3,230.4L347.8,229.6L348.3,228.9L348.8,228.1L349.3,227.3L349.8,226.5L350.4,225.7L350.9,224.9L351.4,224.1L351.9,223.3L352.4,222.5L352.9,221.7L353.4,220.9L353.9,220.0L354.4,219.2L354.9,218.4L355.4,217.5L355.9,216.7L356.5,215.9L357.0,215.0L357.5,214.2L358.0,213.4L358.5,212.6L359.0,211.7L359.5,210.9L360.0,210.1L360.5,209.3L361.0,208.5L361.5,207.7L362.0,206.8L362.5,206.0L363.1,205.2L363.6,204.4L364.1,203.6L364.6,202.8L365.1,202.0L365.6,201.2L366.1,200.4L366.6,199.6L367.1,198.8L367.6,197.9L368.1,197.1L368.6,196.3L369.1,195.5L369.7,194.6L370.2,193.8L370.7,192.9L371.2,192.0L371.7,191.2L372.2,190.3L372.7,189.4L373.2,188.4L373.7,187.5L374.2,186.5L374.7,185.6L375.2,184.5L375.7,183.5L376.3,182.5L376.8,181.4L377.3,180.3L377.8,179.2L378.3,178.1L378.8,176.9L379.3,175.8L379.8,174.6L380.3,173.4L380.8,172.2L381.3,171.0L381.8,169.9L382.3,168.7L382.9,167.6L383.4,166.4L383.9,165.4L384.4,164.3L384.9,163.3L385.4,162.4L385.9,161.5L386.4,160.6L386.9,159.8L387.4,159.1L387.9,158.4L388.4,157.8L388.9,157.3L389.5,156.8L390.0,156.4L390.5,156.0L391.0,155.7L391.5,155.5L392.0,155.3L392.5,155.1L393.0,155.0L393.5,154.9L394.0,154.9L394.5,154.9L395.0,154.9L395.5,154.9L396.1,154.9L396.6,155.0L397.1,155.1L397.6,155.2L398.1,155.3L398.6,155.4L399.1,155.5L399.6,155.7L400.1,155.8L400.6,155.9L401.1,156.1L401.6,156.2L402.1,156.4L402.7,156.6L403.2,156.7L403.7,156.9L404.2,157.1L404.7,157.3L405.2,157.5L405.7,157.7L406.2,157.9L406.7,158.1L407.2,158.3L407.7,158.6L408.2,158.8L408.7,159.1L409.3,159.3L409.8,159.6L410.3,159.9L410.8,160.2L411.3,160.5L411.8,160.8L412.3,161.1L412.8,161.4L413.3,161.8L413.8,162.1L414.3,162.5L414.8,162.9L415.3,163.3L415.9,163.7L416.4,164.1L416.9,164.5L417.4,165.0L417.9,165.4L418.4,165.9L418.9,166.4L419.4,166.9L419.9,167.4L420.4,167.9L420.9,168.4L421.4,168.9L421.9,169.3L422.5,169.8L423.0,170.3L423.5,170.7L424.0,171.1L424.5,171.4L425.0,171.6L425.5,171.8L426.0,171.8L426.5,171.8L427.0,171.6L427.5,171.2L428.0,170.7L428.5,170.1L429.1,169.3L429.6,168.5L430.1,167.5L430.6,166.4L431.1,165.3L431.6,164.2L432.1,163.0L432.6,161.9L433.1,160.8L433.6,159.8L434.1,158.8L434.6,157.9L435.1,157.2L435.7,156.5L436.2,155.9L436.7,155.4L437.2,155.1L437.7,154.9L438.2,154.8L438.7,154.9L439.2,155.2L439.7,155.6L440.2,156.3L440.7,157.2L441.2,158.2L441.7,159.5L442.3,161.1L442.8,162.8L443.3,164.7L443.8,166.9L444.3,169.2L444.8,171.8L445.3,174.5L445.8,177.5L446.3,180.6L446.8,184.0L447.3,187.5L447.8,191.2L448.3,195.1L448.9,199.1L449.4,203.2L449.9,207.4L450.4,211.7L450.9,216.0L451.4,220.4L451.9,224.7L452.4,228.9L452.9,233.0L453.4,236.9L453.9,240.6L454.4,241.0" stroke="#6a3cc8" stroke-width="1.0" fill="none"/><path d="M294.0,241.0L345.3,240.8L345.8,240.3L346.3,239.7L346.8,239.1L347.3,238.5L347.8,237.8L348.3,237.2L348.8,236.5L349.3,235.8L349.8,235.1L350.4,234.4L350.9,233.7L351.4,232.9L351.9,232.2L352.4,231.4L352.9,230.5L353.4,229.7L353.9,228.9L354.4,228.0L354.9,227.1L355.4,226.2L355.9,225.3L356.5,224.4L357.0,223.5L357.5,222.5L358.0,221.6L358.5,220.6L359.0,219.7L359.5,218.7L360.0,217.7L360.5,216.8L361.0,215.8L361.5,214.8L362.0,213.9L362.5,212.9L363.1,212.0L363.6,211.0L364.1,210.0L364.6,209.1L365.1,208.1L365.6,207.2L366.1,206.3L366.6,205.3L367.1,204.4L367.6,203.4L368.1,202.5L368.6,201.6L369.1,200.6L369.7,199.7L370.2,198.7L370.7,197.8L371.2,196.8L371.7,195.9L372.2,194.9L372.7,193.9L373.2,192.9L373.7,191.9L374.2,190.9L374.7,189.9L375.2,188.9L375.7,187.9L376.3,186.8L376.8,185.8L377.3,184.8L377.8,183.8L378.3,182.7L378.8,181.7L379.3,180.8L379.8,179.8L380.3,178.9L380.8,178.0L381.3,177.2L381.8,176.4L382.3,175.6L382.9,175.0L383.4,174.3L383.9,173.8L384.4,173.3L384.9,172.9L385.4,172.5L385.9,172.3L386.4,172.0L386.9,171.9L387.4,171.8L387.9,171.7L388.4,171.7L388.9,171.7L389.5,171.8L390.0,172.0L390.5,172.1L391.0,172.3L391.5,172.6L392.0,172.8L392.5,173.1L393.0,173.4L393.5,173.8L394.0,174.2L394.5,174.6L395.0,175.0L395.5,175.5L396.1,176.0L396.6,176.5L397.1,177.1L397.6,177.7L398.1,178.3L398.6,178.9L399.1,179.6L399.6,180.3L400.1,181.0L400.6,181.8L401.1,182.5L401.6,183.3L402.1,184.1L402.7,184.9L403.2,185.8L403.7,186.6L404.2,187.5L404.7,188.4L405.2,189.2L405.7,190.1L406.2,191.0L406.7,191.8L407.2,192.7L407.7,193.5L408.2,194.2L408.7,194.9L409.3,195.5L409.8,196.1L410.3,196.5L410.8,196.8L411.3,196.9L411.8,196.9L412.3,196.6L412.8,196.2L413.3,195.6L413.8,194.8L414.3,193.8L414.8,192.7L415.3,191.5L415.9,190.2L416.4,188.7L416.9,187.3L417.4,185.7L417.9,184.2L418.4,182.6L418.9,181.1L419.4,179.5L419.9,178.0L420.4,176.5L420.9,175.1L421.4,173.7L421.9,172.3L422.5,171.0L423.0,169.7L423.5,168.5L424.0,167.3L424.5,166.2L425.0,165.2L425.5,164.2L426.0,163.2L426.5,162.3L427.0,161.5L427.5,160.7L428.0,160.0L428.5,159.4L429.1,158.8L429.6,158.2L430.1,157.7L430.6,157.3L431.1,157.0L431.6,156.6L432.1,156.4L432.6,156.2L433.1,156.1L433.6,156.0L434.1,156.0L434.6,156.2L435.1,156.6L435.7,157.2L436.2,158.0L436.7,159.1L437.2,160.4L437.7,161.9L438.2,163.7L438.7,165.7L439.2,167.9L439.7,170.3L440.2,173.0L440.7,175.9L441.2,179.0L441.7,182.3L442.3,185.9L442.8,189.6L443.3,193.7L443.8,197.9L444.3,202.4L444.8,207.0L445.3,212.0L445.8,217.1L446.3,222.5L446.8,228.1L447.3,233.9L447.8,239.9L448.3,241.0" stroke="#8c32b4" stroke-width="1.0" fill="none"/><path d="M294.0,241.0L320.4,240.7L320.9,240.1L321.4,239.6L321.9,239.1L322.4,238.6L322.9,238.0L323.4,237.5L324.0,237.0L324.5,236.4L325.0,235.9L325.5,235.3L326.0,234.8L326.5,234.2L327.0,233.6L327.5,233.1L328.0,232.5L328.5,231.9L329.0,231.3L329.5,230.8L330.0,230.2L330.6,229.6L331.1,229.0L331.6,228.4L332.1,227.8L332.6,227.2L333.1,226.6L333.6,225.9L334.1,225.3L334.6,224.7L335.1,224.1L335.6,223.5L336.1,222.9L336.6,222.2L337.2,221.6L337.7,221.0L338.2,220.4L338.7,219.7L339.2,219.1L339.7,218.5L340.2,217.8L340.7,217.2L341.2,216.6L341.7,216.0L342.2,215.4L342.7,214.7L343.2,214.1L343.8,213.5L344.3,212.9L344.8,212.3L345.3,211.6L345.8,211.0L346.3,210.4L346.8,209.8L347.3,209.2L347.8,208.6L348.3,208.0L348.8,207.4L349.3,206.8L349.8,206.2L350.4,205.6L350.9,205.0L351.4,204.4L351.9,203.9L352.4,203.3L352.9,202.7L353.4,202.1L353.9,201.5L354.4,200.9L354.9,200.3L355.4,199.8L355.9,199.2L356.5,198.6L357.0,198.0L357.5,197.4L358.0,196.9L358.5,196.3L359.0,195.7L359.5,195.2L360.0,194.6L360.5,194.0L361.0,193.5L361.5,192.9L362.0,192.3L362.5,191.8L363.1,191.2L363.6,190.7L364.1,190.1L364.6,189.6L365.1,189.0L365.6,188.5L366.1,188.0L366.6,187.4L367.1,186.9L367.6,186.4L368.1,185.9L368.6,185.4L369.1,184.9L369.7,184.3L370.2,183.8L370.7,183.3L371.2,182.8L371.7,182.3L372.2,181.8L372.7,181.3L373.2,180.8L373.7,180.4L374.2,179.9L374.7,179.4L375.2,178.9L375.7,178.4L376.3,177.9L376.8,177.4L377.3,176.9L377.8,176.4L378.3,176.0L378.8,175.5L379.3,175.0L379.8,174.5L380.3,174.1L380.8,173.6L381.3,173.2L381.8,172.7L382.3,172.3L382.9,171.9L383.4,171.5L383.9,171.0L384.4,170.7L384.9,170.3L385.4,169.9L385.9,169.5L386.4,169.2L386.9,168.9L387.4,168.6L387.9,168.3L388.4,168.0L388.9,167.7L389.5,167.5L390.0,167.2L390.5,167.0L391.0,166.8L391.5,166.6L392.0,166.4L392.5,166.2L393.0,166.0L393.5,165.9L394.0,165.7L394.5,165.6L395.0,165.5L395.5,165.3L396.1,165.2L396.6,165.1L397.1,165.0L397.6,164.9L398.1,164.8L398.6,164.8L399.1,164.7L399.6,164.6L400.1,164.6L400.6,164.5L401.1,164.5L401.6,164.4L402.1,164.4L402.7,164.4L403.2,164.4L403.7,164.4L404.2,164.4L404.7,164.5L405.2,164.5L405.7,164.6L406.2,164.6L406.7,164.7L407.2,164.8L407.7,165.0L408.2,165.1L408.7,165.3L409.3,165.4L409.8,165.6L410.3,165.8L410.8,166.0L411.3,166.3L411.8,166.5L412.3,166.7L412.8,167.0L413.3,167.3L413.8,167.6L414.3,167.9L414.8,168.2L415.3,168.5L415.9,168.8L416.4,169.1L416.9,169.5L417.4,169.8L417.9,170.2L418.4,170.6L418.9,170.9L419.4,171.3L419.9,171.7L420.4,172.1L420.9,172.6L421.4,173.0L421.9,173.4L422.5,173.9L423.0,174.4L423.5,174.9L424.0,175.4L424.5,175.9L425.0,176.4L425.5,177.0L426.0,177.6L426.5,178.2L427.0,178.8L427.5,179.4L428.0,180.0L428.5,180.7L429.1,181.4L429.6,182.1L430.1,182.8L430.6,183.5L431.1,184.3L431.6,185.0L432.1,185.8L432.6,186.7L433.1,187.5L433.6,188.3L434.1,189.2L434.6,190.0L435.1,190.9L435.7,191.7L436.2,192.5L436.7,193.3L437.2,194.0L437.7,194.6L438.2,195.1L438.7,195.5L439.2,195.7L439.7,195.8L440.2,195.7L440.7,195.4L441.2,194.8L441.7,194.1L442.3,193.2L442.8,192.1L443.3,190.9L443.8,189.6L444.3,188.3L444.8,186.9L445.3,185.5L445.8,184.1L446.3,182.8L446.8,181.6L447.3,180.4L447.8,179.3L448.3,178.4L448.9,177.5L449.4,176.8L449.9,176.2L450.4,175.7L450.9,175.4L451.4,175.2L451.9,175.2L452.4,175.3L452.9,175.7L453.4,176.2L453.9,177.0L454.4,178.0L454.9,179.2L455.5,180.6L456.0,182.3L456.5,184.2L457.0,186.3L457.5,188.6L458.0,191.1L458.5,193.8L459.0,196.8L459.5,200.0L460.0,203.3L460.5,206.9L461.0,210.7L461.5,214.7L462.1,218.9L462.6,223.3L463.1,227.8L463.6,232.5L464.1,237.4L464.6,241.0" stroke="#5a1a64" stroke-width="1.0" fill="none"/><path d="M294.0,231.3L294.5,231.1L295.0,230.9L295.5,230.7L296.0,230.5L296.5,230.3L297.0,230.0L297.6,229.7L298.1,229.5L298.6,229.2L299.1,228.9L299.6,228.6L300.1,228.3L300.6,227.9L301.1,227.6L301.6,227.3L302.1,226.9L302.6,226.6L303.1,226.3L303.6,225.9L304.2,225.6L304.7,225.3L305.2,224.9L305.7,224.6L306.2,224.2L306.7,223.9L307.2,223.5L307.7,223.2L308.2,222.8L308.7,222.5L309.2,222.1L309.7,221.8L310.2,221.4L310.8,221.1L311.3,220.7L311.8,220.4L312.3,220.0L312.8,219.7L313.3,219.3L313.8,219.0L314.3,218.7L314.8,218.3L315.3,218.0L315.8,217.6L316.3,217.3L316.8,216.9L317.4,216.6L317.9,216.2L318.4,215.9L318.9,215.5L319.4,215.2L319.9,214.8L320.4,214.5L320.9,214.1L321.4,213.8L321.9,213.4L322.4,213.1L322.9,212.7L323.4,212.4L324.0,212.0L324.5,211.7L325.0,211.4L325.5,211.0L326.0,210.7L326.5,210.3L327.0,210.0L327.5,209.7L328.0,209.3L328.5,209.0L329.0,208.6L329.5,208.3L330.0,208.0L330.6,207.6L331.1,207.3L331.6,207.0L332.1,206.6L332.6,206.3L333.1,206.0L333.6,205.7L334.1,205.3L334.6,205.0L335.1,204.7L335.6,204.4L336.1,204.1L336.6,203.8L337.2,203.4L337.7,203.1L338.2,202.8L338.7,202.5L339.2,202.2L339.7,201.9L340.2,201.6L340.7,201.3L341.2,201.0L341.7,200.7L342.2,200.4L342.7,200.1L343.2,199.8L343.8,199.5L344.3,199.2L344.8,198.9L345.3,198.6L345.8,198.3L346.3,198.0L346.8,197.7L347.3,197.4L347.8,197.1L348.3,196.7L348.8,196.4L349.3,196.1L349.8,195.8L350.4,195.5L350.9,195.2L351.4,194.9L351.9,194.5L352.4,194.2L352.9,193.9L353.4,193.5L353.9,193.2L354.4,192.8L354.9,192.5L355.4,192.1L355.9,191.8L356.5,191.4L357.0,191.1L357.5,190.7L358.0,190.3L358.5,189.9L359.0,189.5L359.5,189.1L360.0,188.7L360.5,188.3L361.0,187.9L361.5,187.4L362.0,187.0L362.5,186.5L363.1,186.1L363.6,185.6L364.1,185.1L364.6,184.7L365.1,184.2L365.6,183.7L366.1,183.2L366.6,182.7L367.1,182.2L367.6,181.7L368.1,181.2L368.6,180.7L369.1,180.2L369.7,179.7L370.2,179.2L370.7,178.7L371.2,178.2L371.7,177.7L372.2,177.2L372.7,176.7L373.2,176.2L373.7,175.8L374.2,175.3L374.7,174.9L375.2,174.5L375.7,174.0L376.3,173.6L376.8,173.2L377.3,172.8L377.8,172.4L378.3,172.0L378.8,171.6L379.3,171.3L379.8,170.9L380.3,170.6L380.8,170.2L381.3,169.9L381.8,169.6L382.3,169.3L382.9,169.0L383.4,168.7L383.9,168.4L384.4,168.1L384.9,167.9L385.4,167.6L385.9,167.4L386.4,167.2L386.9,167.0L387.4,166.9L387.9,166.7L388.4,166.6L388.9,166.5L389.5,166.5L390.0,166.4L390.5,166.4L391.0,166.4L391.5,166.4L392.0,166.4L392.5,166.4L393.0,166.5L393.5,166.6L394.0,166.7L394.5,166.8L395.0,167.0L395.5,167.2L396.1,167.3L396.6,167.5L397.1,167.7L397.6,168.0L398.1,168.2L398.6,168.4L399.1,168.7L399.6,168.9L400.1,169.2L400.6,169.5L401.1,169.8L401.6,170.1L402.1,170.4L402.7,170.7L403.2,171.1L403.7,171.4L404.2,171.8L404.7,172.1L405.2,172.5L405.7,172.9L406.2,173.3L406.7,173.7L407.2,174.1L407.7,174.6L408.2,175.0L408.7,175.5L409.3,176.0L409.8,176.5L410.3,177.0L410.8,177.5L411.3,178.1L411.8,178.6L412.3,179.2L412.8,179.8L413.3,180.3L413.8,180.9L414.3,181.6L414.8,182.2L415.3,182.8L415.9,183.5L416.4,184.1L416.9,184.8L417.4,185.4L417.9,186.1L418.4,186.8L418.9,187.4L419.4,188.1L419.9,188.7L420.4,189.4L420.9,190.0L421.4,190.6L421.9,191.1L422.5,191.5L423.0,191.9L423.5,192.2L424.0,192.3L424.5,192.3L425.0,192.1L425.5,191.7L426.0,191.1L426.5,190.4L427.0,189.4L427.5,188.3L428.0,187.1L428.5,185.7L429.1,184.2L429.6,182.8L430.1,181.3L430.6,179.8L431.1,178.4L431.6,177.0L432.1,175.7L432.6,174.6L433.1,173.5L433.6,172.6L434.1,171.9L434.6,171.3L435.1,170.8L435.7,170.6L436.2,170.5L436.7,170.5L437.2,170.8L437.7,171.2L438.2,171.9L438.7,172.8L439.2,173.9L439.7,175.2L440.2,176.7L440.7,178.5L441.2,180.4L441.7,182.5L442.3,184.9L442.8,187.5L443.3,190.2L443.8,193.1L444.3,196.3L444.8,199.6L445.3,203.0L445.8,206.6L446.3,210.4L446.8,214.2L447.3,218.2L447.8,222.2L448.3,226.2L448.9,230.2L449.4,234.1L449.9,238.0L450.4,241.0" stroke="#2d2d2d" stroke-width="1.0" fill="none"/><path d="M294.0,241.0L306.2,240.9L306.7,240.5L307.2,240.1L307.7,239.6L308.2,239.2L308.7,238.8L309.2,238.3L309.7,237.9L310.2,237.5L310.8,237.0L311.3,236.6L311.8,236.1L312.3,235.7L312.8,235.2L313.3,234.8L313.8,234.4L314.3,233.9L314.8,233.4L315.3,233.0L315.8,232.5L316.3,232.1L316.8,231.6L317.4,231.2L317.9,230.7L318.4,230.2L318.9,229.8L319.4,229.3L319.9,228.8L320.4,228.3L320.9,227.9L321.4,227.4L321.9,226.9L322.4,226.5L322.9,226.0L323.4,225.5L324.0,225.0L324.5,224.5L325.0,224.1L325.5,223.6L326.0,223.1L326.5,222.6L327.0,222.2L327.5,221.7L328.0,221.2L328.5,220.7L329.0,220.2L329.5,219.8L330.0,219.3L330.6,218.8L331.1,218.3L331.6,217.8L332.1,217.4L332.6,216.9L333.1,216.4L333.6,215.9L334.1,215.5L334.6,215.0L335.1,214.5L335.6,214.0L336.1,213.6L336.6,213.1L337.2,212.6L337.7,212.2L338.2,211.7L338.7,211.2L339.2,210.8L339.7,210.3L340.2,209.9L340.7,209.4L341.2,208.9L341.7,208.5L342.2,208.0L342.7,207.6L343.2,207.1L343.8,206.7L344.3,206.2L344.8,205.8L345.3,205.3L345.8,204.9L346.3,204.4L346.8,204.0L347.3,203.5L347.8,203.1L348.3,202.6L348.8,202.2L349.3,201.7L349.8,201.3L350.4,200.8L350.9,200.4L351.4,199.9L351.9,199.5L352.4,199.1L352.9,198.6L353.4,198.2L353.9,197.7L354.4,197.3L354.9,196.8L355.4,196.4L355.9,196.0L356.5,195.5L357.0,195.1L357.5,194.6L358.0,194.2L358.5,193.7L359.0,193.3L359.5,192.8L360.0,192.4L360.5,191.9L361.0,191.5L361.5,191.0L362.0,190.5L362.5,190.1L363.1,189.6L363.6,189.1L364.1,188.6L364.6,188.2L365.1,187.7L365.6,187.2L366.1,186.7L366.6,186.2L367.1,185.6L367.6,185.1L368.1,184.6L368.6,184.0L369.1,183.5L369.7,182.9L370.2,182.4L370.7,181.8L371.2,181.3L371.7,180.7L372.2,180.1L372.7,179.6L373.2,179.0L373.7,178.4L374.2,177.9L374.7,177.3L375.2,176.8L375.7,176.2L376.3,175.7L376.8,175.2L377.3,174.7L377.8,174.2L378.3,173.7L378.8,173.3L379.3,172.8L379.8,172.4L380.3,172.0L380.8,171.6L381.3,171.3L381.8,170.9L382.3,170.6L382.9,170.3L383.4,170.1L383.9,169.8L384.4,169.6L384.9,169.4L385.4,169.2L385.9,169.1L386.4,169.0L386.9,168.9L387.4,168.8L387.9,168.7L388.4,168.6L388.9,168.6L389.5,168.6L390.0,168.6L390.5,168.6L391.0,168.6L391.5,168.6L392.0,168.6L392.5,168.6L393.0,168.7L393.5,168.7L394.0,168.8L394.5,168.8L395.0,168.9L395.5,169.0L396.1,169.1L396.6,169.1L397.1,169.2L397.6,169.3L398.1,169.4L398.6,169.5L399.1,169.6L399.6,169.7L400.1,169.8L400.6,170.0L401.1,170.1L401.6,170.3L402.1,170.4L402.7,170.6L403.2,170.8L403.7,171.0L404.2,171.2L404.7,171.5L405.2,171.7L405.7,172.0L406.2,172.2L406.7,172.5L407.2,172.9L407.7,173.2L408.2,173.5L408.7,173.9L409.3,174.3L409.8,174.7L410.3,175.1L410.8,175.5L411.3,176.0L411.8,176.5L412.3,176.9L412.8,177.4L413.3,177.9L413.8,178.4L414.3,179.0L414.8,179.5L415.3,180.1L415.9,180.6L416.4,181.2L416.9,181.8L417.4,182.4L417.9,183.0L418.4,183.6L418.9,184.3L419.4,184.9L419.9,185.6L420.4,186.2L420.9,186.9L421.4,187.5L421.9,188.2L422.5,188.9L423.0,189.6L423.5,190.3L424.0,190.9L424.5,191.6L425.0,192.2L425.5,192.8L426.0,193.4L426.5,193.8L427.0,194.2L427.5,194.5L428.0,194.6L428.5,194.6L429.1,194.4L429.6,194.0L430.1,193.5L430.6,192.7L431.1,191.7L431.6,190.6L432.1,189.3L432.6,188.0L433.1,186.6L433.6,185.2L434.1,183.8L434.6,182.4L435.1,181.1L435.7,179.8L436.2,178.7L436.7,177.7L437.2,176.8L437.7,176.1L438.2,175.5L438.7,175.1L439.2,174.8L439.7,174.7L440.2,174.8L440.7,175.1L441.2,175.6L441.7,176.3L442.3,177.2L442.8,178.3L443.3,179.7L443.8,181.3L444.3,183.0L444.8,185.0L445.3,187.2L445.8,189.6L446.3,192.3L446.8,195.1L447.3,198.1L447.8,201.4L448.3,204.8L448.9,208.4L449.4,212.2L449.9,216.1L450.4,220.2L450.9,224.5L451.4,228.8L451.9,233.2L452.4,237.7L452.9,241.0" stroke="#3c3c3c" stroke-width="1.0" fill="none"/><path d="M294.0,205.8L294.5,205.6L295.0,205.5L295.5,205.4L296.0,205.2L296.5,205.1L297.0,204.9L297.6,204.7L298.1,204.6L298.6,204.4L299.1,204.2L299.6,204.0L300.1,203.8L300.6,203.6L301.1,203.4L301.6,203.2L302.1,203.0L302.6,202.8L303.1,202.6L303.6,202.4L304.2,202.1L304.7,201.9L305.2,201.7L305.7,201.5L306.2,201.3L306.7,201.1L307.2,200.8L307.7,200.6L308.2,200.4L308.7,200.1L309.2,199.9L309.7,199.7L310.2,199.4L310.8,199.2L311.3,199.0L311.8,198.7L312.3,198.4L312.8,198.2L313.3,197.9L313.8,197.7L314.3,197.4L314.8,197.1L315.3,196.9L315.8,196.6L316.3,196.3L316.8,196.0L317.4,195.7L317.9,195.5L318.4,195.2L318.9,194.9L319.4,194.6L319.9,194.3L320.4,194.0L320.9,193.7L321.4,193.4L321.9,193.1L322.4,192.8L322.9,192.5L323.4,192.2L324.0,191.9L324.5,191.6L325.0,191.2L325.5,190.9L326.0,190.6L326.5,190.3L327.0,190.0L327.5,189.7L328.0,189.4L328.5,189.0L329.0,188.7L329.5,188.4L330.0,188.1L330.6,187.8L331.1,187.5L331.6,187.1L332.1,186.8L332.6,186.5L333.1,186.2L333.6,185.9L334.1,185.6L334.6,185.3L335.1,184.9L335.6,184.6L336.1,184.3L336.6,184.0L337.2,183.7L337.7,183.4L338.2,183.0L338.7,182.7L339.2,182.4L339.7,182.1L340.2,181.7L340.7,181.4L341.2,181.1L341.7,180.8L342.2,180.4L342.7,180.1L343.2,179.8L343.8,179.4L344.3,179.1L344.8,178.7L345.3,178.4L345.8,178.0L346.3,177.6L346.8,177.3L347.3,176.9L347.8,176.5L348.3,176.2L348.8,175.8L349.3,175.4L349.8,175.0L350.4,174.6L350.9,174.2L351.4,173.8L351.9,173.4L352.4,173.0L352.9,172.6L353.4,172.2L353.9,171.8L354.4,171.3L354.9,170.9L355.4,170.5L355.9,170.1L356.5,169.7L357.0,169.2L357.5,168.8L358.0,168.4L358.5,167.9L359.0,167.5L359.5,167.1L360.0,166.7L360.5,166.2L361.0,165.8L361.5,165.3L362.0,164.9L362.5,164.5L363.1,164.0L363.6,163.6L364.1,163.1L364.6,162.7L365.1,162.2L365.6,161.8L366.1,161.3L366.6,160.8L367.1,160.4L367.6,159.9L368.1,159.5L368.6,159.0L369.1,158.6L369.7,158.1L370.2,157.6L370.7,157.2L371.2,156.7L371.7,156.3L372.2,155.8L372.7,155.4L373.2,155.0L373.7,154.5L374.2,154.1L374.7,153.7L375.2,153.3L375.7,152.9L376.3,152.5L376.8,152.1L377.3,151.7L377.8,151.3L378.3,150.9L378.8,150.6L379.3,150.2L379.8,149.8L380.3,149.5L380.8,149.2L381.3,148.8L381.8,148.5L382.3,148.2L382.9,147.8L383.4,147.5L383.9,147.2L384.4,146.9L384.9,146.6L385.4,146.3L385.9,146.0L386.4,145.7L386.9,145.5L387.4,145.2L387.9,144.9L388.4,144.6L388.9,144.4L389.5,144.1L390.0,143.8L390.5,143.6L391.0,143.3L391.5,143.1L392.0,142.8L392.5,142.6L393.0,142.4L393.5,142.1L394.0,141.9L394.5,141.7L395.0,141.5L395.5,141.3L396.1,141.1L396.6,140.9L397.1,140.7L397.6,140.5L398.1,140.3L398.6,140.1L399.1,139.9L399.6,139.7L400.1,139.5L400.6,139.4L401.1,139.2L401.6,139.0L402.1,138.9L402.7,138.7L403.2,138.5L403.7,138.4L404.2,138.2L404.7,138.1L405.2,137.9L405.7,137.8L406.2,137.6L406.7,137.5L407.2,137.3L407.7,137.2L408.2,137.0L408.7,136.9L409.3,136.8L409.8,136.7L410.3,136.5L410.8,136.4L411.3,136.3L411.8,136.2L412.3,136.1L412.8,136.0L413.3,135.9L413.8,135.8L414.3,135.7L414.8,135.6L415.3,135.6L415.9,135.5L416.4,135.4L416.9,135.4L417.4,135.3L417.9,135.3L418.4,135.3L418.9,135.2L419.4,135.2L419.9,135.2L420.4,135.2L420.9,135.2L421.4,135.2L421.9,135.2L422.5,135.2L423.0,135.2L423.5,135.2L424.0,135.3L424.5,135.3L425.0,135.3L425.5,135.4L426.0,135.4L426.5,135.4L427.0,135.5L427.5,135.6L428.0,135.6L428.5,135.7L429.1,135.8L429.6,135.8L430.1,135.9L430.6,136.0L431.1,136.1L431.6,136.3L432.1,136.4L432.6,136.5L433.1,136.7L433.6,136.9L434.1,137.0L434.6,137.2L435.1,137.4L435.7,137.6L436.2,137.9L436.7,138.1L437.2,138.4L437.7,138.7L438.2,139.0L438.7,139.3L439.2,139.6L439.7,139.9L440.2,140.2L440.7,140.6L441.2,140.9L441.7,141.2L442.3,141.6L442.8,141.9L443.3,142.2L443.8,142.5L444.3,142.8L444.8,143.0L445.3,143.1L445.8,143.2L446.3,143.2L446.8,143.1L447.3,142.8L447.8,142.4L448.3,141.9L448.9,141.2L449.4,140.3L449.9,139.3L450.4,138.1L450.9,136.7L451.4,135.3L451.9,133.7L452.4,132.0L452.9,130.3L453.4,128.5L453.9,126.7L454.4,124.9L454.9,123.1L455.5,121.3L456.0,119.6L456.5,117.9L457.0,116.3L457.5,114.7L458.0,113.1L458.5,111.7L459.0,110.3L459.5,109.0L460.0,107.8L460.5,106.7L461.0,105.7L461.5,104.7L462.1,103.9L462.6,103.1L463.1,102.4L463.6,101.9L464.1,101.4L464.6,101.0L465.1,100.7L465.6,100.5L466.1,100.4L466.6,100.4L467.1,100.5L467.6,100.9L468.1,101.4L468.7,102.1L469.2,103.0L469.7,104.1L470.2,105.4L470.7,106.9L471.2,108.6L471.7,110.4L472.2,112.5L472.7,114.7L473.2,117.2L473.7,119.8L474.2,122.6L474.7,125.6L475.3,128.8L475.8,132.2L476.3,135.7L476.8,139.5L477.3,143.4L477.8,147.6L478.3,151.9L478.8,156.4L479.3,161.1L479.8,165.9L480.3,171.0L480.8,176.2L481.4,181.5L481.9,187.1L482.4,192.8L482.9,198.6L483.4,204.5L483.9,210.6L484.4,216.7L484.9,222.8L485.4,229.0L485.9,235.1L486.4,241.0" stroke="#333333" stroke-width="1.05" fill="none" stroke-dasharray="4,3"/></g>
<path d="M295.0,236.00h5M536.2,236.00h-5M295.0,223.15h2.8M536.2,223.15h-2.8M295.0,215.63h2.8M536.2,215.63h-2.8M295.0,210.29h2.8M536.2,210.29h-2.8M295.0,206.15h2.8M536.2,206.15h-2.8M295.0,202.77h2.8M536.2,202.77h-2.8M295.0,199.91h2.8M536.2,199.91h-2.8M295.0,197.44h2.8M536.2,197.44h-2.8M295.0,195.25h2.8M536.2,195.25h-2.8M295.0,193.30h5M536.2,193.30h-5M295.0,180.45h2.8M536.2,180.45h-2.8M295.0,172.93h2.8M536.2,172.93h-2.8M295.0,167.59h2.8M536.2,167.59h-2.8M295.0,163.45h2.8M536.2,163.45h-2.8M295.0,160.07h2.8M536.2,160.07h-2.8M295.0,157.21h2.8M536.2,157.21h-2.8M295.0,154.74h2.8M536.2,154.74h-2.8M295.0,152.55h2.8M536.2,152.55h-2.8M295.0,150.60h5M536.2,150.60h-5M295.0,137.75h2.8M536.2,137.75h-2.8M295.0,130.23h2.8M536.2,130.23h-2.8M295.0,124.89h2.8M536.2,124.89h-2.8M295.0,120.75h2.8M536.2,120.75h-2.8M295.0,117.37h2.8M536.2,117.37h-2.8M295.0,114.51h2.8M536.2,114.51h-2.8M295.0,112.04h2.8M536.2,112.04h-2.8M295.0,109.85h2.8M536.2,109.85h-2.8M295.0,107.90h5M536.2,107.90h-5M295.0,95.05h2.8M536.2,95.05h-2.8M295.0,87.53h2.8M536.2,87.53h-2.8M295.0,82.19h2.8M536.2,82.19h-2.8M295.0,78.05h2.8M536.2,78.05h-2.8M295.0,74.67h2.8M536.2,74.67h-2.8M295.0,71.81h2.8M536.2,71.81h-2.8M295.0,69.34h2.8M536.2,69.34h-2.8M295.0,67.15h2.8M536.2,67.15h-2.8M294.47,236.0v-2.8M294.47,65.2v2.8M309.18,236.0v-2.8M309.18,65.2v2.8M321.62,236.0v-2.8M321.62,65.2v2.8M332.39,236.0v-2.8M332.39,65.2v2.8M341.90,236.0v-2.8M341.90,65.2v2.8M350.40,236.0v-5M350.40,65.2v5M406.33,236.0v-2.8M406.33,65.2v2.8M439.05,236.0v-2.8M439.05,65.2v2.8M462.26,236.0v-2.8M462.26,65.2v2.8M480.27,236.0v-2.8M480.27,65.2v2.8M494.98,236.0v-2.8M494.98,65.2v2.8M507.42,236.0v-2.8M507.42,65.2v2.8M518.19,236.0v-2.8M518.19,65.2v2.8M527.70,236.0v-2.8M527.70,65.2v2.8M536.20,236.0v-5M536.20,65.2v5" stroke="#333" stroke-width="1.1" fill="none"/>
<rect x="295.0" y="65.2" width="241.20" height="170.80" fill="none" stroke="#333" stroke-width="1.2"/>
<g><text transform="translate(341.53,52.80) scale(0.927,1)" font-size="18.02" fill="#1e1e1e" stroke="#fff" stroke-width="0.29">DEM</text><path d="M394.6,38.4H390.8V56.6H394.6" stroke="#1e1e1e" stroke-width="1.2" fill="none"/><text transform="translate(396.72,52.64) scale(1.244,1)" font-size="16.61" fill="#1e1e1e" stroke="#fff" stroke-width="0.27">cm</text><path d="M425.9,40.8H433.1" stroke="#1e1e1e" stroke-width="1.2" fill="none"/><text transform="translate(434.63,44.09) scale(1.017,1)" font-size="11.61" fill="#1e1e1e" stroke="#fff" stroke-width="0.19">5</text><text transform="translate(450.71,52.90) scale(0.953,1)" font-size="17.73" fill="#1e1e1e" stroke="#fff" stroke-width="0.28">K</text><path d="M464.4,41.0H471.0" stroke="#1e1e1e" stroke-width="1.2" fill="none"/><path d="M474.6,39.4L476.4,37.9V44.3" stroke="#1e1e1e" stroke-width="1.1" fill="none"/><path d="M481.2,38.9H484.7V56.8H481.2" stroke="#1e1e1e" stroke-width="1.2" fill="none"/><path d="M262.00,67.50L264.10,65.40V75.40" stroke="#1e1e1e" stroke-width="1.15" fill="none"/><text transform="translate(269.00,75.26) scale(1.060,1)" font-size="14.41" fill="#1e1e1e" stroke="#fff" stroke-width="0.23">0</text><text transform="translate(278.50,68.42) scale(1.223,1)" font-size="8.19" fill="#1e1e1e" stroke="#fff" stroke-width="0.08">23</text><path d="M262.30,106.00L264.40,103.90V114.30" stroke="#1e1e1e" stroke-width="1.15" fill="none"/><text transform="translate(269.28,114.15) scale(1.062,1)" font-size="14.97" fill="#1e1e1e" stroke="#fff" stroke-width="0.24">0</text><text transform="translate(278.37,107.00) scale(1.219,1)" font-size="8.59" fill="#1e1e1e" stroke="#fff" stroke-width="0.09">22</text><path d="M262.60,148.60L264.70,146.50V156.80" stroke="#1e1e1e" stroke-width="1.15" fill="none"/><text transform="translate(269.60,156.66) scale(1.030,1)" font-size="14.83" fill="#1e1e1e" stroke="#fff" stroke-width="0.24">0</text><text transform="translate(278.66,149.50) scale(1.103,1)" font-size="7.88" fill="#1e1e1e" stroke="#fff" stroke-width="0.08">21</text><path d="M262.30,191.00L264.40,188.90V199.30" stroke="#1e1e1e" stroke-width="1.15" fill="none"/><text transform="translate(269.28,199.15) scale(1.062,1)" font-size="14.97" fill="#1e1e1e" stroke="#fff" stroke-width="0.24">0</text><text transform="translate(278.58,192.31) scale(1.095,1)" font-size="9.46" fill="#1e1e1e" stroke="#fff" stroke-width="0.09">20</text><path d="M262.00,227.80L264.10,225.70V236.20" stroke="#1e1e1e" stroke-width="1.15" fill="none"/><text transform="translate(268.95,236.05) scale(1.107,1)" font-size="15.11" fill="#1e1e1e" stroke="#fff" stroke-width="0.24">0</text><text transform="translate(279.08,229.22) scale(1.122,1)" font-size="8.47" fill="#1e1e1e" stroke="#fff" stroke-width="0.08">19</text><path d="M348.00,249.70L350.50,247.20V257.20" stroke="#1e1e1e" stroke-width="1.15" fill="none"/><path d="M528.80,249.30L531.10,247.00V257.50" stroke="#1e1e1e" stroke-width="1.15" fill="none"/><text transform="translate(535.98,257.35) scale(1.062,1)" font-size="14.97" fill="#1e1e1e" stroke="#fff" stroke-width="0.24">0</text><text transform="translate(390.88,275.60) scale(0.643,1)" font-size="15.12" fill="#1e1e1e" stroke="#fff" stroke-width="0.24">T</text><path d="M408.9,264.1H406.9V278.4H408.9" stroke="#1e1e1e" stroke-width="1.2" fill="none"/><text transform="translate(411.45,275.60) scale(0.931,1)" font-size="15.12" fill="#1e1e1e" stroke="#fff" stroke-width="0.24">MK</text><path d="M435.2,264.1H437.3V278.4H435.2" stroke="#1e1e1e" stroke-width="1.2" fill="none"/></g>
</svg>
</body></html>
